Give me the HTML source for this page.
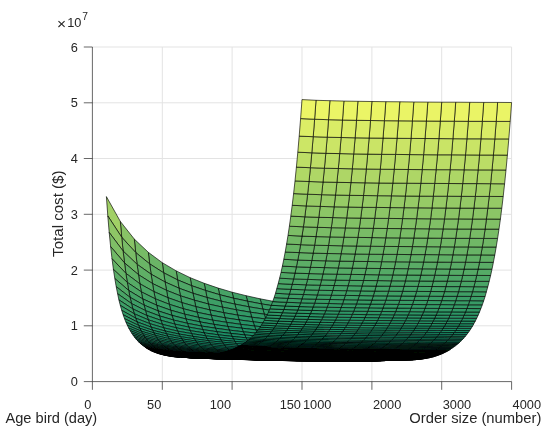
<!DOCTYPE html>
<html><head><meta charset="utf-8"><title>Total cost surface</title>
<style>html,body{margin:0;padding:0;background:#fff}svg{display:block}.b{stroke-width:.8}.c{stroke-width:1.1}.d{stroke-width:1.4}</style></head>
<body>
<svg width="550" height="435" viewBox="0 0 550 435">
<rect width="550" height="435" fill="#ffffff"/>
<g stroke="#e3e3e3" stroke-width="1" fill="none"><line x1="92.4" y1="325.8" x2="511.6" y2="325.8"/><line x1="92.4" y1="270.1" x2="511.6" y2="270.1"/><line x1="92.4" y1="214.3" x2="511.6" y2="214.3"/><line x1="92.4" y1="158.5" x2="511.6" y2="158.5"/><line x1="92.4" y1="102.8" x2="511.6" y2="102.8"/><line x1="92.4" y1="47" x2="511.6" y2="47"/><line x1="162.3" y1="47" x2="162.3" y2="381.6"/><line x1="232.1" y1="47" x2="232.1" y2="381.6"/><line x1="302" y1="47" x2="302" y2="381.6"/><line x1="371.9" y1="47" x2="371.9" y2="381.6"/><line x1="441.7" y1="47" x2="441.7" y2="381.6"/><line x1="511.6" y1="47" x2="511.6" y2="381.6"/></g>
<defs><filter id="soft" filterUnits="userSpaceOnUse" x="0" y="0" width="550" height="435"><feGaussianBlur stdDeviation="0.4"/></filter></defs>
<g stroke="#000" stroke-width="0.65" stroke-linejoin="round" filter="url(#soft)">
<polygon points="302,306.2 303.4,310.2 317.4,311.9 316,308.1" fill="#369a66"/>
<polygon points="303.4,310.2 304.8,314.6 318.8,316.1 317.4,311.9" fill="#329866"/>
<polygon points="304.8,314.6 306.2,319.1 320.2,320.4 318.8,316.1" fill="#2e9666"/>
<polygon points="306.2,319.1 307.6,323.3 321.6,324.5 320.2,320.4" fill="#299466"/>
<polygon points="307.6,323.3 309,327.3 323,328.4 321.6,324.5" fill="#259266"/>
<polygon points="309,327.3 310.4,331 324.4,331.9 323,328.4" fill="#219066"/>
<polygon points="310.4,331 311.8,334.3 325.8,335.2 324.4,331.9" fill="#1e8e66"/>
<polygon points="311.8,334.3 313.2,337.3 327.2,338.1 325.8,335.2" fill="#1a8c66"/>
<polygon points="313.2,337.3 314.6,340.1 328.5,340.8 327.2,338.1" fill="#178b66"/>
<polygon points="314.6,340.1 316,342.5 329.9,343.2 328.5,340.8" fill="#158a66"/>
<polygon points="288,304 289.4,308.3 303.4,310.2 302,306.2" fill="#389c66"/>
<polygon points="316,342.5 317.4,344.7 331.3,345.3 329.9,343.2" fill="#128866"/>
<polygon points="289.4,308.3 290.8,313 304.8,314.6 303.4,310.2" fill="#349a66"/>
<polygon points="317.4,344.7 318.8,346.7 332.7,347.2 331.3,345.3" fill="#108866"/>
<polygon points="290.8,313 292.2,317.6 306.2,319.1 304.8,314.6" fill="#2f9766"/>
<polygon points="318.8,346.7 320.2,348.4 334.1,349 332.7,347.2" fill="#0e8666"/>
<polygon points="292.2,317.6 293.6,322.1 307.6,323.3 306.2,319.1" fill="#2b9566"/>
<polygon points="320.2,348.4 321.6,350 335.5,350.5 334.1,349" fill="#0d8666"/>
<polygon points="293.6,322.1 295,326.2 309,327.3 307.6,323.3" fill="#269266"/>
<polygon points="321.6,350 323,351.4 336.9,351.9 335.5,350.5" fill="#0b8566"/>
<polygon points="295,326.2 296.4,329.9 310.4,331 309,327.3" fill="#229066"/>
<polygon class="b" points="323,351.4 324.4,352.7 338.3,353.2 336.9,351.9" fill="#0a8466"/>
<polygon points="296.4,329.9 297.8,333.4 311.8,334.3 310.4,331" fill="#1f8f66"/>
<polygon class="b" points="324.4,352.7 325.8,353.9 339.7,354.3 338.3,353.2" fill="#088466"/>
<polygon points="297.8,333.4 299.2,336.5 313.2,337.3 311.8,334.3" fill="#1b8d66"/>
<polygon class="b" points="325.8,353.9 327.2,354.9 341.1,355.3 339.7,354.3" fill="#078366"/>
<polygon points="299.2,336.5 300.6,339.3 314.6,340.1 313.2,337.3" fill="#188c66"/>
<polygon class="b" points="327.2,354.9 328.5,355.8 342.5,356.1 341.1,355.3" fill="#068266"/>
<polygon points="300.6,339.3 302,341.8 316,342.5 314.6,340.1" fill="#168a66"/>
<polygon class="c" points="328.5,355.8 329.9,356.6 343.9,356.9 342.5,356.1" fill="#068266"/>
<polygon points="274.1,301.5 275.5,306.2 289.4,308.3 288,304" fill="#3a9c66"/>
<polygon points="302,341.8 303.4,344 317.4,344.7 316,342.5" fill="#138966"/>
<polygon class="c" points="329.9,356.6 331.3,357.3 345.3,357.6 343.9,356.9" fill="#058266"/>
<polygon points="275.5,306.2 276.8,311.2 290.8,313 289.4,308.3" fill="#369a66"/>
<polygon points="303.4,344 304.8,346 318.8,346.7 317.4,344.7" fill="#118866"/>
<polygon class="c" points="331.3,357.3 332.7,357.9 346.7,358.3 345.3,357.6" fill="#048266"/>
<polygon points="276.8,311.2 278.2,316 292.2,317.6 290.8,313" fill="#319866"/>
<polygon points="304.8,346 306.2,347.8 320.2,348.4 318.8,346.7" fill="#0f8766"/>
<polygon class="d" points="332.7,357.9 334.1,358.5 348.1,358.8 346.7,358.3" fill="#038166"/>
<polygon points="278.2,316 279.6,320.6 293.6,322.1 292.2,317.6" fill="#2c9666"/>
<polygon points="306.2,347.8 307.6,349.5 321.6,350 320.2,348.4" fill="#0d8666"/>
<polygon class="d" points="334.1,358.5 335.5,359 349.5,359.3 348.1,358.8" fill="#038166"/>
<polygon points="279.6,320.6 281,324.9 295,326.2 293.6,322.1" fill="#289366"/>
<polygon points="307.6,349.5 309,350.9 323,351.4 321.6,350" fill="#0c8666"/>
<polygon class="d" points="335.5,359 336.9,359.4 350.9,359.7 349.5,359.3" fill="#028066"/>
<polygon points="281,324.9 282.4,328.8 296.4,329.9 295,326.2" fill="#249266"/>
<polygon class="b" points="309,350.9 310.4,352.2 324.4,352.7 323,351.4" fill="#0a8466"/>
<polygon class="d" points="336.9,359.4 338.3,359.8 352.3,360.1 350.9,359.7" fill="#028066"/>
<polygon points="282.4,328.8 283.8,332.3 297.8,333.4 296.4,329.9" fill="#209066"/>
<polygon class="b" points="310.4,352.2 311.8,353.4 325.8,353.9 324.4,352.7" fill="#098466"/>
<polygon class="d" points="338.3,359.8 339.7,360.1 353.7,360.4 352.3,360.1" fill="#028066"/>
<polygon points="283.8,332.3 285.2,335.5 299.2,336.5 297.8,333.4" fill="#1c8e66"/>
<polygon class="b" points="311.8,353.4 313.2,354.4 327.2,354.9 325.8,353.9" fill="#088466"/>
<polygon class="d" points="339.7,360.1 341.1,360.4 355.1,360.6 353.7,360.4" fill="#018066"/>
<polygon points="285.2,335.5 286.6,338.4 300.6,339.3 299.2,336.5" fill="#198c66"/>
<polygon class="b" points="313.2,354.4 314.6,355.4 328.5,355.8 327.2,354.9" fill="#078366"/>
<polygon class="d" points="341.1,360.4 342.5,360.6 356.5,360.9 355.1,360.6" fill="#018066"/>
<polygon points="286.6,338.4 288,340.9 302,341.8 300.6,339.3" fill="#168a66"/>
<polygon class="c" points="314.6,355.4 316,356.2 329.9,356.6 328.5,355.8" fill="#068266"/>
<polygon class="d" points="342.5,360.6 343.9,360.8 357.9,361 356.5,360.9" fill="#018066"/>
<polygon points="260.1,298.8 261.5,303.9 275.5,306.2 274.1,301.5" fill="#3d9e66"/>
<polygon points="288,340.9 289.4,343.3 303.4,344 302,341.8" fill="#148a66"/>
<polygon class="c" points="316,356.2 317.4,356.9 331.3,357.3 329.9,356.6" fill="#058266"/>
<polygon class="d" points="343.9,360.8 345.3,361 359.3,361.2 357.9,361" fill="#018066"/>
<polygon points="261.5,303.9 262.9,309.1 276.8,311.2 275.5,306.2" fill="#389c66"/>
<polygon points="289.4,343.3 290.8,345.3 304.8,346 303.4,344" fill="#128866"/>
<polygon class="c" points="317.4,356.9 318.8,357.6 332.7,357.9 331.3,357.3" fill="#048266"/>
<polygon class="d" points="345.3,361 346.7,361.1 360.7,361.3 359.3,361.2" fill="#008066"/>
<polygon points="262.9,309.1 264.3,314.2 278.2,316 276.8,311.2" fill="#339966"/>
<polygon points="290.8,345.3 292.2,347.2 306.2,347.8 304.8,346" fill="#108866"/>
<polygon class="d" points="318.8,357.6 320.2,358.2 334.1,358.5 332.7,357.9" fill="#048266"/>
<polygon class="d" points="346.7,361.1 348.1,361.2 362.1,361.4 360.7,361.3" fill="#008066"/>
<polygon points="264.3,314.2 265.7,319 279.6,320.6 278.2,316" fill="#2e9666"/>
<polygon points="292.2,347.2 293.6,348.9 307.6,349.5 306.2,347.8" fill="#0e8666"/>
<polygon class="d" points="320.2,358.2 321.6,358.7 335.5,359 334.1,358.5" fill="#038166"/>
<polygon class="d" points="348.1,361.2 349.5,361.2 363.5,361.4 362.1,361.4" fill="#008066"/>
<polygon points="265.7,319 267.1,323.4 281,324.9 279.6,320.6" fill="#299466"/>
<polygon points="293.6,348.9 295,350.3 309,350.9 307.6,349.5" fill="#0c8666"/>
<polygon class="d" points="321.6,358.7 323,359.1 336.9,359.4 335.5,359" fill="#038166"/>
<polygon class="d" points="349.5,361.2 350.9,361.3 364.9,361.4 363.5,361.4" fill="#008066"/>
<polygon points="267.1,323.4 268.5,327.5 282.4,328.8 281,324.9" fill="#259266"/>
<polygon points="295,350.3 296.4,351.7 310.4,352.2 309,350.9" fill="#0b8566"/>
<polygon class="d" points="323,359.1 324.4,359.5 338.3,359.8 336.9,359.4" fill="#028066"/>
<polygon class="d" points="350.9,361.3 352.3,361.3 366.3,361.4 364.9,361.4" fill="#008066"/>
<polygon points="268.5,327.5 269.9,331.1 283.8,332.3 282.4,328.8" fill="#219066"/>
<polygon class="b" points="296.4,351.7 297.8,352.9 311.8,353.4 310.4,352.2" fill="#098466"/>
<polygon class="d" points="324.4,359.5 325.8,359.9 339.7,360.1 338.3,359.8" fill="#028066"/>
<polygon class="d" points="352.3,361.3 353.7,361.3 367.7,361.4 366.3,361.4" fill="#008066"/>
<polygon points="269.9,331.1 271.3,334.4 285.2,335.5 283.8,332.3" fill="#1e8e66"/>
<polygon class="b" points="297.8,352.9 299.2,353.9 313.2,354.4 311.8,353.4" fill="#088466"/>
<polygon class="d" points="325.8,359.9 327.2,360.2 341.1,360.4 339.7,360.1" fill="#028066"/>
<polygon class="d" points="353.7,361.3 355.1,361.2 369.1,361.4 367.7,361.4" fill="#008066"/>
<polygon points="271.3,334.4 272.7,337.4 286.6,338.4 285.2,335.5" fill="#1a8c66"/>
<polygon class="b" points="299.2,353.9 300.6,354.9 314.6,355.4 313.2,354.4" fill="#078366"/>
<polygon class="d" points="327.2,360.2 328.5,360.4 342.5,360.6 341.1,360.4" fill="#018066"/>
<polygon class="d" points="355.1,361.2 356.5,361.2 370.5,361.3 369.1,361.4" fill="#008066"/>
<polygon points="272.7,337.4 274.1,340 288,340.9 286.6,338.4" fill="#178b66"/>
<polygon class="c" points="300.6,354.9 302,355.8 316,356.2 314.6,355.4" fill="#068266"/>
<polygon class="d" points="328.5,360.4 329.9,360.6 343.9,360.8 342.5,360.6" fill="#018066"/>
<polygon class="d" points="356.5,361.2 357.9,361.1 371.9,361.3 370.5,361.3" fill="#008066"/>
<polygon points="274.1,340 275.5,342.4 289.4,343.3 288,340.9" fill="#158a66"/>
<polygon class="c" points="302,355.8 303.4,356.5 317.4,356.9 316,356.2" fill="#068266"/>
<polygon class="d" points="329.9,360.6 331.3,360.8 345.3,361 343.9,360.8" fill="#018066"/>
<polygon class="d" points="357.9,361.1 359.3,361.1 373.3,361.2 371.9,361.3" fill="#008066"/>
<polygon points="246.1,295.7 247.5,301.2 261.5,303.9 260.1,298.8" fill="#40a066"/>
<polygon points="275.5,342.4 276.8,344.5 290.8,345.3 289.4,343.3" fill="#138966"/>
<polygon class="c" points="303.4,356.5 304.8,357.2 318.8,357.6 317.4,356.9" fill="#058266"/>
<polygon points="247.5,301.2 248.9,306.8 262.9,309.1 261.5,303.9" fill="#3b9d66"/>
<polygon class="d" points="331.3,360.8 332.7,360.9 346.7,361.1 345.3,361" fill="#018066"/>
<polygon class="d" points="359.3,361.1 360.7,361 374.7,361.1 373.3,361.2" fill="#008066"/>
<polygon points="276.8,344.5 278.2,346.4 292.2,347.2 290.8,345.3" fill="#108866"/>
<polygon class="d" points="304.8,357.2 306.2,357.8 320.2,358.2 318.8,357.6" fill="#048266"/>
<polygon class="d" points="332.7,360.9 334.1,361 348.1,361.2 346.7,361.1" fill="#018066"/>
<polygon class="d" points="360.7,361 362.1,360.9 376.1,361 374.7,361.1" fill="#008066"/>
<polygon points="248.9,306.8 250.3,312.2 264.3,314.2 262.9,309.1" fill="#359a66"/>
<polygon points="278.2,346.4 279.6,348.2 293.6,348.9 292.2,347.2" fill="#0f8766"/>
<polygon class="d" points="306.2,357.8 307.6,358.3 321.6,358.7 320.2,358.2" fill="#048266"/>
<polygon class="d" points="334.1,361 335.5,361 349.5,361.2 348.1,361.2" fill="#008066"/>
<polygon points="250.3,312.2 251.7,317.2 265.7,319 264.3,314.2" fill="#309866"/>
<polygon class="d" points="362.1,360.9 363.5,360.8 377.5,360.9 376.1,361" fill="#018066"/>
<polygon points="279.6,348.2 281,349.7 295,350.3 293.6,348.9" fill="#0d8666"/>
<polygon class="d" points="307.6,358.3 309,358.8 323,359.1 321.6,358.7" fill="#038166"/>
<polygon points="251.7,317.2 253.1,321.8 267.1,323.4 265.7,319" fill="#2b9566"/>
<polygon class="d" points="335.5,361 336.9,361.1 350.9,361.3 349.5,361.2" fill="#008066"/>
<polygon class="d" points="363.5,360.8 364.9,360.7 378.9,360.8 377.5,360.9" fill="#018066"/>
<polygon points="253.1,321.8 254.5,326 268.5,327.5 267.1,323.4" fill="#279366"/>
<polygon points="281,349.7 282.4,351.1 296.4,351.7 295,350.3" fill="#0b8566"/>
<polygon class="d" points="309,358.8 310.4,359.2 324.4,359.5 323,359.1" fill="#038166"/>
<polygon class="d" points="336.9,361.1 338.3,361.1 352.3,361.3 350.9,361.3" fill="#008066"/>
<polygon class="d" points="364.9,360.7 366.3,360.6 380.3,360.7 378.9,360.8" fill="#018066"/>
<polygon class="b" points="282.4,351.1 283.8,352.3 297.8,352.9 296.4,351.7" fill="#0a8466"/>
<polygon class="d" points="310.4,359.2 311.8,359.6 325.8,359.9 324.4,359.5" fill="#028066"/>
<polygon class="d" points="338.3,361.1 339.7,361.1 353.7,361.3 352.3,361.3" fill="#008066"/>
<polygon class="d" points="366.3,360.6 367.7,360.6 381.6,360.6 380.3,360.7" fill="#018066"/>
<polygon points="254.5,326 255.9,329.8 269.9,331.1 268.5,327.5" fill="#239166"/>
<polygon class="b" points="283.8,352.3 285.2,353.4 299.2,353.9 297.8,352.9" fill="#098466"/>
<polygon class="d" points="311.8,359.6 313.2,359.9 327.2,360.2 325.8,359.9" fill="#028066"/>
<polygon class="d" points="339.7,361.1 341.1,361.1 355.1,361.2 353.7,361.3" fill="#008066"/>
<polygon points="255.9,329.8 257.3,333.2 271.3,334.4 269.9,331.1" fill="#1f8f66"/>
<polygon class="d" points="367.7,360.6 369.1,360.5 383,360.5 381.6,360.6" fill="#018066"/>
<polygon points="257.3,333.2 258.7,336.2 272.7,337.4 271.3,334.4" fill="#1c8e66"/>
<polygon class="b" points="285.2,353.4 286.6,354.4 300.6,354.9 299.2,353.9" fill="#088466"/>
<polygon class="d" points="313.2,359.9 314.6,360.1 328.5,360.4 327.2,360.2" fill="#028066"/>
<polygon class="d" points="341.1,361.1 342.5,361 356.5,361.2 355.1,361.2" fill="#008066"/>
<polygon class="d" points="369.1,360.5 370.5,360.4 384.4,360.5 383,360.5" fill="#018066"/>
<polygon class="b" points="286.6,354.4 288,355.3 302,355.8 300.6,354.9" fill="#078366"/>
<polygon class="d" points="314.6,360.1 316,360.3 329.9,360.6 328.5,360.4" fill="#018066"/>
<polygon class="d" points="342.5,361 343.9,361 357.9,361.1 356.5,361.2" fill="#008066"/>
<polygon class="d" points="370.5,360.4 371.9,360.3 385.8,360.4 384.4,360.5" fill="#018066"/>
<polygon points="258.7,336.2 260.1,339 274.1,340 272.7,337.4" fill="#198c66"/>
<polygon class="c" points="288,355.3 289.4,356.1 303.4,356.5 302,355.8" fill="#068266"/>
<polygon class="d" points="316,360.3 317.4,360.5 331.3,360.8 329.9,360.6" fill="#018066"/>
<polygon class="d" points="343.9,361 345.3,360.9 359.3,361.1 357.9,361.1" fill="#008066"/>
<polygon class="d" points="371.9,360.3 373.3,360.2 387.2,360.3 385.8,360.4" fill="#018066"/>
<polygon points="232.1,292.2 233.5,298.2 247.5,301.2 246.1,295.7" fill="#43a166"/>
<polygon points="260.1,339 261.5,341.4 275.5,342.4 274.1,340" fill="#168a66"/>
<polygon class="c" points="289.4,356.1 290.8,356.8 304.8,357.2 303.4,356.5" fill="#058266"/>
<polygon points="233.5,298.2 234.9,304.1 248.9,306.8 247.5,301.2" fill="#3e9e66"/>
<polygon points="261.5,341.4 262.9,343.6 276.8,344.5 275.5,342.4" fill="#138966"/>
<polygon class="d" points="317.4,360.5 318.8,360.7 332.7,360.9 331.3,360.8" fill="#018066"/>
<polygon class="d" points="345.3,360.9 346.7,360.9 360.7,361 359.3,361.1" fill="#008066"/>
<polygon class="d" points="373.3,360.2 374.7,360.2 388.6,360.2 387.2,360.3" fill="#018066"/>
<polygon class="d" points="290.8,356.8 292.2,357.4 306.2,357.8 304.8,357.2" fill="#058266"/>
<polygon class="d" points="318.8,360.7 320.2,360.8 334.1,361 332.7,360.9" fill="#018066"/>
<polygon class="d" points="346.7,360.9 348.1,360.8 362.1,360.9 360.7,361" fill="#018066"/>
<polygon class="d" points="374.7,360.2 376.1,360.1 390,360.2 388.6,360.2" fill="#018066"/>
<polygon points="234.9,304.1 236.3,309.8 250.3,312.2 248.9,306.8" fill="#389c66"/>
<polygon points="262.9,343.6 264.3,345.6 278.2,346.4 276.8,344.5" fill="#118866"/>
<polygon class="d" points="292.2,357.4 293.6,357.9 307.6,358.3 306.2,357.8" fill="#048266"/>
<polygon class="d" points="320.2,360.8 321.6,360.8 335.5,361 334.1,361" fill="#018066"/>
<polygon points="236.3,309.8 237.7,315.1 251.7,317.2 250.3,312.2" fill="#329866"/>
<polygon class="d" points="348.1,360.8 349.5,360.7 363.5,360.8 362.1,360.9" fill="#018066"/>
<polygon class="d" points="376.1,360.1 377.5,360.1 391.4,360.1 390,360.2" fill="#018066"/>
<polygon points="264.3,345.6 265.7,347.4 279.6,348.2 278.2,346.4" fill="#0f8766"/>
<polygon class="d" points="293.6,357.9 295,358.4 309,358.8 307.6,358.3" fill="#038166"/>
<polygon points="237.7,315.1 239.1,319.9 253.1,321.8 251.7,317.2" fill="#2d9666"/>
<polygon points="265.7,347.4 267.1,348.9 281,349.7 279.6,348.2" fill="#0e8666"/>
<polygon class="d" points="321.6,360.8 323,360.9 336.9,361.1 335.5,361" fill="#018066"/>
<polygon class="d" points="349.5,360.7 350.9,360.6 364.9,360.7 363.5,360.8" fill="#018066"/>
<polygon class="d" points="377.5,360.1 378.9,360 392.8,360.1 391.4,360.1" fill="#018066"/>
<polygon points="239.1,319.9 240.5,324.3 254.5,326 253.1,321.8" fill="#289366"/>
<polygon class="d" points="295,358.4 296.4,358.8 310.4,359.2 309,358.8" fill="#038166"/>
<polygon class="d" points="323,360.9 324.4,360.9 338.3,361.1 336.9,361.1" fill="#018066"/>
<polygon class="d" points="350.9,360.6 352.3,360.5 366.3,360.6 364.9,360.7" fill="#018066"/>
<polygon class="d" points="378.9,360 380.3,360 394.2,360 392.8,360.1" fill="#018066"/>
<polygon points="267.1,348.9 268.5,350.4 282.4,351.1 281,349.7" fill="#0c8666"/>
<polygon class="d" points="296.4,358.8 297.8,359.2 311.8,359.6 310.4,359.2" fill="#038166"/>
<polygon class="d" points="324.4,360.9 325.8,360.9 339.7,361.1 338.3,361.1" fill="#008066"/>
<polygon class="d" points="352.3,360.5 353.7,360.5 367.7,360.6 366.3,360.6" fill="#018066"/>
<polygon points="240.5,324.3 241.9,328.2 255.9,329.8 254.5,326" fill="#249266"/>
<polygon class="b" points="268.5,350.4 269.9,351.6 283.8,352.3 282.4,351.1" fill="#0b8566"/>
<polygon class="d" points="380.3,360 381.6,360 395.6,360 394.2,360" fill="#018066"/>
<polygon class="d" points="297.8,359.2 299.2,359.5 313.2,359.9 311.8,359.6" fill="#028066"/>
<polygon class="d" points="325.8,360.9 327.2,360.9 341.1,361.1 339.7,361.1" fill="#008066"/>
<polygon points="241.9,328.2 243.3,331.8 257.3,333.2 255.9,329.8" fill="#209066"/>
<polygon class="b" points="269.9,351.6 271.3,352.8 285.2,353.4 283.8,352.3" fill="#0a8466"/>
<polygon class="d" points="353.7,360.5 355.1,360.4 369.1,360.5 367.7,360.6" fill="#018066"/>
<polygon class="d" points="381.6,360 383,359.9 397,360 395.6,360" fill="#018066"/>
<polygon points="243.3,331.8 244.7,334.9 258.7,336.2 257.3,333.2" fill="#1d8e66"/>
<polygon class="b" points="271.3,352.8 272.7,353.8 286.6,354.4 285.2,353.4" fill="#088466"/>
<polygon class="d" points="299.2,359.5 300.6,359.8 314.6,360.1 313.2,359.9" fill="#028066"/>
<polygon class="d" points="327.2,360.9 328.5,360.9 342.5,361 341.1,361.1" fill="#018066"/>
<polygon class="d" points="355.1,360.4 356.5,360.3 370.5,360.4 369.1,360.5" fill="#018066"/>
<polygon class="d" points="383,359.9 384.4,359.9 398.4,360 397,360" fill="#018066"/>
<polygon class="d" points="300.6,359.8 302,360 316,360.3 314.6,360.1" fill="#028066"/>
<polygon class="d" points="328.5,360.9 329.9,360.8 343.9,361 342.5,361" fill="#018066"/>
<polygon class="d" points="356.5,360.3 357.9,360.2 371.9,360.3 370.5,360.4" fill="#018066"/>
<polygon class="d" points="384.4,359.9 385.8,359.9 399.8,359.9 398.4,360" fill="#018066"/>
<polygon points="244.7,334.9 246.1,337.8 260.1,339 258.7,336.2" fill="#1a8c66"/>
<polygon class="b" points="272.7,353.8 274.1,354.7 288,355.3 286.6,354.4" fill="#078366"/>
<polygon class="d" points="302,360 303.4,360.2 317.4,360.5 316,360.3" fill="#018066"/>
<polygon class="d" points="329.9,360.8 331.3,360.8 345.3,360.9 343.9,361" fill="#018066"/>
<polygon class="d" points="357.9,360.2 359.3,360.2 373.3,360.2 371.9,360.3" fill="#018066"/>
<polygon class="d" points="385.8,359.9 387.2,359.9 401.2,359.9 399.8,359.9" fill="#018066"/>
<polygon points="218.2,288.1 219.6,294.7 233.5,298.2 232.1,292.2" fill="#47a366"/>
<polygon points="246.1,337.8 247.5,340.3 261.5,341.4 260.1,339" fill="#178b66"/>
<polygon class="c" points="274.1,354.7 275.5,355.5 289.4,356.1 288,355.3" fill="#078366"/>
<polygon class="d" points="303.4,360.2 304.8,360.4 318.8,360.7 317.4,360.5" fill="#018066"/>
<polygon class="d" points="331.3,360.8 332.7,360.7 346.7,360.9 345.3,360.9" fill="#018066"/>
<polygon class="d" points="359.3,360.2 360.7,360.1 374.7,360.2 373.3,360.2" fill="#018066"/>
<polygon points="219.6,294.7 221,301.1 234.9,304.1 233.5,298.2" fill="#41a066"/>
<polygon points="247.5,340.3 248.9,342.6 262.9,343.6 261.5,341.4" fill="#158a66"/>
<polygon class="c" points="275.5,355.5 276.8,356.3 290.8,356.8 289.4,356.1" fill="#068266"/>
<polygon class="d" points="387.2,359.9 388.6,359.9 402.6,359.9 401.2,359.9" fill="#028066"/>
<polygon class="d" points="304.8,360.4 306.2,360.5 320.2,360.8 318.8,360.7" fill="#018066"/>
<polygon class="d" points="332.7,360.7 334.1,360.7 348.1,360.8 346.7,360.9" fill="#018066"/>
<polygon points="221,301.1 222.4,307.1 236.3,309.8 234.9,304.1" fill="#3b9d66"/>
<polygon class="d" points="360.7,360.1 362.1,360.1 376.1,360.1 374.7,360.2" fill="#018066"/>
<polygon class="d" points="388.6,359.9 390,359.8 404,359.9 402.6,359.9" fill="#028066"/>
<polygon points="248.9,342.6 250.3,344.6 264.3,345.6 262.9,343.6" fill="#128866"/>
<polygon class="c" points="276.8,356.3 278.2,356.9 292.2,357.4 290.8,356.8" fill="#058266"/>
<polygon class="d" points="306.2,360.5 307.6,360.6 321.6,360.8 320.2,360.8" fill="#018066"/>
<polygon points="222.4,307.1 223.7,312.7 237.7,315.1 236.3,309.8" fill="#359a66"/>
<polygon class="d" points="334.1,360.7 335.5,360.6 349.5,360.7 348.1,360.8" fill="#018066"/>
<polygon class="d" points="362.1,360.1 363.5,360 377.5,360.1 376.1,360.1" fill="#018066"/>
<polygon class="d" points="390,359.8 391.4,359.8 405.4,359.9 404,359.9" fill="#028066"/>
<polygon points="250.3,344.6 251.7,346.5 265.7,347.4 264.3,345.6" fill="#108866"/>
<polygon class="d" points="278.2,356.9 279.6,357.5 293.6,357.9 292.2,357.4" fill="#048266"/>
<polygon class="d" points="307.6,360.6 309,360.7 323,360.9 321.6,360.8" fill="#018066"/>
<polygon class="d" points="335.5,360.6 336.9,360.5 350.9,360.6 349.5,360.7" fill="#018066"/>
<polygon class="d" points="363.5,360 364.9,360 378.9,360 377.5,360.1" fill="#018066"/>
<polygon class="d" points="391.4,359.8 392.8,359.8 406.8,359.8 405.4,359.9" fill="#028066"/>
<polygon points="223.7,312.7 225.1,317.8 239.1,319.9 237.7,315.1" fill="#2f9766"/>
<polygon points="251.7,346.5 253.1,348.1 267.1,348.9 265.7,347.4" fill="#0f8766"/>
<polygon class="d" points="279.6,357.5 281,358 295,358.4 293.6,357.9" fill="#048266"/>
<polygon class="d" points="309,360.7 310.4,360.7 324.4,360.9 323,360.9" fill="#018066"/>
<polygon class="d" points="336.9,360.5 338.3,360.4 352.3,360.5 350.9,360.6" fill="#018066"/>
<polygon class="d" points="364.9,360 366.3,359.9 380.3,360 378.9,360" fill="#018066"/>
<polygon class="d" points="392.8,359.8 394.2,359.8 408.2,359.8 406.8,359.8" fill="#028066"/>
<polygon points="225.1,317.8 226.5,322.3 240.5,324.3 239.1,319.9" fill="#2b9566"/>
<polygon points="253.1,348.1 254.5,349.6 268.5,350.4 267.1,348.9" fill="#0d8666"/>
<polygon class="d" points="281,358 282.4,358.4 296.4,358.8 295,358.4" fill="#038166"/>
<polygon class="d" points="310.4,360.7 311.8,360.7 325.8,360.9 324.4,360.9" fill="#018066"/>
<polygon class="d" points="338.3,360.4 339.7,360.4 353.7,360.5 352.3,360.5" fill="#018066"/>
<polygon points="226.5,322.3 227.9,326.5 241.9,328.2 240.5,324.3" fill="#269266"/>
<polygon class="b" points="254.5,349.6 255.9,350.9 269.9,351.6 268.5,350.4" fill="#0c8666"/>
<polygon class="d" points="366.3,359.9 367.7,359.9 381.6,360 380.3,360" fill="#018066"/>
<polygon class="d" points="394.2,359.8 395.6,359.7 409.6,359.8 408.2,359.8" fill="#028066"/>
<polygon class="d" points="282.4,358.4 283.8,358.8 297.8,359.2 296.4,358.8" fill="#038166"/>
<polygon class="d" points="311.8,360.7 313.2,360.7 327.2,360.9 325.8,360.9" fill="#018066"/>
<polygon class="d" points="339.7,360.4 341.1,360.3 355.1,360.4 353.7,360.5" fill="#018066"/>
<polygon class="d" points="367.7,359.9 369.1,359.9 383,359.9 381.6,360" fill="#018066"/>
<polygon points="227.9,326.5 229.3,330.1 243.3,331.8 241.9,328.2" fill="#229066"/>
<polygon class="b" points="255.9,350.9 257.3,352.1 271.3,352.8 269.9,351.6" fill="#0a8466"/>
<polygon class="d" points="283.8,358.8 285.2,359.2 299.2,359.5 297.8,359.2" fill="#038166"/>
<polygon class="d" points="395.6,359.7 397,359.7 411,359.7 409.6,359.8" fill="#028066"/>
<polygon class="d" points="313.2,360.7 314.6,360.7 328.5,360.9 327.2,360.9" fill="#018066"/>
<polygon class="d" points="341.1,360.3 342.5,360.2 356.5,360.3 355.1,360.4" fill="#018066"/>
<polygon class="d" points="369.1,359.9 370.5,359.9 384.4,359.9 383,359.9" fill="#028066"/>
<polygon class="d" points="397,359.7 398.4,359.6 412.4,359.7 411,359.7" fill="#028066"/>
<polygon points="229.3,330.1 230.7,333.4 244.7,334.9 243.3,331.8" fill="#1e8e66"/>
<polygon class="b" points="257.3,352.1 258.7,353.1 272.7,353.8 271.3,352.8" fill="#098466"/>
<polygon class="d" points="285.2,359.2 286.6,359.5 300.6,359.8 299.2,359.5" fill="#028066"/>
<polygon class="d" points="314.6,360.7 316,360.7 329.9,360.8 328.5,360.9" fill="#018066"/>
<polygon class="d" points="342.5,360.2 343.9,360.2 357.9,360.2 356.5,360.3" fill="#018066"/>
<polygon class="d" points="370.5,359.9 371.9,359.8 385.8,359.9 384.4,359.9" fill="#028066"/>
<polygon points="230.7,333.4 232.1,336.4 246.1,337.8 244.7,334.9" fill="#1b8d66"/>
<polygon class="b" points="258.7,353.1 260.1,354.1 274.1,354.7 272.7,353.8" fill="#088466"/>
<polygon class="d" points="286.6,359.5 288,359.7 302,360 300.6,359.8" fill="#028066"/>
<polygon class="d" points="398.4,359.6 399.8,359.5 413.8,359.6 412.4,359.7" fill="#028066"/>
<polygon class="d" points="316,360.7 317.4,360.6 331.3,360.8 329.9,360.8" fill="#018066"/>
<polygon class="d" points="343.9,360.2 345.3,360.1 359.3,360.2 357.9,360.2" fill="#018066"/>
<polygon class="d" points="371.9,359.8 373.3,359.8 387.2,359.9 385.8,359.9" fill="#028066"/>
<polygon class="d" points="399.8,359.5 401.2,359.4 415.2,359.5 413.8,359.6" fill="#028066"/>
<polygon points="204.2,283.3 205.6,290.5 219.6,294.7 218.2,288.1" fill="#4ca666"/>
<polygon points="232.1,336.4 233.5,339 247.5,340.3 246.1,337.8" fill="#188c66"/>
<polygon class="c" points="260.1,354.1 261.5,354.9 275.5,355.5 274.1,354.7" fill="#078366"/>
<polygon class="d" points="288,359.7 289.4,359.9 303.4,360.2 302,360" fill="#028066"/>
<polygon class="d" points="317.4,360.6 318.8,360.6 332.7,360.7 331.3,360.8" fill="#018066"/>
<polygon class="d" points="345.3,360.1 346.7,360 360.7,360.1 359.3,360.2" fill="#018066"/>
<polygon points="205.6,290.5 207,297.5 221,301.1 219.6,294.7" fill="#45a266"/>
<polygon points="233.5,339 234.9,341.4 248.9,342.6 247.5,340.3" fill="#168a66"/>
<polygon class="c" points="261.5,354.9 262.9,355.7 276.8,356.3 275.5,355.5" fill="#068266"/>
<polygon class="d" points="373.3,359.8 374.7,359.8 388.6,359.9 387.2,359.9" fill="#028066"/>
<polygon class="d" points="401.2,359.4 402.6,359.3 416.6,359.4 415.2,359.5" fill="#028066"/>
<polygon class="d" points="289.4,359.9 290.8,360.1 304.8,360.4 303.4,360.2" fill="#018066"/>
<polygon class="d" points="318.8,360.6 320.2,360.5 334.1,360.7 332.7,360.7" fill="#018066"/>
<polygon points="207,297.5 208.4,304 222.4,307.1 221,301.1" fill="#3e9e66"/>
<polygon class="d" points="346.7,360 348.1,360 362.1,360.1 360.7,360.1" fill="#018066"/>
<polygon class="d" points="374.7,359.8 376.1,359.8 390,359.8 388.6,359.9" fill="#028066"/>
<polygon points="234.9,341.4 236.3,343.5 250.3,344.6 248.9,342.6" fill="#148a66"/>
<polygon class="c" points="262.9,355.7 264.3,356.4 278.2,356.9 276.8,356.3" fill="#068266"/>
<polygon class="d" points="290.8,360.1 292.2,360.2 306.2,360.5 304.8,360.4" fill="#018066"/>
<polygon class="d" points="402.6,359.3 404,359.2 418,359.3 416.6,359.4" fill="#028066"/>
<polygon points="208.4,304 209.8,309.9 223.7,312.7 222.4,307.1" fill="#389c66"/>
<polygon class="d" points="320.2,360.5 321.6,360.5 335.5,360.6 334.1,360.7" fill="#018066"/>
<polygon class="d" points="348.1,360 349.5,359.9 363.5,360 362.1,360.1" fill="#018066"/>
<polygon class="d" points="376.1,359.8 377.5,359.8 391.4,359.8 390,359.8" fill="#028066"/>
<polygon class="d" points="404,359.2 405.4,359.1 419.4,359.1 418,359.3" fill="#028066"/>
<polygon points="236.3,343.5 237.7,345.4 251.7,346.5 250.3,344.6" fill="#118866"/>
<polygon class="d" points="264.3,356.4 265.7,357 279.6,357.5 278.2,356.9" fill="#058266"/>
<polygon class="d" points="292.2,360.2 293.6,360.3 307.6,360.6 306.2,360.5" fill="#018066"/>
<polygon class="d" points="321.6,360.5 323,360.4 336.9,360.5 335.5,360.6" fill="#018066"/>
<polygon class="d" points="349.5,359.9 350.9,359.9 364.9,360 363.5,360" fill="#018066"/>
<polygon class="d" points="377.5,359.8 378.9,359.7 392.8,359.8 391.4,359.8" fill="#028066"/>
<polygon points="209.8,309.9 211.2,315.2 225.1,317.8 223.7,312.7" fill="#329866"/>
<polygon points="237.7,345.4 239.1,347.1 253.1,348.1 251.7,346.5" fill="#108866"/>
<polygon class="d" points="265.7,357 267.1,357.5 281,358 279.6,357.5" fill="#048266"/>
<polygon class="d" points="405.4,359.1 406.8,358.9 420.8,359 419.4,359.1" fill="#028066"/>
<polygon class="d" points="293.6,360.3 295,360.4 309,360.7 307.6,360.6" fill="#018066"/>
<polygon class="d" points="323,360.4 324.4,360.3 338.3,360.4 336.9,360.5" fill="#018066"/>
<polygon class="d" points="350.9,359.9 352.3,359.9 366.3,359.9 364.9,360" fill="#018066"/>
<polygon class="d" points="378.9,359.7 380.3,359.7 394.2,359.8 392.8,359.8" fill="#028066"/>
<polygon class="d" points="406.8,358.9 408.2,358.7 422.2,358.8 420.8,359" fill="#028066"/>
<polygon points="211.2,315.2 212.6,320.1 226.5,322.3 225.1,317.8" fill="#2d9666"/>
<polygon points="239.1,347.1 240.5,348.6 254.5,349.6 253.1,348.1" fill="#0e8666"/>
<polygon class="d" points="267.1,357.5 268.5,358 282.4,358.4 281,358" fill="#048266"/>
<polygon class="d" points="295,360.4 296.4,360.5 310.4,360.7 309,360.7" fill="#018066"/>
<polygon class="d" points="324.4,360.3 325.8,360.3 339.7,360.4 338.3,360.4" fill="#018066"/>
<polygon points="212.6,320.1 214,324.4 227.9,326.5 226.5,322.3" fill="#289366"/>
<polygon points="240.5,348.6 241.9,350 255.9,350.9 254.5,349.6" fill="#0c8666"/>
<polygon class="d" points="352.3,359.9 353.7,359.8 367.7,359.9 366.3,359.9" fill="#028066"/>
<polygon class="d" points="380.3,359.7 381.6,359.6 395.6,359.7 394.2,359.8" fill="#028066"/>
<polygon class="d" points="408.2,358.7 409.6,358.5 423.6,358.6 422.2,358.8" fill="#038166"/>
<polygon class="d" points="268.5,358 269.9,358.4 283.8,358.8 282.4,358.4" fill="#038166"/>
<polygon class="d" points="296.4,360.5 297.8,360.5 311.8,360.7 310.4,360.7" fill="#018066"/>
<polygon class="d" points="325.8,360.3 327.2,360.2 341.1,360.3 339.7,360.4" fill="#018066"/>
<polygon class="d" points="353.7,359.8 355.1,359.8 369.1,359.9 367.7,359.9" fill="#028066"/>
<polygon points="214,324.4 215.4,328.2 229.3,330.1 227.9,326.5" fill="#249266"/>
<polygon class="b" points="241.9,350 243.3,351.3 257.3,352.1 255.9,350.9" fill="#0b8566"/>
<polygon class="d" points="269.9,358.4 271.3,358.7 285.2,359.2 283.8,358.8" fill="#038166"/>
<polygon class="d" points="297.8,360.5 299.2,360.5 313.2,360.7 311.8,360.7" fill="#018066"/>
<polygon class="d" points="381.6,359.6 383,359.6 397,359.7 395.6,359.7" fill="#028066"/>
<polygon class="d" points="409.6,358.5 411,358.3 425,358.4 423.6,358.6" fill="#038166"/>
<polygon class="d" points="327.2,360.2 328.5,360.1 342.5,360.2 341.1,360.3" fill="#018066"/>
<polygon class="d" points="355.1,359.8 356.5,359.8 370.5,359.9 369.1,359.9" fill="#028066"/>
<polygon class="d" points="383,359.6 384.4,359.5 398.4,359.6 397,359.7" fill="#028066"/>
<polygon class="d" points="411,358.3 412.4,358 426.4,358.1 425,358.4" fill="#038166"/>
<polygon points="215.4,328.2 216.8,331.7 230.7,333.4 229.3,330.1" fill="#209066"/>
<polygon class="b" points="243.3,351.3 244.7,352.4 258.7,353.1 257.3,352.1" fill="#0a8466"/>
<polygon class="d" points="271.3,358.7 272.7,359.1 286.6,359.5 285.2,359.2" fill="#038166"/>
<polygon class="d" points="299.2,360.5 300.6,360.5 314.6,360.7 313.2,360.7" fill="#018066"/>
<polygon class="d" points="328.5,360.1 329.9,360.1 343.9,360.2 342.5,360.2" fill="#018066"/>
<polygon class="d" points="356.5,359.8 357.9,359.8 371.9,359.8 370.5,359.9" fill="#028066"/>
<polygon points="216.8,331.7 218.2,334.8 232.1,336.4 230.7,333.4" fill="#1d8e66"/>
<polygon class="b" points="244.7,352.4 246.1,353.3 260.1,354.1 258.7,353.1" fill="#098466"/>
<polygon class="d" points="272.7,359.1 274.1,359.3 288,359.7 286.6,359.5" fill="#028066"/>
<polygon class="d" points="384.4,359.5 385.8,359.5 399.8,359.5 398.4,359.6" fill="#028066"/>
<polygon class="d" points="412.4,358 413.8,357.8 427.8,357.8 426.4,358.1" fill="#038166"/>
<polygon class="d" points="300.6,360.5 302,360.5 316,360.7 314.6,360.7" fill="#018066"/>
<polygon class="d" points="329.9,360.1 331.3,360 345.3,360.1 343.9,360.2" fill="#018066"/>
<polygon class="d" points="357.9,359.8 359.3,359.8 373.3,359.8 371.9,359.8" fill="#028066"/>
<polygon class="d" points="385.8,359.5 387.2,359.4 401.2,359.4 399.8,359.5" fill="#028066"/>
<polygon points="190.2,277.7 191.6,285.7 205.6,290.5 204.2,283.3" fill="#52a866"/>
<polygon points="218.2,334.8 219.6,337.5 233.5,339 232.1,336.4" fill="#1a8c66"/>
<polygon class="b" points="246.1,353.3 247.5,354.2 261.5,354.9 260.1,354.1" fill="#088466"/>
<polygon class="d" points="274.1,359.3 275.5,359.6 289.4,359.9 288,359.7" fill="#028066"/>
<polygon class="d" points="302,360.5 303.4,360.5 317.4,360.6 316,360.7" fill="#018066"/>
<polygon class="d" points="413.8,357.8 415.2,357.5 429.2,357.6 427.8,357.8" fill="#048266"/>
<polygon class="d" points="331.3,360 332.7,360 346.7,360 345.3,360.1" fill="#018066"/>
<polygon points="191.6,285.7 193,293.3 207,297.5 205.6,290.5" fill="#4aa466"/>
<polygon points="219.6,337.5 221,340 234.9,341.4 233.5,339" fill="#178b66"/>
<polygon class="c" points="247.5,354.2 248.9,355 262.9,355.7 261.5,354.9" fill="#078366"/>
<polygon class="d" points="359.3,359.8 360.7,359.7 374.7,359.8 373.3,359.8" fill="#028066"/>
<polygon class="d" points="387.2,359.4 388.6,359.3 402.6,359.3 401.2,359.4" fill="#028066"/>
<polygon class="d" points="415.2,357.5 416.6,357.2 430.6,357.2 429.2,357.6" fill="#048266"/>
<polygon class="d" points="275.5,359.6 276.8,359.7 290.8,360.1 289.4,359.9" fill="#028066"/>
<polygon class="d" points="303.4,360.5 304.8,360.4 318.8,360.6 317.4,360.6" fill="#018066"/>
<polygon points="193,293.3 194.4,300.2 208.4,304 207,297.5" fill="#42a066"/>
<polygon class="d" points="332.7,360 334.1,359.9 348.1,360 346.7,360" fill="#018066"/>
<polygon class="d" points="360.7,359.7 362.1,359.7 376.1,359.8 374.7,359.8" fill="#028066"/>
<polygon points="221,340 222.4,342.2 236.3,343.5 234.9,341.4" fill="#158a66"/>
<polygon class="c" points="248.9,355 250.3,355.7 264.3,356.4 262.9,355.7" fill="#068266"/>
<polygon class="d" points="276.8,359.7 278.2,359.9 292.2,360.2 290.8,360.1" fill="#028066"/>
<polygon class="d" points="304.8,360.4 306.2,360.4 320.2,360.5 318.8,360.6" fill="#018066"/>
<polygon class="d" points="388.6,359.3 390,359.1 404,359.2 402.6,359.3" fill="#028066"/>
<polygon class="d" points="416.6,357.2 418,356.8 432,356.9 430.6,357.2" fill="#048266"/>
<polygon points="194.4,300.2 195.8,306.6 209.8,309.9 208.4,304" fill="#3c9e66"/>
<polygon class="d" points="334.1,359.9 335.5,359.9 349.5,359.9 348.1,360" fill="#018066"/>
<polygon class="d" points="362.1,359.7 363.5,359.7 377.5,359.8 376.1,359.8" fill="#028066"/>
<polygon class="d" points="390,359.1 391.4,359 405.4,359.1 404,359.2" fill="#028066"/>
<polygon class="d" points="418,356.8 419.4,356.4 433.3,356.5 432,356.9" fill="#048266"/>
<polygon points="222.4,342.2 223.7,344.2 237.7,345.4 236.3,343.5" fill="#138966"/>
<polygon class="d" points="250.3,355.7 251.7,356.4 265.7,357 264.3,356.4" fill="#068266"/>
<polygon class="d" points="278.2,359.9 279.6,360 293.6,360.3 292.2,360.2" fill="#018066"/>
<polygon class="d" points="306.2,360.4 307.6,360.3 321.6,360.5 320.2,360.5" fill="#018066"/>
<polygon class="d" points="335.5,359.9 336.9,359.8 350.9,359.9 349.5,359.9" fill="#028066"/>
<polygon class="d" points="363.5,359.7 364.9,359.7 378.9,359.7 377.5,359.8" fill="#028066"/>
<polygon points="195.8,306.6 197.2,312.3 211.2,315.2 209.8,309.9" fill="#359a66"/>
<polygon points="223.7,344.2 225.1,346 239.1,347.1 237.7,345.4" fill="#118866"/>
<polygon class="d" points="251.7,356.4 253.1,356.9 267.1,357.5 265.7,357" fill="#058266"/>
<polygon class="d" points="391.4,359 392.8,358.8 406.8,358.9 405.4,359.1" fill="#028066"/>
<polygon class="d" points="419.4,356.4 420.8,356 434.7,356.1 433.3,356.5" fill="#058266"/>
<polygon class="d" points="279.6,360 281,360.1 295,360.4 293.6,360.3" fill="#018066"/>
<polygon class="d" points="307.6,360.3 309,360.3 323,360.4 321.6,360.5" fill="#018066"/>
<polygon class="d" points="336.9,359.8 338.3,359.8 352.3,359.9 350.9,359.9" fill="#028066"/>
<polygon class="d" points="364.9,359.7 366.3,359.6 380.3,359.7 378.9,359.7" fill="#028066"/>
<polygon class="d" points="392.8,358.8 394.2,358.6 408.2,358.7 406.8,358.9" fill="#038166"/>
<polygon points="197.2,312.3 198.6,317.4 212.6,320.1 211.2,315.2" fill="#309866"/>
<polygon points="225.1,346 226.5,347.6 240.5,348.6 239.1,347.1" fill="#0f8766"/>
<polygon class="d" points="253.1,356.9 254.5,357.4 268.5,358 267.1,357.5" fill="#048266"/>
<polygon class="d" points="281,360.1 282.4,360.2 296.4,360.5 295,360.4" fill="#018066"/>
<polygon class="d" points="309,360.3 310.4,360.2 324.4,360.3 323,360.4" fill="#018066"/>
<polygon class="d" points="420.8,356 422.2,355.6 436.1,355.7 434.7,356.1" fill="#058266"/>
<polygon points="198.6,317.4 200,321.9 214,324.4 212.6,320.1" fill="#2b9566"/>
<polygon points="226.5,347.6 227.9,349 241.9,350 240.5,348.6" fill="#0d8666"/>
<polygon class="d" points="338.3,359.8 339.7,359.8 353.7,359.8 352.3,359.9" fill="#028066"/>
<polygon class="d" points="366.3,359.6 367.7,359.6 381.6,359.6 380.3,359.7" fill="#028066"/>
<polygon class="d" points="394.2,358.6 395.6,358.4 409.6,358.5 408.2,358.7" fill="#038166"/>
<polygon class="d" points="422.2,355.6 423.6,355.1 437.5,355.2 436.1,355.7" fill="#068266"/>
<polygon class="d" points="254.5,357.4 255.9,357.9 269.9,358.4 268.5,358" fill="#048266"/>
<polygon class="d" points="282.4,360.2 283.8,360.2 297.8,360.5 296.4,360.5" fill="#018066"/>
<polygon class="d" points="310.4,360.2 311.8,360.1 325.8,360.3 324.4,360.3" fill="#018066"/>
<polygon class="d" points="339.7,359.8 341.1,359.8 355.1,359.8 353.7,359.8" fill="#028066"/>
<polygon points="200,321.9 201.4,326 215.4,328.2 214,324.4" fill="#269266"/>
<polygon class="b" points="227.9,349 229.3,350.3 243.3,351.3 241.9,350" fill="#0c8666"/>
<polygon class="d" points="255.9,357.9 257.3,358.3 271.3,358.7 269.9,358.4" fill="#038166"/>
<polygon class="d" points="283.8,360.2 285.2,360.3 299.2,360.5 297.8,360.5" fill="#018066"/>
<polygon class="d" points="367.7,359.6 369.1,359.5 383,359.6 381.6,359.6" fill="#028066"/>
<polygon class="d" points="395.6,358.4 397,358.2 411,358.3 409.6,358.5" fill="#038166"/>
<polygon class="d" points="423.6,355.1 425,354.6 438.9,354.7 437.5,355.2" fill="#068266"/>
<polygon class="d" points="311.8,360.1 313.2,360.1 327.2,360.2 325.8,360.3" fill="#018066"/>
<polygon class="d" points="341.1,359.8 342.5,359.7 356.5,359.8 355.1,359.8" fill="#028066"/>
<polygon class="d" points="369.1,359.5 370.5,359.5 384.4,359.5 383,359.6" fill="#028066"/>
<polygon class="d" points="397,358.2 398.4,358 412.4,358 411,358.3" fill="#038166"/>
<polygon class="d" points="425,354.6 426.4,354.1 440.3,354.2 438.9,354.7" fill="#078366"/>
<polygon points="201.4,326 202.8,329.6 216.8,331.7 215.4,328.2" fill="#239166"/>
<polygon class="b" points="229.3,350.3 230.7,351.5 244.7,352.4 243.3,351.3" fill="#0b8566"/>
<polygon class="d" points="257.3,358.3 258.7,358.6 272.7,359.1 271.3,358.7" fill="#038166"/>
<polygon class="d" points="285.2,360.3 286.6,360.3 300.6,360.5 299.2,360.5" fill="#018066"/>
<polygon class="d" points="313.2,360.1 314.6,360 328.5,360.1 327.2,360.2" fill="#018066"/>
<polygon class="d" points="342.5,359.7 343.9,359.7 357.9,359.8 356.5,359.8" fill="#028066"/>
<polygon points="202.8,329.6 204.2,332.9 218.2,334.8 216.8,331.7" fill="#1f8f66"/>
<polygon class="b" points="230.7,351.5 232.1,352.5 246.1,353.3 244.7,352.4" fill="#0a8466"/>
<polygon class="d" points="258.7,358.6 260.1,358.9 274.1,359.3 272.7,359.1" fill="#038166"/>
<polygon class="d" points="370.5,359.5 371.9,359.4 385.8,359.5 384.4,359.5" fill="#028066"/>
<polygon class="d" points="398.4,358 399.8,357.7 413.8,357.8 412.4,358" fill="#038166"/>
<polygon class="d" points="426.4,354.1 427.8,353.5 441.7,353.6 440.3,354.2" fill="#078366"/>
<polygon class="d" points="286.6,360.3 288,360.3 302,360.5 300.6,360.5" fill="#018066"/>
<polygon class="d" points="314.6,360 316,360 329.9,360.1 328.5,360.1" fill="#018066"/>
<polygon class="d" points="343.9,359.7 345.3,359.7 359.3,359.8 357.9,359.8" fill="#028066"/>
<polygon class="d" points="371.9,359.4 373.3,359.3 387.2,359.4 385.8,359.5" fill="#028066"/>
<polygon points="204.2,332.9 205.6,335.8 219.6,337.5 218.2,334.8" fill="#1c8e66"/>
<polygon points="176.2,270.9 177.6,279.9 191.6,285.7 190.2,277.7" fill="#58ac66"/>
<polygon class="b" points="232.1,352.5 233.5,353.4 247.5,354.2 246.1,353.3" fill="#098466"/>
<polygon class="d" points="260.1,358.9 261.5,359.1 275.5,359.6 274.1,359.3" fill="#028066"/>
<polygon class="d" points="288,360.3 289.4,360.3 303.4,360.5 302,360.5" fill="#018066"/>
<polygon class="d" points="316,360 317.4,359.9 331.3,360 329.9,360.1" fill="#018066"/>
<polygon class="d" points="399.8,357.7 401.2,357.4 415.2,357.5 413.8,357.8" fill="#048266"/>
<polygon class="d" points="427.8,353.5 429.2,352.9 443.1,353 441.7,353.6" fill="#088466"/>
<polygon points="205.6,335.8 207,338.4 221,340 219.6,337.5" fill="#198c66"/>
<polygon class="c" points="233.5,353.4 234.9,354.3 248.9,355 247.5,354.2" fill="#088466"/>
<polygon class="d" points="345.3,359.7 346.7,359.7 360.7,359.7 359.3,359.8" fill="#028066"/>
<polygon class="d" points="373.3,359.3 374.7,359.2 388.6,359.3 387.2,359.4" fill="#028066"/>
<polygon class="d" points="401.2,357.4 402.6,357.1 416.6,357.2 415.2,357.5" fill="#048266"/>
<polygon class="c" points="429.2,352.9 430.6,352.3 444.5,352.4 443.1,353" fill="#088466"/>
<polygon points="177.6,279.9 179,288.2 193,293.3 191.6,285.7" fill="#4fa766"/>
<polygon class="d" points="261.5,359.1 262.9,359.3 276.8,359.7 275.5,359.6" fill="#028066"/>
<polygon class="d" points="289.4,360.3 290.8,360.2 304.8,360.4 303.4,360.5" fill="#018066"/>
<polygon class="d" points="317.4,359.9 318.8,359.9 332.7,360 331.3,360" fill="#018066"/>
<polygon class="d" points="346.7,359.7 348.1,359.6 362.1,359.7 360.7,359.7" fill="#028066"/>
<polygon points="179,288.2 180.4,295.8 194.4,300.2 193,293.3" fill="#47a366"/>
<polygon points="207,338.4 208.4,340.7 222.4,342.2 221,340" fill="#168a66"/>
<polygon class="c" points="234.9,354.3 236.3,355 250.3,355.7 248.9,355" fill="#078366"/>
<polygon class="d" points="262.9,359.3 264.3,359.5 278.2,359.9 276.8,359.7" fill="#028066"/>
<polygon class="d" points="290.8,360.2 292.2,360.2 306.2,360.4 304.8,360.4" fill="#018066"/>
<polygon class="d" points="374.7,359.2 376.1,359.1 390,359.1 388.6,359.3" fill="#028066"/>
<polygon class="d" points="402.6,357.1 404,356.7 418,356.8 416.6,357.2" fill="#048266"/>
<polygon class="c" points="430.6,352.3 432,351.6 445.9,351.7 444.5,352.4" fill="#098466"/>
<polygon class="d" points="318.8,359.9 320.2,359.8 334.1,359.9 332.7,360" fill="#028066"/>
<polygon class="d" points="348.1,359.6 349.5,359.6 363.5,359.7 362.1,359.7" fill="#028066"/>
<polygon class="d" points="376.1,359.1 377.5,358.9 391.4,359 390,359.1" fill="#028066"/>
<polygon class="d" points="404,356.7 405.4,356.4 419.4,356.4 418,356.8" fill="#058266"/>
<polygon class="c" points="432,351.6 433.3,350.9 447.3,351 445.9,351.7" fill="#0a8466"/>
<polygon points="208.4,340.7 209.8,342.8 223.7,344.2 222.4,342.2" fill="#148a66"/>
<polygon class="c" points="236.3,355 237.7,355.7 251.7,356.4 250.3,355.7" fill="#068266"/>
<polygon class="d" points="264.3,359.5 265.7,359.7 279.6,360 278.2,359.9" fill="#028066"/>
<polygon points="180.4,295.8 181.8,302.6 195.8,306.6 194.4,300.2" fill="#40a066"/>
<polygon class="d" points="292.2,360.2 293.6,360.1 307.6,360.3 306.2,360.4" fill="#018066"/>
<polygon class="d" points="320.2,359.8 321.6,359.8 335.5,359.9 334.1,359.9" fill="#028066"/>
<polygon class="d" points="349.5,359.6 350.9,359.6 364.9,359.7 363.5,359.7" fill="#028066"/>
<polygon points="209.8,342.8 211.2,344.6 225.1,346 223.7,344.2" fill="#128866"/>
<polygon class="d" points="237.7,355.7 239.1,356.3 253.1,356.9 251.7,356.4" fill="#068266"/>
<polygon class="d" points="377.5,358.9 378.9,358.7 392.8,358.8 391.4,359" fill="#028066"/>
<polygon class="d" points="405.4,356.4 406.8,356 420.8,356 419.4,356.4" fill="#058266"/>
<polygon class="c" points="433.3,350.9 434.7,350.1 448.7,350.2 447.3,351" fill="#0a8466"/>
<polygon points="181.8,302.6 183.2,308.7 197.2,312.3 195.8,306.6" fill="#399c66"/>
<polygon class="d" points="265.7,359.7 267.1,359.8 281,360.1 279.6,360" fill="#028066"/>
<polygon class="d" points="293.6,360.1 295,360.1 309,360.3 307.6,360.3" fill="#018066"/>
<polygon class="d" points="321.6,359.8 323,359.8 336.9,359.8 335.5,359.9" fill="#028066"/>
<polygon class="d" points="350.9,359.6 352.3,359.6 366.3,359.6 364.9,359.7" fill="#028066"/>
<polygon class="d" points="378.9,358.7 380.3,358.6 394.2,358.6 392.8,358.8" fill="#038166"/>
<polygon points="183.2,308.7 184.6,314.1 198.6,317.4 197.2,312.3" fill="#339966"/>
<polygon points="211.2,344.6 212.6,346.3 226.5,347.6 225.1,346" fill="#108866"/>
<polygon class="d" points="239.1,356.3 240.5,356.8 254.5,357.4 253.1,356.9" fill="#058266"/>
<polygon class="d" points="267.1,359.8 268.5,359.9 282.4,360.2 281,360.1" fill="#028066"/>
<polygon class="d" points="295,360.1 296.4,360 310.4,360.2 309,360.3" fill="#018066"/>
<polygon class="d" points="323,359.8 324.4,359.7 338.3,359.8 336.9,359.8" fill="#028066"/>
<polygon class="d" points="406.8,356 408.2,355.5 422.2,355.6 420.8,356" fill="#058266"/>
<polygon class="c" points="434.7,350.1 436.1,349.3 450.1,349.4 448.7,350.2" fill="#0b8566"/>
<polygon points="212.6,346.3 214,347.8 227.9,349 226.5,347.6" fill="#0f8766"/>
<polygon class="d" points="352.3,359.6 353.7,359.5 367.7,359.6 366.3,359.6" fill="#028066"/>
<polygon class="d" points="380.3,358.6 381.6,358.4 395.6,358.4 394.2,358.6" fill="#038166"/>
<polygon class="d" points="408.2,355.5 409.6,355.1 423.6,355.1 422.2,355.6" fill="#068266"/>
<polygon class="b" points="436.1,349.3 437.5,348.5 451.5,348.5 450.1,349.4" fill="#0c8666"/>
<polygon points="184.6,314.1 186,319 200,321.9 198.6,317.4" fill="#2e9666"/>
<polygon class="d" points="240.5,356.8 241.9,357.3 255.9,357.9 254.5,357.4" fill="#058266"/>
<polygon class="d" points="268.5,359.9 269.9,359.9 283.8,360.2 282.4,360.2" fill="#028066"/>
<polygon class="d" points="296.4,360 297.8,360 311.8,360.1 310.4,360.2" fill="#018066"/>
<polygon class="d" points="324.4,359.7 325.8,359.7 339.7,359.8 338.3,359.8" fill="#028066"/>
<polygon points="214,347.8 215.4,349.2 229.3,350.3 227.9,349" fill="#0d8666"/>
<polygon class="d" points="241.9,357.3 243.3,357.7 257.3,358.3 255.9,357.9" fill="#048266"/>
<polygon class="d" points="269.9,359.9 271.3,360 285.2,360.3 283.8,360.2" fill="#018066"/>
<polygon class="d" points="353.7,359.5 355.1,359.4 369.1,359.5 367.7,359.6" fill="#028066"/>
<polygon class="d" points="381.6,358.4 383,358.1 397,358.2 395.6,358.4" fill="#038166"/>
<polygon class="d" points="409.6,355.1 411,354.6 425,354.6 423.6,355.1" fill="#068266"/>
<polygon class="b" points="437.5,348.5 438.9,347.5 452.9,347.6 451.5,348.5" fill="#0d8666"/>
<polygon points="186,319 187.4,323.3 201.4,326 200,321.9" fill="#299466"/>
<polygon class="d" points="297.8,360 299.2,359.9 313.2,360.1 311.8,360.1" fill="#018066"/>
<polygon class="d" points="325.8,359.7 327.2,359.7 341.1,359.8 339.7,359.8" fill="#028066"/>
<polygon class="d" points="355.1,359.4 356.5,359.4 370.5,359.5 369.1,359.5" fill="#028066"/>
<polygon class="d" points="383,358.1 384.4,357.9 398.4,358 397,358.2" fill="#038166"/>
<polygon class="d" points="411,354.6 412.4,354 426.4,354.1 425,354.6" fill="#078366"/>
<polygon class="b" points="215.4,349.2 216.8,350.4 230.7,351.5 229.3,350.3" fill="#0c8666"/>
<polygon class="d" points="243.3,357.7 244.7,358.1 258.7,358.6 257.3,358.3" fill="#048266"/>
<polygon class="d" points="271.3,360 272.7,360 286.6,360.3 285.2,360.3" fill="#018066"/>
<polygon points="187.4,323.3 188.8,327.1 202.8,329.6 201.4,326" fill="#259266"/>
<polygon class="d" points="299.2,359.9 300.6,359.9 314.6,360 313.2,360.1" fill="#018066"/>
<polygon class="d" points="327.2,359.7 328.5,359.7 342.5,359.7 341.1,359.8" fill="#028066"/>
<polygon class="b" points="438.9,347.5 440.3,346.6 454.3,346.6 452.9,347.6" fill="#0e8666"/>
<polygon class="b" points="216.8,350.4 218.2,351.5 232.1,352.5 230.7,351.5" fill="#0b8566"/>
<polygon class="d" points="244.7,358.1 246.1,358.4 260.1,358.9 258.7,358.6" fill="#038166"/>
<polygon class="d" points="356.5,359.4 357.9,359.3 371.9,359.4 370.5,359.5" fill="#028066"/>
<polygon class="d" points="384.4,357.9 385.8,357.6 399.8,357.7 398.4,358" fill="#038166"/>
<polygon class="d" points="412.4,354 413.8,353.5 427.8,353.5 426.4,354.1" fill="#078366"/>
<polygon class="b" points="440.3,346.6 441.7,345.5 455.7,345.6 454.3,346.6" fill="#0e8666"/>
<polygon points="188.8,327.1 190.2,330.6 204.2,332.9 202.8,329.6" fill="#219066"/>
<polygon class="d" points="272.7,360 274.1,360 288,360.3 286.6,360.3" fill="#018066"/>
<polygon class="d" points="300.6,359.9 302,359.8 316,360 314.6,360" fill="#018066"/>
<polygon class="d" points="328.5,359.7 329.9,359.6 343.9,359.7 342.5,359.7" fill="#028066"/>
<polygon class="d" points="357.9,359.3 359.3,359.2 373.3,359.3 371.9,359.4" fill="#028066"/>
<polygon class="b" points="218.2,351.5 219.6,352.5 233.5,353.4 232.1,352.5" fill="#0a8466"/>
<polygon points="162.3,262.7 163.7,272.8 177.6,279.9 176.2,270.9" fill="#60b066"/>
<polygon points="190.2,330.6 191.6,333.6 205.6,335.8 204.2,332.9" fill="#1e8e66"/>
<polygon class="d" points="246.1,358.4 247.5,358.7 261.5,359.1 260.1,358.9" fill="#038166"/>
<polygon class="d" points="274.1,360 275.5,360 289.4,360.3 288,360.3" fill="#018066"/>
<polygon class="d" points="302,359.8 303.4,359.8 317.4,359.9 316,360" fill="#028066"/>
<polygon class="d" points="329.9,359.6 331.3,359.6 345.3,359.7 343.9,359.7" fill="#028066"/>
<polygon class="d" points="385.8,357.6 387.2,357.3 401.2,357.4 399.8,357.7" fill="#048266"/>
<polygon class="d" points="413.8,353.5 415.2,352.9 429.2,352.9 427.8,353.5" fill="#088466"/>
<polygon class="b" points="441.7,345.5 443.1,344.4 457.1,344.5 455.7,345.6" fill="#108866"/>
<polygon class="d" points="359.3,359.2 360.7,359.1 374.7,359.2 373.3,359.3" fill="#028066"/>
<polygon class="d" points="387.2,357.3 388.6,357 402.6,357.1 401.2,357.4" fill="#048266"/>
<polygon class="c" points="415.2,352.9 416.6,352.2 430.6,352.3 429.2,352.9" fill="#088466"/>
<polygon class="b" points="443.1,344.4 444.5,343.2 458.5,343.3 457.1,344.5" fill="#118866"/>
<polygon class="b" points="219.6,352.5 221,353.4 234.9,354.3 233.5,353.4" fill="#098466"/>
<polygon points="163.7,272.8 165.1,282 179,288.2 177.6,279.9" fill="#56ab66"/>
<polygon class="d" points="247.5,358.7 248.9,358.9 262.9,359.3 261.5,359.1" fill="#038166"/>
<polygon class="d" points="275.5,360 276.8,360 290.8,360.2 289.4,360.3" fill="#018066"/>
<polygon class="d" points="303.4,359.8 304.8,359.8 318.8,359.9 317.4,359.9" fill="#028066"/>
<polygon points="191.6,333.6 193,336.4 207,338.4 205.6,335.8" fill="#1b8d66"/>
<polygon class="d" points="331.3,359.6 332.7,359.6 346.7,359.7 345.3,359.7" fill="#028066"/>
<polygon points="165.1,282 166.5,290.3 180.4,295.8 179,288.2" fill="#4da666"/>
<polygon class="c" points="221,353.4 222.4,354.1 236.3,355 234.9,354.3" fill="#088466"/>
<polygon class="d" points="248.9,358.9 250.3,359.1 264.3,359.5 262.9,359.3" fill="#028066"/>
<polygon class="d" points="276.8,360 278.2,360 292.2,360.2 290.8,360.2" fill="#018066"/>
<polygon class="d" points="360.7,359.1 362.1,359 376.1,359.1 374.7,359.2" fill="#028066"/>
<polygon class="d" points="388.6,357 390,356.6 404,356.7 402.6,357.1" fill="#048266"/>
<polygon class="c" points="416.6,352.2 418,351.5 432,351.6 430.6,352.3" fill="#098466"/>
<polygon class="b" points="444.5,343.2 445.9,342 459.9,342 458.5,343.3" fill="#128866"/>
<polygon points="193,336.4 194.4,338.8 208.4,340.7 207,338.4" fill="#188c66"/>
<polygon class="d" points="304.8,359.8 306.2,359.7 320.2,359.8 318.8,359.9" fill="#028066"/>
<polygon class="d" points="332.7,359.6 334.1,359.6 348.1,359.6 346.7,359.7" fill="#028066"/>
<polygon class="d" points="362.1,359 363.5,358.8 377.5,358.9 376.1,359.1" fill="#028066"/>
<polygon class="d" points="390,356.6 391.4,356.3 405.4,356.4 404,356.7" fill="#058266"/>
<polygon class="c" points="418,351.5 419.4,350.8 433.3,350.9 432,351.6" fill="#0a8466"/>
<polygon class="c" points="222.4,354.1 223.7,354.9 237.7,355.7 236.3,355" fill="#078366"/>
<polygon class="d" points="250.3,359.1 251.7,359.3 265.7,359.7 264.3,359.5" fill="#028066"/>
<polygon points="166.5,290.3 167.9,297.7 181.8,302.6 180.4,295.8" fill="#45a266"/>
<polygon points="194.4,338.8 195.8,341 209.8,342.8 208.4,340.7" fill="#168a66"/>
<polygon class="d" points="278.2,360 279.6,359.9 293.6,360.1 292.2,360.2" fill="#018066"/>
<polygon class="d" points="306.2,359.7 307.6,359.7 321.6,359.8 320.2,359.8" fill="#028066"/>
<polygon class="d" points="334.1,359.6 335.5,359.5 349.5,359.6 348.1,359.6" fill="#028066"/>
<polygon points="445.9,342 447.3,340.6 461.3,340.7 459.9,342" fill="#138966"/>
<polygon class="d" points="363.5,358.8 364.9,358.7 378.9,358.7 377.5,358.9" fill="#038166"/>
<polygon class="d" points="391.4,356.3 392.8,355.9 406.8,356 405.4,356.4" fill="#058266"/>
<polygon class="c" points="419.4,350.8 420.8,350.1 434.7,350.1 433.3,350.9" fill="#0a8466"/>
<polygon points="447.3,340.6 448.7,339.2 462.7,339.3 461.3,340.7" fill="#148a66"/>
<polygon class="d" points="223.7,354.9 225.1,355.5 239.1,356.3 237.7,355.7" fill="#068266"/>
<polygon points="167.9,297.7 169.3,304.3 183.2,308.7 181.8,302.6" fill="#3e9e66"/>
<polygon points="195.8,341 197.2,343 211.2,344.6 209.8,342.8" fill="#148a66"/>
<polygon class="d" points="251.7,359.3 253.1,359.4 267.1,359.8 265.7,359.7" fill="#028066"/>
<polygon class="d" points="279.6,359.9 281,359.9 295,360.1 293.6,360.1" fill="#018066"/>
<polygon class="d" points="307.6,359.7 309,359.7 323,359.8 321.6,359.8" fill="#028066"/>
<polygon class="d" points="335.5,359.5 336.9,359.5 350.9,359.6 349.5,359.6" fill="#028066"/>
<polygon class="d" points="364.9,358.7 366.3,358.5 380.3,358.6 378.9,358.7" fill="#038166"/>
<polygon class="d" points="225.1,355.5 226.5,356.1 240.5,356.8 239.1,356.3" fill="#068266"/>
<polygon points="169.3,304.3 170.7,310.2 184.6,314.1 183.2,308.7" fill="#389c66"/>
<polygon class="d" points="253.1,359.4 254.5,359.5 268.5,359.9 267.1,359.8" fill="#028066"/>
<polygon class="d" points="281,359.9 282.4,359.9 296.4,360 295,360.1" fill="#018066"/>
<polygon class="d" points="309,359.7 310.4,359.6 324.4,359.7 323,359.8" fill="#028066"/>
<polygon class="d" points="336.9,359.5 338.3,359.5 352.3,359.6 350.9,359.6" fill="#028066"/>
<polygon class="d" points="392.8,355.9 394.2,355.4 408.2,355.5 406.8,356" fill="#058266"/>
<polygon class="c" points="420.8,350.1 422.2,349.2 436.1,349.3 434.7,350.1" fill="#0b8566"/>
<polygon points="448.7,339.2 450.1,337.7 464.1,337.8 462.7,339.3" fill="#168a66"/>
<polygon points="197.2,343 198.6,344.8 212.6,346.3 211.2,344.6" fill="#128866"/>
<polygon class="d" points="366.3,358.5 367.7,358.3 381.6,358.4 380.3,358.6" fill="#038166"/>
<polygon class="d" points="394.2,355.4 395.6,355 409.6,355.1 408.2,355.5" fill="#068266"/>
<polygon class="b" points="422.2,349.2 423.6,348.4 437.5,348.5 436.1,349.3" fill="#0c8666"/>
<polygon points="450.1,337.7 451.5,336.1 465.5,336.1 464.1,337.8" fill="#178b66"/>
<polygon points="170.7,310.2 172,315.4 186,319 184.6,314.1" fill="#329866"/>
<polygon class="d" points="226.5,356.1 227.9,356.6 241.9,357.3 240.5,356.8" fill="#058266"/>
<polygon class="d" points="254.5,359.5 255.9,359.6 269.9,359.9 268.5,359.9" fill="#028066"/>
<polygon class="d" points="282.4,359.9 283.8,359.8 297.8,360 296.4,360" fill="#028066"/>
<polygon points="198.6,344.8 200,346.4 214,347.8 212.6,346.3" fill="#108866"/>
<polygon class="d" points="310.4,359.6 311.8,359.6 325.8,359.7 324.4,359.7" fill="#028066"/>
<polygon class="d" points="338.3,359.5 339.7,359.4 353.7,359.5 352.3,359.6" fill="#028066"/>
<polygon class="d" points="227.9,356.6 229.3,357 243.3,357.7 241.9,357.3" fill="#058266"/>
<polygon class="d" points="255.9,359.6 257.3,359.7 271.3,360 269.9,359.9" fill="#028066"/>
<polygon class="d" points="367.7,358.3 369.1,358 383,358.1 381.6,358.4" fill="#038166"/>
<polygon class="d" points="395.6,355 397,354.5 411,354.6 409.6,355.1" fill="#068266"/>
<polygon class="b" points="423.6,348.4 425,347.5 438.9,347.5 437.5,348.5" fill="#0d8666"/>
<polygon points="451.5,336.1 452.9,334.3 466.9,334.4 465.5,336.1" fill="#198c66"/>
<polygon points="172,315.4 173.4,320 187.4,323.3 186,319" fill="#2d9666"/>
<polygon points="200,346.4 201.4,347.8 215.4,349.2 214,347.8" fill="#0f8766"/>
<polygon class="d" points="283.8,359.8 285.2,359.8 299.2,359.9 297.8,360" fill="#028066"/>
<polygon class="d" points="311.8,359.6 313.2,359.6 327.2,359.7 325.8,359.7" fill="#028066"/>
<polygon class="d" points="339.7,359.4 341.1,359.4 355.1,359.4 353.7,359.5" fill="#028066"/>
<polygon class="d" points="369.1,358 370.5,357.8 384.4,357.9 383,358.1" fill="#038166"/>
<polygon class="d" points="397,354.5 398.4,353.9 412.4,354 411,354.6" fill="#078366"/>
<polygon class="d" points="229.3,357 230.7,357.4 244.7,358.1 243.3,357.7" fill="#048266"/>
<polygon class="d" points="257.3,359.7 258.7,359.7 272.7,360 271.3,360" fill="#028066"/>
<polygon points="173.4,320 174.8,324.1 188.8,327.1 187.4,323.3" fill="#289366"/>
<polygon class="b" points="201.4,347.8 202.8,349.1 216.8,350.4 215.4,349.2" fill="#0d8666"/>
<polygon class="d" points="285.2,359.8 286.6,359.7 300.6,359.9 299.2,359.9" fill="#028066"/>
<polygon class="d" points="313.2,359.6 314.6,359.6 328.5,359.7 327.2,359.7" fill="#028066"/>
<polygon class="d" points="341.1,359.4 342.5,359.3 356.5,359.4 355.1,359.4" fill="#028066"/>
<polygon class="b" points="425,347.5 426.4,346.5 440.3,346.6 438.9,347.5" fill="#0e8666"/>
<polygon points="452.9,334.3 454.3,332.5 468.3,332.5 466.9,334.4" fill="#1a8c66"/>
<polygon class="d" points="230.7,357.4 232.1,357.8 246.1,358.4 244.7,358.1" fill="#048266"/>
<polygon class="d" points="370.5,357.8 371.9,357.5 385.8,357.6 384.4,357.9" fill="#048266"/>
<polygon class="d" points="398.4,353.9 399.8,353.4 413.8,353.5 412.4,354" fill="#078366"/>
<polygon class="b" points="426.4,346.5 427.8,345.4 441.7,345.5 440.3,346.6" fill="#0f8766"/>
<polygon points="454.3,332.5 455.7,330.5 469.7,330.6 468.3,332.5" fill="#1c8e66"/>
<polygon points="174.8,324.1 176.2,327.8 190.2,330.6 188.8,327.1" fill="#249266"/>
<polygon class="b" points="202.8,349.1 204.2,350.3 218.2,351.5 216.8,350.4" fill="#0c8666"/>
<polygon class="d" points="258.7,359.7 260.1,359.7 274.1,360 272.7,360" fill="#028066"/>
<polygon class="d" points="286.6,359.7 288,359.7 302,359.8 300.6,359.9" fill="#028066"/>
<polygon class="d" points="314.6,359.6 316,359.5 329.9,359.6 328.5,359.7" fill="#028066"/>
<polygon class="d" points="342.5,359.3 343.9,359.2 357.9,359.3 356.5,359.4" fill="#028066"/>
<polygon points="148.3,252.3 149.7,263.9 163.7,272.8 162.3,262.7" fill="#6ab466"/>
<polygon points="176.2,327.8 177.6,331.1 191.6,333.6 190.2,330.6" fill="#219066"/>
<polygon class="d" points="232.1,357.8 233.5,358.1 247.5,358.7 246.1,358.4" fill="#048266"/>
<polygon class="d" points="260.1,359.7 261.5,359.7 275.5,360 274.1,360" fill="#028066"/>
<polygon class="d" points="288,359.7 289.4,359.7 303.4,359.8 302,359.8" fill="#028066"/>
<polygon class="d" points="316,359.5 317.4,359.5 331.3,359.6 329.9,359.6" fill="#028066"/>
<polygon class="d" points="343.9,359.2 345.3,359.1 359.3,359.2 357.9,359.3" fill="#028066"/>
<polygon class="d" points="371.9,357.5 373.3,357.2 387.2,357.3 385.8,357.6" fill="#048266"/>
<polygon class="d" points="399.8,353.4 401.2,352.8 415.2,352.9 413.8,353.5" fill="#088466"/>
<polygon class="b" points="427.8,345.4 429.2,344.3 443.1,344.4 441.7,345.5" fill="#108866"/>
<polygon points="455.7,330.5 457.1,328.4 471.1,328.4 469.7,330.6" fill="#1e8e66"/>
<polygon class="b" points="204.2,350.3 205.6,351.3 219.6,352.5 218.2,351.5" fill="#0b8566"/>
<polygon class="d" points="373.3,357.2 374.7,356.9 388.6,357 387.2,357.3" fill="#048266"/>
<polygon class="c" points="401.2,352.8 402.6,352.1 416.6,352.2 415.2,352.9" fill="#088466"/>
<polygon class="b" points="429.2,344.3 430.6,343.2 444.5,343.2 443.1,344.4" fill="#118866"/>
<polygon points="149.7,263.9 151.1,274.2 165.1,282 163.7,272.8" fill="#5faf66"/>
<polygon class="d" points="233.5,358.1 234.9,358.3 248.9,358.9 247.5,358.7" fill="#038166"/>
<polygon class="d" points="261.5,359.7 262.9,359.7 276.8,360 275.5,360" fill="#028066"/>
<polygon class="d" points="289.4,359.7 290.8,359.6 304.8,359.8 303.4,359.8" fill="#028066"/>
<polygon points="177.6,331.1 179,334 193,336.4 191.6,333.6" fill="#1e8e66"/>
<polygon class="b" points="205.6,351.3 207,352.3 221,353.4 219.6,352.5" fill="#0a8466"/>
<polygon class="d" points="317.4,359.5 318.8,359.5 332.7,359.6 331.3,359.6" fill="#028066"/>
<polygon class="d" points="345.3,359.1 346.7,359 360.7,359.1 359.3,359.2" fill="#028066"/>
<polygon points="457.1,328.4 458.5,326.1 472.5,326.2 471.1,328.4" fill="#209066"/>
<polygon points="151.1,274.2 152.5,283.5 166.5,290.3 165.1,282" fill="#55aa66"/>
<polygon class="d" points="234.9,358.3 236.3,358.6 250.3,359.1 248.9,358.9" fill="#038166"/>
<polygon class="d" points="262.9,359.7 264.3,359.7 278.2,360 276.8,360" fill="#028066"/>
<polygon class="d" points="374.7,356.9 376.1,356.6 390,356.6 388.6,357" fill="#048266"/>
<polygon class="c" points="402.6,352.1 404,351.5 418,351.5 416.6,352.2" fill="#098466"/>
<polygon class="b" points="430.6,343.2 432,341.9 445.9,342 444.5,343.2" fill="#128866"/>
<polygon points="458.5,326.1 459.9,323.7 473.9,323.7 472.5,326.2" fill="#229066"/>
<polygon points="179,334 180.4,336.6 194.4,338.8 193,336.4" fill="#1b8d66"/>
<polygon class="c" points="207,352.3 208.4,353.1 222.4,354.1 221,353.4" fill="#098466"/>
<polygon class="d" points="290.8,359.6 292.2,359.6 306.2,359.7 304.8,359.8" fill="#028066"/>
<polygon class="d" points="318.8,359.5 320.2,359.5 334.1,359.6 332.7,359.6" fill="#028066"/>
<polygon class="d" points="346.7,359 348.1,358.9 362.1,359 360.7,359.1" fill="#028066"/>
<polygon class="d" points="376.1,356.6 377.5,356.2 391.4,356.3 390,356.6" fill="#058266"/>
<polygon class="c" points="404,351.5 405.4,350.7 419.4,350.8 418,351.5" fill="#0a8466"/>
<polygon class="d" points="236.3,358.6 237.7,358.8 251.7,359.3 250.3,359.1" fill="#038166"/>
<polygon points="152.5,283.5 153.9,291.6 167.9,297.7 166.5,290.3" fill="#4ca666"/>
<polygon points="180.4,336.6 181.8,338.9 195.8,341 194.4,338.8" fill="#188c66"/>
<polygon class="c" points="208.4,353.1 209.8,353.9 223.7,354.9 222.4,354.1" fill="#088466"/>
<polygon class="d" points="264.3,359.7 265.7,359.7 279.6,359.9 278.2,360" fill="#028066"/>
<polygon class="d" points="292.2,359.6 293.6,359.6 307.6,359.7 306.2,359.7" fill="#028066"/>
<polygon class="d" points="320.2,359.5 321.6,359.4 335.5,359.5 334.1,359.6" fill="#028066"/>
<polygon class="d" points="348.1,358.9 349.5,358.7 363.5,358.8 362.1,359" fill="#028066"/>
<polygon points="432,341.9 433.3,340.6 447.3,340.6 445.9,342" fill="#138966"/>
<polygon points="459.9,323.7 461.3,321 475.3,321.1 473.9,323.7" fill="#259266"/>
<polygon class="d" points="377.5,356.2 378.9,355.8 392.8,355.9 391.4,356.3" fill="#058266"/>
<polygon class="c" points="405.4,350.7 406.8,350 420.8,350.1 419.4,350.8" fill="#0a8466"/>
<polygon points="433.3,340.6 434.7,339.1 448.7,339.2 447.3,340.6" fill="#148a66"/>
<polygon points="461.3,321 462.7,318.2 476.7,318.3 475.3,321.1" fill="#279366"/>
<polygon points="153.9,291.6 155.3,298.8 169.3,304.3 167.9,297.7" fill="#44a266"/>
<polygon points="181.8,338.9 183.2,341 197.2,343 195.8,341" fill="#168a66"/>
<polygon class="d" points="237.7,358.8 239.1,358.9 253.1,359.4 251.7,359.3" fill="#038166"/>
<polygon class="d" points="265.7,359.7 267.1,359.7 281,359.9 279.6,359.9" fill="#028066"/>
<polygon class="d" points="293.6,359.6 295,359.5 309,359.7 307.6,359.7" fill="#028066"/>
<polygon class="d" points="321.6,359.4 323,359.4 336.9,359.5 335.5,359.5" fill="#028066"/>
<polygon class="c" points="209.8,353.9 211.2,354.6 225.1,355.5 223.7,354.9" fill="#078366"/>
<polygon class="d" points="349.5,358.7 350.9,358.6 364.9,358.7 363.5,358.8" fill="#038166"/>
<polygon points="155.3,298.8 156.7,305.2 170.7,310.2 169.3,304.3" fill="#3d9e66"/>
<polygon class="d" points="239.1,358.9 240.5,359.1 254.5,359.5 253.1,359.4" fill="#028066"/>
<polygon class="d" points="267.1,359.7 268.5,359.7 282.4,359.9 281,359.9" fill="#028066"/>
<polygon class="d" points="295,359.5 296.4,359.5 310.4,359.6 309,359.7" fill="#028066"/>
<polygon class="d" points="323,359.4 324.4,359.4 338.3,359.5 336.9,359.5" fill="#028066"/>
<polygon class="d" points="350.9,358.6 352.3,358.4 366.3,358.5 364.9,358.7" fill="#038166"/>
<polygon class="d" points="378.9,355.8 380.3,355.3 394.2,355.4 392.8,355.9" fill="#068266"/>
<polygon class="c" points="406.8,350 408.2,349.2 422.2,349.2 420.8,350.1" fill="#0b8566"/>
<polygon points="434.7,339.1 436.1,337.6 450.1,337.7 448.7,339.2" fill="#168a66"/>
<polygon points="462.7,318.2 464.1,315.2 478.1,315.3 476.7,318.3" fill="#2a9466"/>
<polygon points="183.2,341 184.6,342.9 198.6,344.8 197.2,343" fill="#148a66"/>
<polygon class="d" points="211.2,354.6 212.6,355.2 226.5,356.1 225.1,355.5" fill="#078366"/>
<polygon class="d" points="380.3,355.3 381.6,354.9 395.6,355 394.2,355.4" fill="#068266"/>
<polygon class="b" points="408.2,349.2 409.6,348.3 423.6,348.4 422.2,349.2" fill="#0c8666"/>
<polygon points="436.1,337.6 437.5,336 451.5,336.1 450.1,337.7" fill="#178b66"/>
<polygon class="d" points="240.5,359.1 241.9,359.2 255.9,359.6 254.5,359.5" fill="#028066"/>
<polygon class="d" points="268.5,359.7 269.9,359.6 283.8,359.8 282.4,359.9" fill="#028066"/>
<polygon points="156.7,305.2 158.1,310.9 172,315.4 170.7,310.2" fill="#379b66"/>
<polygon points="184.6,342.9 186,344.6 200,346.4 198.6,344.8" fill="#128866"/>
<polygon class="d" points="212.6,355.2 214,355.7 227.9,356.6 226.5,356.1" fill="#068266"/>
<polygon class="d" points="296.4,359.5 297.8,359.5 311.8,359.6 310.4,359.6" fill="#028066"/>
<polygon class="d" points="324.4,359.4 325.8,359.3 339.7,359.4 338.3,359.5" fill="#028066"/>
<polygon class="d" points="352.3,358.4 353.7,358.2 367.7,358.3 366.3,358.5" fill="#038166"/>
<polygon points="464.1,315.2 465.5,312 479.5,312 478.1,315.3" fill="#2d9666"/>
<polygon class="d" points="241.9,359.2 243.3,359.3 257.3,359.7 255.9,359.6" fill="#028066"/>
<polygon class="d" points="381.6,354.9 383,354.4 397,354.5 395.6,355" fill="#068266"/>
<polygon class="b" points="409.6,348.3 411,347.4 425,347.5 423.6,348.4" fill="#0d8666"/>
<polygon points="437.5,336 438.9,334.3 452.9,334.3 451.5,336.1" fill="#198c66"/>
<polygon points="465.5,312 466.9,308.5 480.9,308.6 479.5,312" fill="#309866"/>
<polygon points="158.1,310.9 159.5,315.9 173.4,320 172,315.4" fill="#319866"/>
<polygon points="186,344.6 187.4,346.2 201.4,347.8 200,346.4" fill="#108866"/>
<polygon class="d" points="214,355.7 215.4,356.2 229.3,357 227.9,356.6" fill="#068266"/>
<polygon class="d" points="269.9,359.6 271.3,359.6 285.2,359.8 283.8,359.8" fill="#028066"/>
<polygon class="d" points="297.8,359.5 299.2,359.5 313.2,359.6 311.8,359.6" fill="#028066"/>
<polygon class="d" points="325.8,359.3 327.2,359.3 341.1,359.4 339.7,359.4" fill="#028066"/>
<polygon class="d" points="353.7,358.2 355.1,357.9 369.1,358 367.7,358.3" fill="#038166"/>
<polygon class="d" points="383,354.4 384.4,353.8 398.4,353.9 397,354.5" fill="#078366"/>
<polygon class="d" points="243.3,359.3 244.7,359.3 258.7,359.7 257.3,359.7" fill="#028066"/>
<polygon points="159.5,315.9 160.9,320.3 174.8,324.1 173.4,320" fill="#2c9666"/>
<polygon points="187.4,346.2 188.8,347.5 202.8,349.1 201.4,347.8" fill="#0f8766"/>
<polygon class="d" points="215.4,356.2 216.8,356.7 230.7,357.4 229.3,357" fill="#058266"/>
<polygon class="d" points="271.3,359.6 272.7,359.6 286.6,359.7 285.2,359.8" fill="#028066"/>
<polygon class="d" points="299.2,359.5 300.6,359.5 314.6,359.6 313.2,359.6" fill="#028066"/>
<polygon class="d" points="327.2,359.3 328.5,359.2 342.5,359.3 341.1,359.4" fill="#028066"/>
<polygon class="d" points="355.1,357.9 356.5,357.7 370.5,357.8 369.1,358" fill="#038166"/>
<polygon class="b" points="411,347.4 412.4,346.4 426.4,346.5 425,347.5" fill="#0e8666"/>
<polygon points="438.9,334.3 440.3,332.4 454.3,332.5 452.9,334.3" fill="#1a8c66"/>
<polygon points="466.9,308.5 468.3,304.8 482.3,304.8 480.9,308.6" fill="#349a66"/>
<polygon class="d" points="384.4,353.8 385.8,353.3 399.8,353.4 398.4,353.9" fill="#078366"/>
<polygon class="b" points="412.4,346.4 413.8,345.4 427.8,345.4 426.4,346.5" fill="#0f8766"/>
<polygon points="440.3,332.4 441.7,330.4 455.7,330.5 454.3,332.5" fill="#1c8e66"/>
<polygon points="468.3,304.8 469.7,300.7 483.7,300.8 482.3,304.8" fill="#379b66"/>
<polygon points="160.9,320.3 162.3,324.3 176.2,327.8 174.8,324.1" fill="#289366"/>
<polygon class="b" points="188.8,347.5 190.2,348.8 204.2,350.3 202.8,349.1" fill="#0e8666"/>
<polygon class="d" points="216.8,356.7 218.2,357 232.1,357.8 230.7,357.4" fill="#058266"/>
<polygon class="d" points="244.7,359.3 246.1,359.4 260.1,359.7 258.7,359.7" fill="#028066"/>
<polygon class="d" points="272.7,359.6 274.1,359.5 288,359.7 286.6,359.7" fill="#028066"/>
<polygon class="d" points="300.6,359.5 302,359.4 316,359.5 314.6,359.6" fill="#028066"/>
<polygon class="d" points="328.5,359.2 329.9,359.1 343.9,359.2 342.5,359.3" fill="#028066"/>
<polygon class="d" points="356.5,357.7 357.9,357.4 371.9,357.5 370.5,357.8" fill="#048266"/>
<polygon points="162.3,324.3 163.7,327.8 177.6,331.1 176.2,327.8" fill="#249266"/>
<polygon class="d" points="246.1,359.4 247.5,359.4 261.5,359.7 260.1,359.7" fill="#028066"/>
<polygon class="d" points="274.1,359.5 275.5,359.5 289.4,359.7 288,359.7" fill="#028066"/>
<polygon class="d" points="302,359.4 303.4,359.4 317.4,359.5 316,359.5" fill="#028066"/>
<polygon class="d" points="329.9,359.1 331.3,359 345.3,359.1 343.9,359.2" fill="#028066"/>
<polygon class="d" points="385.8,353.3 387.2,352.7 401.2,352.8 399.8,353.4" fill="#088466"/>
<polygon class="b" points="413.8,345.4 415.2,344.3 429.2,344.3 427.8,345.4" fill="#108866"/>
<polygon points="441.7,330.4 443.1,328.3 457.1,328.4 455.7,330.5" fill="#1e8e66"/>
<polygon points="469.7,300.7 471.1,296.4 485.1,296.5 483.7,300.8" fill="#3b9d66"/>
<polygon points="134.3,239.1 135.7,252.5 149.7,263.9 148.3,252.3" fill="#77bb66"/>
<polygon class="b" points="190.2,348.8 191.6,349.9 205.6,351.3 204.2,350.3" fill="#0c8666"/>
<polygon class="d" points="218.2,357 219.6,357.4 233.5,358.1 232.1,357.8" fill="#048266"/>
<polygon class="d" points="357.9,357.4 359.3,357.1 373.3,357.2 371.9,357.5" fill="#048266"/>
<polygon class="c" points="387.2,352.7 388.6,352 402.6,352.1 401.2,352.8" fill="#098466"/>
<polygon class="b" points="415.2,344.3 416.6,343.1 430.6,343.2 429.2,344.3" fill="#118866"/>
<polygon class="d" points="247.5,359.4 248.9,359.4 262.9,359.7 261.5,359.7" fill="#028066"/>
<polygon class="d" points="275.5,359.5 276.8,359.5 290.8,359.6 289.4,359.7" fill="#028066"/>
<polygon points="135.7,252.5 137.1,264.3 151.1,274.2 149.7,263.9" fill="#6ab466"/>
<polygon points="163.7,327.8 165.1,331 179,334 177.6,331.1" fill="#219066"/>
<polygon class="b" points="191.6,349.9 193,350.9 207,352.3 205.6,351.3" fill="#0b8566"/>
<polygon class="d" points="219.6,357.4 221,357.7 234.9,358.3 233.5,358.1" fill="#048266"/>
<polygon class="d" points="303.4,359.4 304.8,359.4 318.8,359.5 317.4,359.5" fill="#028066"/>
<polygon class="d" points="331.3,359 332.7,358.9 346.7,359 345.3,359.1" fill="#028066"/>
<polygon class="d" points="359.3,357.1 360.7,356.8 374.7,356.9 373.3,357.2" fill="#048266"/>
<polygon points="443.1,328.3 444.5,326 458.5,326.1 457.1,328.4" fill="#209066"/>
<polygon points="471.1,296.4 472.5,291.7 486.4,291.8 485.1,296.5" fill="#3f9f66"/>
<polygon class="d" points="248.9,359.4 250.3,359.4 264.3,359.7 262.9,359.7" fill="#028066"/>
<polygon class="c" points="388.6,352 390,351.4 404,351.5 402.6,352.1" fill="#098466"/>
<polygon class="b" points="416.6,343.1 418,341.8 432,341.9 430.6,343.2" fill="#128866"/>
<polygon points="444.5,326 445.9,323.6 459.9,323.7 458.5,326.1" fill="#229066"/>
<polygon points="472.5,291.7 473.9,286.7 487.8,286.8 486.4,291.8" fill="#44a266"/>
<polygon points="165.1,331 166.5,333.8 180.4,336.6 179,334" fill="#1e8e66"/>
<polygon points="137.1,264.3 138.5,274.7 152.5,283.5 151.1,274.2" fill="#5faf66"/>
<polygon class="b" points="193,350.9 194.4,351.8 208.4,353.1 207,352.3" fill="#0a8466"/>
<polygon class="d" points="221,357.7 222.4,357.9 236.3,358.6 234.9,358.3" fill="#048266"/>
<polygon class="d" points="276.8,359.5 278.2,359.5 292.2,359.6 290.8,359.6" fill="#028066"/>
<polygon class="d" points="304.8,359.4 306.2,359.4 320.2,359.5 318.8,359.5" fill="#028066"/>
<polygon class="d" points="332.7,358.9 334.1,358.8 348.1,358.9 346.7,359" fill="#028066"/>
<polygon class="d" points="360.7,356.8 362.1,356.4 376.1,356.6 374.7,356.9" fill="#058266"/>
<polygon class="c" points="390,351.4 391.4,350.6 405.4,350.7 404,351.5" fill="#0a8466"/>
<polygon points="138.5,274.7 139.9,283.8 153.9,291.6 152.5,283.5" fill="#55aa66"/>
<polygon points="166.5,333.8 167.9,336.3 181.8,338.9 180.4,336.6" fill="#1b8d66"/>
<polygon class="c" points="194.4,351.8 195.8,352.7 209.8,353.9 208.4,353.1" fill="#098466"/>
<polygon class="d" points="222.4,357.9 223.7,358.2 237.7,358.8 236.3,358.6" fill="#038166"/>
<polygon class="d" points="250.3,359.4 251.7,359.4 265.7,359.7 264.3,359.7" fill="#028066"/>
<polygon class="d" points="278.2,359.5 279.6,359.4 293.6,359.6 292.2,359.6" fill="#028066"/>
<polygon class="d" points="306.2,359.4 307.6,359.3 321.6,359.4 320.2,359.5" fill="#028066"/>
<polygon class="d" points="334.1,358.8 335.5,358.6 349.5,358.7 348.1,358.9" fill="#038166"/>
<polygon class="d" points="362.1,356.4 363.5,356.1 377.5,356.2 376.1,356.6" fill="#058266"/>
<polygon points="418,341.8 419.4,340.5 433.3,340.6 432,341.9" fill="#138966"/>
<polygon points="445.9,323.6 447.3,321 461.3,321 459.9,323.7" fill="#259266"/>
<polygon points="473.9,286.7 475.3,281.3 489.2,281.3 487.8,286.8" fill="#49a466"/>
<polygon class="c" points="391.4,350.6 392.8,349.9 406.8,350 405.4,350.7" fill="#0b8566"/>
<polygon points="419.4,340.5 420.8,339.1 434.7,339.1 433.3,340.6" fill="#148a66"/>
<polygon points="447.3,321 448.7,318.2 462.7,318.2 461.3,321" fill="#279366"/>
<polygon points="475.3,281.3 476.7,275.4 490.6,275.5 489.2,281.3" fill="#4ea666"/>
<polygon points="167.9,336.3 169.3,338.6 183.2,341 181.8,338.9" fill="#188c66"/>
<polygon class="d" points="251.7,359.4 253.1,359.4 267.1,359.7 265.7,359.7" fill="#028066"/>
<polygon class="d" points="279.6,359.4 281,359.4 295,359.5 293.6,359.6" fill="#028066"/>
<polygon class="d" points="307.6,359.3 309,359.3 323,359.4 321.6,359.4" fill="#028066"/>
<polygon points="139.9,283.8 141.3,291.8 155.3,298.8 153.9,291.6" fill="#4ca666"/>
<polygon class="c" points="195.8,352.7 197.2,353.4 211.2,354.6 209.8,353.9" fill="#098466"/>
<polygon class="d" points="223.7,358.2 225.1,358.4 239.1,358.9 237.7,358.8" fill="#038166"/>
<polygon class="d" points="335.5,358.6 336.9,358.4 350.9,358.6 349.5,358.7" fill="#038166"/>
<polygon class="d" points="363.5,356.1 364.9,355.7 378.9,355.8 377.5,356.2" fill="#058266"/>
<polygon class="d" points="253.1,359.4 254.5,359.4 268.5,359.7 267.1,359.7" fill="#028066"/>
<polygon class="d" points="281,359.4 282.4,359.4 296.4,359.5 295,359.5" fill="#028066"/>
<polygon class="d" points="309,359.3 310.4,359.3 324.4,359.4 323,359.4" fill="#028066"/>
<polygon class="d" points="336.9,358.4 338.3,358.3 352.3,358.4 350.9,358.6" fill="#038166"/>
<polygon class="c" points="392.8,349.9 394.2,349.1 408.2,349.2 406.8,350" fill="#0b8566"/>
<polygon points="420.8,339.1 422.2,337.5 436.1,337.6 434.7,339.1" fill="#168a66"/>
<polygon points="448.7,318.2 450.1,315.2 464.1,315.2 462.7,318.2" fill="#2a9466"/>
<polygon points="476.7,275.4 478.1,269.1 492,269.2 490.6,275.5" fill="#54aa66"/>
<polygon points="141.3,291.8 142.7,298.9 156.7,305.2 155.3,298.8" fill="#44a266"/>
<polygon points="169.3,338.6 170.7,340.6 184.6,342.9 183.2,341" fill="#168a66"/>
<polygon class="c" points="197.2,353.4 198.6,354.1 212.6,355.2 211.2,354.6" fill="#088466"/>
<polygon class="d" points="225.1,358.4 226.5,358.5 240.5,359.1 239.1,358.9" fill="#038166"/>
<polygon class="d" points="364.9,355.7 366.3,355.2 380.3,355.3 378.9,355.8" fill="#068266"/>
<polygon class="b" points="394.2,349.1 395.6,348.2 409.6,348.3 408.2,349.2" fill="#0c8666"/>
<polygon points="422.2,337.5 423.6,335.9 437.5,336 436.1,337.6" fill="#178b66"/>
<polygon class="d" points="254.5,359.4 255.9,359.4 269.9,359.6 268.5,359.7" fill="#028066"/>
<polygon points="170.7,340.6 172,342.4 186,344.6 184.6,342.9" fill="#148a66"/>
<polygon points="142.7,298.9 144.1,305.1 158.1,310.9 156.7,305.2" fill="#3d9e66"/>
<polygon class="d" points="198.6,354.1 200,354.7 214,355.7 212.6,355.2" fill="#078366"/>
<polygon class="d" points="226.5,358.5 227.9,358.7 241.9,359.2 240.5,359.1" fill="#038166"/>
<polygon class="d" points="282.4,359.4 283.8,359.4 297.8,359.5 296.4,359.5" fill="#028066"/>
<polygon class="d" points="310.4,359.3 311.8,359.2 325.8,359.3 324.4,359.4" fill="#028066"/>
<polygon class="d" points="338.3,358.3 339.7,358 353.7,358.2 352.3,358.4" fill="#038166"/>
<polygon class="d" points="366.3,355.2 367.7,354.8 381.6,354.9 380.3,355.3" fill="#068266"/>
<polygon points="450.1,315.2 451.5,311.9 465.5,312 464.1,315.2" fill="#2d9666"/>
<polygon points="478.1,269.1 479.5,262.3 493.4,262.3 492,269.2" fill="#5aac66"/>
<polygon class="b" points="395.6,348.2 397,347.3 411,347.4 409.6,348.3" fill="#0d8666"/>
<polygon points="423.6,335.9 425,334.2 438.9,334.3 437.5,336" fill="#198c66"/>
<polygon points="451.5,311.9 452.9,308.4 466.9,308.5 465.5,312" fill="#309866"/>
<polygon points="479.5,262.3 480.9,254.9 494.8,255 493.4,262.3" fill="#61b066"/>
<polygon points="172,342.4 173.4,344.1 187.4,346.2 186,344.6" fill="#138966"/>
<polygon points="144.1,305.1 145.5,310.6 159.5,315.9 158.1,310.9" fill="#379b66"/>
<polygon class="d" points="200,354.7 201.4,355.2 215.4,356.2 214,355.7" fill="#078366"/>
<polygon class="d" points="227.9,358.7 229.3,358.8 243.3,359.3 241.9,359.2" fill="#038166"/>
<polygon class="d" points="255.9,359.4 257.3,359.4 271.3,359.6 269.9,359.6" fill="#028066"/>
<polygon class="d" points="283.8,359.4 285.2,359.4 299.2,359.5 297.8,359.5" fill="#028066"/>
<polygon class="d" points="311.8,359.2 313.2,359.1 327.2,359.3 325.8,359.3" fill="#028066"/>
<polygon class="d" points="339.7,358 341.1,357.8 355.1,357.9 353.7,358.2" fill="#038166"/>
<polygon class="d" points="367.7,354.8 369.1,354.3 383,354.4 381.6,354.9" fill="#068266"/>
<polygon points="173.4,344.1 174.8,345.6 188.8,347.5 187.4,346.2" fill="#118866"/>
<polygon class="d" points="201.4,355.2 202.8,355.7 216.8,356.7 215.4,356.2" fill="#068266"/>
<polygon class="d" points="229.3,358.8 230.7,358.9 244.7,359.3 243.3,359.3" fill="#038166"/>
<polygon class="d" points="257.3,359.4 258.7,359.4 272.7,359.6 271.3,359.6" fill="#028066"/>
<polygon class="d" points="285.2,359.4 286.6,359.3 300.6,359.5 299.2,359.5" fill="#028066"/>
<polygon class="d" points="313.2,359.1 314.6,359.1 328.5,359.2 327.2,359.3" fill="#028066"/>
<polygon class="d" points="341.1,357.8 342.5,357.6 356.5,357.7 355.1,357.9" fill="#048266"/>
<polygon class="d" points="369.1,354.3 370.5,353.7 384.4,353.8 383,354.4" fill="#078366"/>
<polygon class="b" points="397,347.3 398.4,346.3 412.4,346.4 411,347.4" fill="#0e8666"/>
<polygon points="425,334.2 426.4,332.3 440.3,332.4 438.9,334.3" fill="#1b8d66"/>
<polygon points="452.9,308.4 454.3,304.7 468.3,304.8 466.9,308.5" fill="#349a66"/>
<polygon points="480.9,254.9 482.3,247 496.2,247 494.8,255" fill="#68b366"/>
<polygon points="145.5,310.6 146.9,315.5 160.9,320.3 159.5,315.9" fill="#329866"/>
<polygon class="b" points="398.4,346.3 399.8,345.3 413.8,345.4 412.4,346.4" fill="#0f8766"/>
<polygon points="426.4,332.3 427.8,330.3 441.7,330.4 440.3,332.4" fill="#1c8e66"/>
<polygon points="454.3,304.7 455.7,300.7 469.7,300.7 468.3,304.8" fill="#379b66"/>
<polygon class="b" points="174.8,345.6 176.2,346.9 190.2,348.8 188.8,347.5" fill="#0f8766"/>
<polygon class="d" points="202.8,355.7 204.2,356.2 218.2,357 216.8,356.7" fill="#068266"/>
<polygon class="d" points="258.7,359.4 260.1,359.4 274.1,359.5 272.7,359.6" fill="#028066"/>
<polygon class="d" points="286.6,359.3 288,359.3 302,359.4 300.6,359.5" fill="#028066"/>
<polygon points="146.9,315.5 148.3,319.8 162.3,324.3 160.9,320.3" fill="#2d9666"/>
<polygon class="d" points="230.7,358.9 232.1,359 246.1,359.4 244.7,359.3" fill="#028066"/>
<polygon class="d" points="314.6,359.1 316,359 329.9,359.1 328.5,359.2" fill="#028066"/>
<polygon class="d" points="342.5,357.6 343.9,357.3 357.9,357.4 356.5,357.7" fill="#048266"/>
<polygon class="d" points="370.5,353.7 371.9,353.2 385.8,353.3 384.4,353.8" fill="#078366"/>
<polygon points="482.3,247 483.7,238.4 497.6,238.4 496.2,247" fill="#6fb766"/>
<polygon class="d" points="260.1,359.4 261.5,359.3 275.5,359.5 274.1,359.5" fill="#028066"/>
<polygon class="d" points="288,359.3 289.4,359.3 303.4,359.4 302,359.4" fill="#028066"/>
<polygon class="d" points="316,359 317.4,358.9 331.3,359 329.9,359.1" fill="#028066"/>
<polygon class="b" points="399.8,345.3 401.2,344.2 415.2,344.3 413.8,345.4" fill="#108866"/>
<polygon points="427.8,330.3 429.2,328.2 443.1,328.3 441.7,330.4" fill="#1e8e66"/>
<polygon points="455.7,300.7 457.1,296.3 471.1,296.4 469.7,300.7" fill="#3b9d66"/>
<polygon points="483.7,238.4 485.1,229.1 499,229.1 497.6,238.4" fill="#78bc66"/>
<polygon points="120.3,221.4 121.7,237.2 135.7,252.5 134.3,239.1" fill="#88c366"/>
<polygon points="148.3,319.8 149.7,323.6 163.7,327.8 162.3,324.3" fill="#299466"/>
<polygon class="b" points="176.2,346.9 177.6,348.2 191.6,349.9 190.2,348.8" fill="#0e8666"/>
<polygon class="d" points="204.2,356.2 205.6,356.5 219.6,357.4 218.2,357" fill="#058266"/>
<polygon class="d" points="232.1,359 233.5,359 247.5,359.4 246.1,359.4" fill="#028066"/>
<polygon class="d" points="343.9,357.3 345.3,357 359.3,357.1 357.9,357.4" fill="#048266"/>
<polygon class="d" points="371.9,353.2 373.3,352.6 387.2,352.7 385.8,353.3" fill="#088466"/>
<polygon class="b" points="401.2,344.2 402.6,343 416.6,343.1 415.2,344.3" fill="#118866"/>
<polygon class="d" points="261.5,359.3 262.9,359.3 276.8,359.5 275.5,359.5" fill="#028066"/>
<polygon points="121.7,237.2 123.1,251 137.1,264.3 135.7,252.5" fill="#79bc66"/>
<polygon class="b" points="177.6,348.2 179,349.3 193,350.9 191.6,349.9" fill="#0d8666"/>
<polygon points="149.7,323.6 151.1,327.1 165.1,331 163.7,327.8" fill="#259266"/>
<polygon class="d" points="205.6,356.5 207,356.9 221,357.7 219.6,357.4" fill="#058266"/>
<polygon class="d" points="233.5,359 234.9,359.1 248.9,359.4 247.5,359.4" fill="#028066"/>
<polygon class="d" points="289.4,359.3 290.8,359.3 304.8,359.4 303.4,359.4" fill="#028066"/>
<polygon class="d" points="317.4,358.9 318.8,358.8 332.7,358.9 331.3,359" fill="#028066"/>
<polygon class="d" points="345.3,357 346.7,356.7 360.7,356.8 359.3,357.1" fill="#048266"/>
<polygon class="c" points="373.3,352.6 374.7,351.9 388.6,352 387.2,352.7" fill="#098466"/>
<polygon points="429.2,328.2 430.6,326 444.5,326 443.1,328.3" fill="#209066"/>
<polygon points="457.1,296.3 458.5,291.7 472.5,291.7 471.1,296.4" fill="#3f9f66"/>
<polygon points="485.1,229.1 486.4,219 500.4,219.1 499,229.1" fill="#81c066"/>
<polygon class="b" points="402.6,343 404,341.7 418,341.8 416.6,343.1" fill="#128866"/>
<polygon points="430.6,326 432,323.5 445.9,323.6 444.5,326" fill="#239166"/>
<polygon points="458.5,291.7 459.9,286.6 473.9,286.7 472.5,291.7" fill="#44a266"/>
<polygon points="486.4,219 487.8,208.2 501.8,208.2 500.4,219.1" fill="#8bc566"/>
<polygon points="123.1,251 124.5,262.9 138.5,274.7 137.1,264.3" fill="#6cb666"/>
<polygon points="151.1,327.1 152.5,330.2 166.5,333.8 165.1,331" fill="#219066"/>
<polygon class="b" points="179,349.3 180.4,350.3 194.4,351.8 193,350.9" fill="#0c8666"/>
<polygon class="d" points="207,356.9 208.4,357.2 222.4,357.9 221,357.7" fill="#048266"/>
<polygon class="d" points="234.9,359.1 236.3,359.1 250.3,359.4 248.9,359.4" fill="#028066"/>
<polygon class="d" points="262.9,359.3 264.3,359.3 278.2,359.5 276.8,359.5" fill="#028066"/>
<polygon class="d" points="290.8,359.3 292.2,359.2 306.2,359.4 304.8,359.4" fill="#028066"/>
<polygon class="d" points="318.8,358.8 320.2,358.6 334.1,358.8 332.7,358.9" fill="#038166"/>
<polygon class="d" points="346.7,356.7 348.1,356.3 362.1,356.4 360.7,356.8" fill="#058266"/>
<polygon class="c" points="374.7,351.9 376.1,351.3 390,351.4 388.6,352" fill="#098466"/>
<polygon points="124.5,262.9 125.9,273.3 139.9,283.8 138.5,274.7" fill="#60b066"/>
<polygon class="b" points="180.4,350.3 181.8,351.2 195.8,352.7 194.4,351.8" fill="#0b8566"/>
<polygon class="d" points="208.4,357.2 209.8,357.5 223.7,358.2 222.4,357.9" fill="#048266"/>
<polygon class="d" points="264.3,359.3 265.7,359.3 279.6,359.4 278.2,359.5" fill="#028066"/>
<polygon class="d" points="292.2,359.2 293.6,359.2 307.6,359.3 306.2,359.4" fill="#028066"/>
<polygon class="d" points="320.2,358.6 321.6,358.5 335.5,358.6 334.1,358.8" fill="#038166"/>
<polygon class="d" points="348.1,356.3 349.5,355.9 363.5,356.1 362.1,356.4" fill="#058266"/>
<polygon class="c" points="376.1,351.3 377.5,350.5 391.4,350.6 390,351.4" fill="#0a8466"/>
<polygon points="404,341.7 405.4,340.4 419.4,340.5 418,341.8" fill="#138966"/>
<polygon points="432,323.5 433.3,320.9 447.3,321 445.9,323.6" fill="#259266"/>
<polygon points="459.9,286.6 461.3,281.2 475.3,281.3 473.9,286.7" fill="#49a466"/>
<polygon points="487.8,208.2 489.2,196.4 503.2,196.5 501.8,208.2" fill="#95ca66"/>
<polygon points="152.5,330.2 153.9,332.9 167.9,336.3 166.5,333.8" fill="#1e8e66"/>
<polygon class="d" points="236.3,359.1 237.7,359.1 251.7,359.4 250.3,359.4" fill="#028066"/>
<polygon points="405.4,340.4 406.8,339 420.8,339.1 419.4,340.5" fill="#148a66"/>
<polygon points="433.3,320.9 434.7,318.1 448.7,318.2 447.3,321" fill="#279366"/>
<polygon points="461.3,281.2 462.7,275.4 476.7,275.4 475.3,281.3" fill="#4ea666"/>
<polygon class="d" points="265.7,359.3 267.1,359.3 281,359.4 279.6,359.4" fill="#028066"/>
<polygon class="d" points="293.6,359.2 295,359.2 309,359.3 307.6,359.3" fill="#028066"/>
<polygon points="125.9,273.3 127.3,282.4 141.3,291.8 139.9,283.8" fill="#56ab66"/>
<polygon points="153.9,332.9 155.3,335.4 169.3,338.6 167.9,336.3" fill="#1c8e66"/>
<polygon class="c" points="181.8,351.2 183.2,352 197.2,353.4 195.8,352.7" fill="#0a8466"/>
<polygon class="d" points="209.8,357.5 211.2,357.7 225.1,358.4 223.7,358.2" fill="#048266"/>
<polygon class="d" points="237.7,359.1 239.1,359.1 253.1,359.4 251.7,359.4" fill="#028066"/>
<polygon class="d" points="321.6,358.5 323,358.3 336.9,358.4 335.5,358.6" fill="#038166"/>
<polygon class="d" points="349.5,355.9 350.9,355.5 364.9,355.7 363.5,356.1" fill="#058266"/>
<polygon class="c" points="377.5,350.5 378.9,349.8 392.8,349.9 391.4,350.6" fill="#0b8566"/>
<polygon points="489.2,196.4 490.6,183.7 504.6,183.8 503.2,196.5" fill="#a1d066"/>
<polygon class="d" points="267.1,359.3 268.5,359.2 282.4,359.4 281,359.4" fill="#028066"/>
<polygon class="d" points="295,359.2 296.4,359.1 310.4,359.3 309,359.3" fill="#028066"/>
<polygon class="d" points="323,358.3 324.4,358.1 338.3,358.3 336.9,358.4" fill="#038166"/>
<polygon points="406.8,339 408.2,337.5 422.2,337.5 420.8,339.1" fill="#168a66"/>
<polygon points="434.7,318.1 436.1,315.1 450.1,315.2 448.7,318.2" fill="#2a9466"/>
<polygon points="462.7,275.4 464.1,269.1 478.1,269.1 476.7,275.4" fill="#54aa66"/>
<polygon points="490.6,183.7 492,169.9 506,170 504.6,183.8" fill="#add666"/>
<polygon points="127.3,282.4 128.7,290.4 142.7,298.9 141.3,291.8" fill="#4da666"/>
<polygon class="c" points="183.2,352 184.6,352.7 198.6,354.1 197.2,353.4" fill="#098466"/>
<polygon points="155.3,335.4 156.7,337.6 170.7,340.6 169.3,338.6" fill="#198c66"/>
<polygon class="d" points="211.2,357.7 212.6,357.9 226.5,358.5 225.1,358.4" fill="#048266"/>
<polygon class="d" points="239.1,359.1 240.5,359.1 254.5,359.4 253.1,359.4" fill="#028066"/>
<polygon class="d" points="350.9,355.5 352.3,355.1 366.3,355.2 364.9,355.7" fill="#068266"/>
<polygon class="c" points="378.9,349.8 380.3,349 394.2,349.1 392.8,349.9" fill="#0b8566"/>
<polygon points="408.2,337.5 409.6,335.8 423.6,335.9 422.2,337.5" fill="#178b66"/>
<polygon points="128.7,290.4 130.1,297.4 144.1,305.1 142.7,298.9" fill="#45a266"/>
<polygon points="156.7,337.6 158.1,339.6 172,342.4 170.7,340.6" fill="#178b66"/>
<polygon class="c" points="184.6,352.7 186,353.4 200,354.7 198.6,354.1" fill="#088466"/>
<polygon class="d" points="212.6,357.9 214,358.1 227.9,358.7 226.5,358.5" fill="#038166"/>
<polygon class="d" points="240.5,359.1 241.9,359.1 255.9,359.4 254.5,359.4" fill="#028066"/>
<polygon class="d" points="268.5,359.2 269.9,359.2 283.8,359.4 282.4,359.4" fill="#028066"/>
<polygon class="d" points="296.4,359.1 297.8,359.1 311.8,359.2 310.4,359.3" fill="#028066"/>
<polygon class="d" points="324.4,358.1 325.8,357.9 339.7,358 338.3,358.3" fill="#038166"/>
<polygon class="d" points="352.3,355.1 353.7,354.6 367.7,354.8 366.3,355.2" fill="#068266"/>
<polygon class="b" points="380.3,349 381.6,348.1 395.6,348.2 394.2,349.1" fill="#0c8666"/>
<polygon points="436.1,315.1 437.5,311.9 451.5,311.9 450.1,315.2" fill="#2d9666"/>
<polygon points="464.1,269.1 465.5,262.2 479.5,262.3 478.1,269.1" fill="#5aac66"/>
<polygon points="492,169.9 493.4,155 507.4,155.1 506,170" fill="#bbdd66"/>
<polygon points="409.6,335.8 411,334.1 425,334.2 423.6,335.9" fill="#198c66"/>
<polygon points="437.5,311.9 438.9,308.4 452.9,308.4 451.5,311.9" fill="#309866"/>
<polygon points="465.5,262.2 466.9,254.9 480.9,254.9 479.5,262.3" fill="#61b066"/>
<polygon points="493.4,155 494.8,138.9 508.8,138.9 507.4,155.1" fill="#c9e466"/>
<polygon points="130.1,297.4 131.5,303.5 145.5,310.6 144.1,305.1" fill="#3e9e66"/>
<polygon points="158.1,339.6 159.5,341.4 173.4,344.1 172,342.4" fill="#158a66"/>
<polygon class="d" points="186,353.4 187.4,354 201.4,355.2 200,354.7" fill="#088466"/>
<polygon class="d" points="214,358.1 215.4,358.2 229.3,358.8 227.9,358.7" fill="#038166"/>
<polygon class="d" points="269.9,359.2 271.3,359.2 285.2,359.4 283.8,359.4" fill="#028066"/>
<polygon class="d" points="241.9,359.1 243.3,359.1 257.3,359.4 255.9,359.4" fill="#028066"/>
<polygon class="d" points="297.8,359.1 299.2,359 313.2,359.1 311.8,359.2" fill="#028066"/>
<polygon class="d" points="325.8,357.9 327.2,357.7 341.1,357.8 339.7,358" fill="#038166"/>
<polygon class="d" points="353.7,354.6 355.1,354.1 369.1,354.3 367.7,354.8" fill="#078366"/>
<polygon class="b" points="381.6,348.1 383,347.2 397,347.3 395.6,348.2" fill="#0d8666"/>
<polygon class="d" points="187.4,354 188.8,354.6 202.8,355.7 201.4,355.2" fill="#078366"/>
<polygon class="d" points="215.4,358.2 216.8,358.3 230.7,358.9 229.3,358.8" fill="#038166"/>
<polygon class="d" points="271.3,359.2 272.7,359.2 286.6,359.3 285.2,359.4" fill="#028066"/>
<polygon class="d" points="299.2,359 300.6,358.9 314.6,359.1 313.2,359.1" fill="#028066"/>
<polygon class="d" points="327.2,357.7 328.5,357.4 342.5,357.6 341.1,357.8" fill="#048266"/>
<polygon class="d" points="355.1,354.1 356.5,353.6 370.5,353.7 369.1,354.3" fill="#078366"/>
<polygon points="411,334.1 412.4,332.2 426.4,332.3 425,334.2" fill="#1b8d66"/>
<polygon points="438.9,308.4 440.3,304.6 454.3,304.7 452.9,308.4" fill="#349a66"/>
<polygon points="466.9,254.9 468.3,246.9 482.3,247 480.9,254.9" fill="#68b366"/>
<polygon points="494.8,138.9 496.2,121.4 510.2,121.4 508.8,138.9" fill="#d9ec66"/>
<polygon points="131.5,303.5 132.9,309 146.9,315.5 145.5,310.6" fill="#389c66"/>
<polygon points="159.5,341.4 160.9,343.1 174.8,345.6 173.4,344.1" fill="#138966"/>
<polygon class="d" points="243.3,359.1 244.7,359.1 258.7,359.4 257.3,359.4" fill="#028066"/>
<polygon class="b" points="383,347.2 384.4,346.2 398.4,346.3 397,347.3" fill="#0e8666"/>
<polygon points="412.4,332.2 413.8,330.3 427.8,330.3 426.4,332.3" fill="#1c8e66"/>
<polygon points="440.3,304.6 441.7,300.6 455.7,300.7 454.3,304.7" fill="#379b66"/>
<polygon class="d" points="188.8,354.6 190.2,355 204.2,356.2 202.8,355.7" fill="#078366"/>
<polygon class="d" points="272.7,359.2 274.1,359.2 288,359.3 286.6,359.3" fill="#028066"/>
<polygon points="132.9,309 134.3,313.8 148.3,319.8 146.9,315.5" fill="#339966"/>
<polygon points="160.9,343.1 162.3,344.6 176.2,346.9 174.8,345.6" fill="#128866"/>
<polygon class="d" points="216.8,358.3 218.2,358.5 232.1,359 230.7,358.9" fill="#038166"/>
<polygon class="d" points="244.7,359.1 246.1,359.1 260.1,359.4 258.7,359.4" fill="#028066"/>
<polygon class="d" points="300.6,358.9 302,358.8 316,359 314.6,359.1" fill="#028066"/>
<polygon class="d" points="328.5,357.4 329.9,357.1 343.9,357.3 342.5,357.6" fill="#048266"/>
<polygon class="d" points="356.5,353.6 357.9,353 371.9,353.2 370.5,353.7" fill="#088466"/>
<polygon class="b" points="384.4,346.2 385.8,345.2 399.8,345.3 398.4,346.3" fill="#0f8766"/>
<polygon points="468.3,246.9 469.7,238.3 483.7,238.4 482.3,247" fill="#70b866"/>
<polygon points="496.2,121.4 497.6,102.4 511.6,102.5 510.2,121.4" fill="#eaf466"/>
<polygon class="d" points="274.1,359.2 275.5,359.2 289.4,359.3 288,359.3" fill="#028066"/>
<polygon class="d" points="302,358.8 303.4,358.7 317.4,358.9 316,359" fill="#038166"/>
<polygon points="413.8,330.3 415.2,328.1 429.2,328.2 427.8,330.3" fill="#1e8e66"/>
<polygon points="441.7,300.6 443.1,296.3 457.1,296.3 455.7,300.7" fill="#3b9d66"/>
<polygon points="469.7,238.3 471.1,229 485.1,229.1 483.7,238.4" fill="#78bc66"/>
<polygon points="134.3,313.8 135.7,318.1 149.7,323.6 148.3,319.8" fill="#2e9666"/>
<polygon points="106.4,196.6 107.8,215.9 121.7,237.2 120.3,221.4" fill="#a1d066"/>
<polygon class="b" points="162.3,344.6 163.7,345.9 177.6,348.2 176.2,346.9" fill="#108866"/>
<polygon class="d" points="190.2,355 191.6,355.5 205.6,356.5 204.2,356.2" fill="#068266"/>
<polygon class="d" points="218.2,358.5 219.6,358.5 233.5,359 232.1,359" fill="#038166"/>
<polygon class="d" points="246.1,359.1 247.5,359.1 261.5,359.3 260.1,359.4" fill="#028066"/>
<polygon class="d" points="329.9,357.1 331.3,356.8 345.3,357 343.9,357.3" fill="#048266"/>
<polygon class="d" points="357.9,353 359.3,352.4 373.3,352.6 371.9,353.2" fill="#088466"/>
<polygon class="b" points="385.8,345.2 387.2,344.1 401.2,344.2 399.8,345.3" fill="#108866"/>
<polygon points="107.8,215.9 109.2,232.4 123.1,251 121.7,237.2" fill="#8ec666"/>
<polygon points="135.7,318.1 137.1,321.9 151.1,327.1 149.7,323.6" fill="#2a9466"/>
<polygon class="b" points="163.7,345.9 165.1,347.1 179,349.3 177.6,348.2" fill="#0f8766"/>
<polygon class="d" points="191.6,355.5 193,355.9 207,356.9 205.6,356.5" fill="#068266"/>
<polygon class="d" points="219.6,358.5 221,358.6 234.9,359.1 233.5,359" fill="#038166"/>
<polygon class="d" points="247.5,359.1 248.9,359.1 262.9,359.3 261.5,359.3" fill="#028066"/>
<polygon class="d" points="275.5,359.2 276.8,359.1 290.8,359.3 289.4,359.3" fill="#028066"/>
<polygon class="d" points="303.4,358.7 304.8,358.6 318.8,358.8 317.4,358.9" fill="#038166"/>
<polygon class="d" points="331.3,356.8 332.7,356.5 346.7,356.7 345.3,357" fill="#048266"/>
<polygon class="c" points="359.3,352.4 360.7,351.8 374.7,351.9 373.3,352.6" fill="#098466"/>
<polygon class="b" points="387.2,344.1 388.6,342.9 402.6,343 401.2,344.2" fill="#118866"/>
<polygon points="415.2,328.1 416.6,325.9 430.6,326 429.2,328.2" fill="#209066"/>
<polygon points="443.1,296.3 444.5,291.6 458.5,291.7 457.1,296.3" fill="#3f9f66"/>
<polygon points="471.1,229 472.5,219 486.4,219 485.1,229.1" fill="#81c066"/>
<polygon points="416.6,325.9 418,323.4 432,323.5 430.6,326" fill="#239166"/>
<polygon points="444.5,291.6 445.9,286.6 459.9,286.6 458.5,291.7" fill="#44a266"/>
<polygon points="472.5,219 473.9,208.1 487.8,208.2 486.4,219" fill="#8bc566"/>
<polygon points="137.1,321.9 138.5,325.3 152.5,330.2 151.1,327.1" fill="#269266"/>
<polygon class="d" points="193,355.9 194.4,356.2 208.4,357.2 207,356.9" fill="#058266"/>
<polygon class="d" points="221,358.6 222.4,358.7 236.3,359.1 234.9,359.1" fill="#038166"/>
<polygon class="d" points="276.8,359.1 278.2,359.1 292.2,359.2 290.8,359.3" fill="#028066"/>
<polygon points="109.2,232.4 110.6,246.5 124.5,262.9 123.1,251" fill="#7ebe66"/>
<polygon class="b" points="165.1,347.1 166.5,348.2 180.4,350.3 179,349.3" fill="#0e8666"/>
<polygon class="d" points="248.9,359.1 250.3,359.1 264.3,359.3 262.9,359.3" fill="#028066"/>
<polygon class="d" points="304.8,358.6 306.2,358.5 320.2,358.6 318.8,358.8" fill="#038166"/>
<polygon class="d" points="332.7,356.5 334.1,356.2 348.1,356.3 346.7,356.7" fill="#058266"/>
<polygon class="c" points="360.7,351.8 362.1,351.1 376.1,351.3 374.7,351.9" fill="#098466"/>
<polygon class="b" points="388.6,342.9 390,341.6 404,341.7 402.6,343" fill="#128866"/>
<polygon class="d" points="194.4,356.2 195.8,356.6 209.8,357.5 208.4,357.2" fill="#058266"/>
<polygon class="d" points="278.2,359.1 279.6,359.1 293.6,359.2 292.2,359.2" fill="#028066"/>
<polygon class="d" points="306.2,358.5 307.6,358.3 321.6,358.5 320.2,358.6" fill="#038166"/>
<polygon class="d" points="334.1,356.2 335.5,355.8 349.5,355.9 348.1,356.3" fill="#058266"/>
<polygon class="c" points="362.1,351.1 363.5,350.4 377.5,350.5 376.1,351.3" fill="#0a8466"/>
<polygon points="418,323.4 419.4,320.8 433.3,320.9 432,323.5" fill="#259266"/>
<polygon points="445.9,286.6 447.3,281.1 461.3,281.2 459.9,286.6" fill="#49a466"/>
<polygon points="473.9,208.1 475.3,196.4 489.2,196.4 487.8,208.2" fill="#95ca66"/>
<polygon points="110.6,246.5 112,258.7 125.9,273.3 124.5,262.9" fill="#70b866"/>
<polygon points="138.5,325.3 139.9,328.4 153.9,332.9 152.5,330.2" fill="#239166"/>
<polygon class="b" points="166.5,348.2 167.9,349.2 181.8,351.2 180.4,350.3" fill="#0d8666"/>
<polygon class="d" points="222.4,358.7 223.7,358.7 237.7,359.1 236.3,359.1" fill="#038166"/>
<polygon class="d" points="250.3,359.1 251.7,359.1 265.7,359.3 264.3,359.3" fill="#028066"/>
<polygon points="390,341.6 391.4,340.3 405.4,340.4 404,341.7" fill="#138966"/>
<polygon points="419.4,320.8 420.8,318 434.7,318.1 433.3,320.9" fill="#289366"/>
<polygon points="447.3,281.1 448.7,275.3 462.7,275.4 461.3,281.2" fill="#4ea666"/>
<polygon class="d" points="279.6,359.1 281,359 295,359.2 293.6,359.2" fill="#028066"/>
<polygon points="112,258.7 113.4,269.3 127.3,282.4 125.9,273.3" fill="#64b266"/>
<polygon points="139.9,328.4 141.3,331.2 155.3,335.4 153.9,332.9" fill="#209066"/>
<polygon class="b" points="167.9,349.2 169.3,350.2 183.2,352 181.8,351.2" fill="#0c8666"/>
<polygon class="d" points="195.8,356.6 197.2,356.8 211.2,357.7 209.8,357.5" fill="#058266"/>
<polygon class="d" points="223.7,358.7 225.1,358.8 239.1,359.1 237.7,359.1" fill="#038166"/>
<polygon class="d" points="251.7,359.1 253.1,359.1 267.1,359.3 265.7,359.3" fill="#028066"/>
<polygon class="d" points="307.6,358.3 309,358.2 323,358.3 321.6,358.5" fill="#038166"/>
<polygon class="d" points="335.5,355.8 336.9,355.4 350.9,355.5 349.5,355.9" fill="#058266"/>
<polygon class="c" points="363.5,350.4 364.9,349.7 378.9,349.8 377.5,350.5" fill="#0b8566"/>
<polygon points="391.4,340.3 392.8,338.9 406.8,339 405.4,340.4" fill="#158a66"/>
<polygon points="475.3,196.4 476.7,183.6 490.6,183.7 489.2,196.4" fill="#a1d066"/>
<polygon class="d" points="281,359 282.4,359 296.4,359.1 295,359.2" fill="#028066"/>
<polygon class="d" points="309,358.2 310.4,358 324.4,358.1 323,358.3" fill="#038166"/>
<polygon points="420.8,318 422.2,315 436.1,315.1 434.7,318.1" fill="#2a9466"/>
<polygon points="448.7,275.3 450.1,269 464.1,269.1 462.7,275.4" fill="#54aa66"/>
<polygon points="476.7,183.6 478.1,169.9 492,169.9 490.6,183.7" fill="#add666"/>
<polygon points="113.4,269.3 114.8,278.5 128.7,290.4 127.3,282.4" fill="#5aac66"/>
<polygon points="141.3,331.2 142.7,333.6 156.7,337.6 155.3,335.4" fill="#1d8e66"/>
<polygon class="c" points="169.3,350.2 170.7,351 184.6,352.7 183.2,352" fill="#0b8566"/>
<polygon class="d" points="197.2,356.8 198.6,357.1 212.6,357.9 211.2,357.7" fill="#048266"/>
<polygon class="d" points="225.1,358.8 226.5,358.8 240.5,359.1 239.1,359.1" fill="#038166"/>
<polygon class="d" points="253.1,359.1 254.5,359.1 268.5,359.2 267.1,359.3" fill="#028066"/>
<polygon class="d" points="336.9,355.4 338.3,355 352.3,355.1 350.9,355.5" fill="#068266"/>
<polygon class="c" points="364.9,349.7 366.3,348.8 380.3,349 378.9,349.8" fill="#0b8566"/>
<polygon points="392.8,338.9 394.2,337.4 408.2,337.5 406.8,339" fill="#168a66"/>
<polygon points="114.8,278.5 116.2,286.6 130.1,297.4 128.7,290.4" fill="#51a866"/>
<polygon points="142.7,333.6 144.1,335.9 158.1,339.6 156.7,337.6" fill="#1b8d66"/>
<polygon class="d" points="198.6,357.1 200,357.3 214,358.1 212.6,357.9" fill="#048266"/>
<polygon class="d" points="226.5,358.8 227.9,358.8 241.9,359.1 240.5,359.1" fill="#038166"/>
<polygon class="d" points="282.4,359 283.8,358.9 297.8,359.1 296.4,359.1" fill="#028066"/>
<polygon class="d" points="310.4,358 311.8,357.7 325.8,357.9 324.4,358.1" fill="#038166"/>
<polygon class="d" points="338.3,355 339.7,354.5 353.7,354.6 352.3,355.1" fill="#068266"/>
<polygon class="b" points="366.3,348.8 367.7,348 381.6,348.1 380.3,349" fill="#0c8666"/>
<polygon points="394.2,337.4 395.6,335.7 409.6,335.8 408.2,337.5" fill="#178b66"/>
<polygon points="422.2,315 423.6,311.8 437.5,311.9 436.1,315.1" fill="#2d9666"/>
<polygon points="450.1,269 451.5,262.2 465.5,262.2 464.1,269.1" fill="#5aac66"/>
<polygon points="478.1,169.9 479.5,155 493.4,155 492,169.9" fill="#bbdd66"/>
<polygon class="c" points="170.7,351 172,351.7 186,353.4 184.6,352.7" fill="#0a8466"/>
<polygon class="d" points="254.5,359.1 255.9,359.1 269.9,359.2 268.5,359.2" fill="#028066"/>
<polygon points="423.6,311.8 425,308.3 438.9,308.4 437.5,311.9" fill="#309866"/>
<polygon points="451.5,262.2 452.9,254.8 466.9,254.9 465.5,262.2" fill="#61b066"/>
<polygon points="479.5,155 480.9,138.8 494.8,138.9 493.4,155" fill="#c9e466"/>
<polygon points="144.1,335.9 145.5,337.9 159.5,341.4 158.1,339.6" fill="#198c66"/>
<polygon class="d" points="200,357.3 201.4,357.5 215.4,358.2 214,358.1" fill="#048266"/>
<polygon points="116.2,286.6 117.6,293.7 131.5,303.5 130.1,297.4" fill="#49a466"/>
<polygon class="c" points="172,351.7 173.4,352.4 187.4,354 186,353.4" fill="#098466"/>
<polygon class="d" points="227.9,358.8 229.3,358.8 243.3,359.1 241.9,359.1" fill="#038166"/>
<polygon class="d" points="255.9,359.1 257.3,359 271.3,359.2 269.9,359.2" fill="#028066"/>
<polygon class="d" points="283.8,358.9 285.2,358.8 299.2,359 297.8,359.1" fill="#028066"/>
<polygon class="d" points="311.8,357.7 313.2,357.5 327.2,357.7 325.8,357.9" fill="#048266"/>
<polygon class="d" points="339.7,354.5 341.1,354 355.1,354.1 353.7,354.6" fill="#078366"/>
<polygon class="b" points="367.7,348 369.1,347.1 383,347.2 381.6,348.1" fill="#0d8666"/>
<polygon points="395.6,335.7 397,334 411,334.1 409.6,335.8" fill="#198c66"/>
<polygon class="d" points="201.4,357.5 202.8,357.7 216.8,358.3 215.4,358.2" fill="#048266"/>
<polygon class="d" points="285.2,358.8 286.6,358.8 300.6,358.9 299.2,359" fill="#038166"/>
<polygon class="d" points="313.2,357.5 314.6,357.3 328.5,357.4 327.2,357.7" fill="#048266"/>
<polygon class="d" points="341.1,354 342.5,353.5 356.5,353.6 355.1,354.1" fill="#078366"/>
<polygon points="425,308.3 426.4,304.6 440.3,304.6 438.9,308.4" fill="#349a66"/>
<polygon points="452.9,254.8 454.3,246.9 468.3,246.9 466.9,254.9" fill="#68b366"/>
<polygon points="480.9,138.8 482.3,121.3 496.2,121.4 494.8,138.9" fill="#d9ec66"/>
<polygon points="117.6,293.7 118.9,299.9 132.9,309 131.5,303.5" fill="#42a066"/>
<polygon points="145.5,337.9 146.9,339.7 160.9,343.1 159.5,341.4" fill="#178b66"/>
<polygon class="d" points="173.4,352.4 174.8,353.1 188.8,354.6 187.4,354" fill="#098466"/>
<polygon class="d" points="229.3,358.8 230.7,358.8 244.7,359.1 243.3,359.1" fill="#038166"/>
<polygon class="d" points="257.3,359 258.7,359 272.7,359.2 271.3,359.2" fill="#028066"/>
<polygon class="b" points="369.1,347.1 370.5,346.1 384.4,346.2 383,347.2" fill="#0e8666"/>
<polygon points="397,334 398.4,332.2 412.4,332.2 411,334.1" fill="#1b8d66"/>
<polygon points="426.4,304.6 427.8,300.5 441.7,300.6 440.3,304.6" fill="#379b66"/>
<polygon points="146.9,339.7 148.3,341.4 162.3,344.6 160.9,343.1" fill="#158a66"/>
<polygon class="d" points="174.8,353.1 176.2,353.6 190.2,355 188.8,354.6" fill="#088466"/>
<polygon points="118.9,299.9 120.3,305.4 134.3,313.8 132.9,309" fill="#3c9e66"/>
<polygon class="d" points="202.8,357.7 204.2,357.8 218.2,358.5 216.8,358.3" fill="#048266"/>
<polygon class="d" points="230.7,358.8 232.1,358.9 246.1,359.1 244.7,359.1" fill="#038166"/>
<polygon class="d" points="258.7,359 260.1,359 274.1,359.2 272.7,359.2" fill="#028066"/>
<polygon class="d" points="286.6,358.8 288,358.7 302,358.8 300.6,358.9" fill="#038166"/>
<polygon class="d" points="314.6,357.3 316,357 329.9,357.1 328.5,357.4" fill="#048266"/>
<polygon class="d" points="342.5,353.5 343.9,352.9 357.9,353 356.5,353.6" fill="#088466"/>
<polygon class="b" points="370.5,346.1 371.9,345 385.8,345.2 384.4,346.2" fill="#0f8766"/>
<polygon points="398.4,332.2 399.8,330.2 413.8,330.3 412.4,332.2" fill="#1d8e66"/>
<polygon points="454.3,246.9 455.7,238.3 469.7,238.3 468.3,246.9" fill="#70b866"/>
<polygon points="482.3,121.3 483.7,102.4 497.6,102.4 496.2,121.4" fill="#eaf466"/>
<polygon class="d" points="288,358.7 289.4,358.6 303.4,358.7 302,358.8" fill="#038166"/>
<polygon points="427.8,300.5 429.2,296.2 443.1,296.3 441.7,300.6" fill="#3b9d66"/>
<polygon points="455.7,238.3 457.1,229 471.1,229 469.7,238.3" fill="#78bc66"/>
<polygon points="120.3,305.4 121.7,310.3 135.7,318.1 134.3,313.8" fill="#379b66"/>
<polygon points="148.3,341.4 149.7,342.9 163.7,345.9 162.3,344.6" fill="#148a66"/>
<polygon class="d" points="204.2,357.8 205.6,357.9 219.6,358.5 218.2,358.5" fill="#048266"/>
<polygon class="d" points="232.1,358.9 233.5,358.9 247.5,359.1 246.1,359.1" fill="#038166"/>
<polygon class="d" points="260.1,359 261.5,359 275.5,359.2 274.1,359.2" fill="#028066"/>
<polygon class="d" points="176.2,353.6 177.6,354.1 191.6,355.5 190.2,355" fill="#088466"/>
<polygon class="d" points="316,357 317.4,356.7 331.3,356.8 329.9,357.1" fill="#048266"/>
<polygon class="d" points="343.9,352.9 345.3,352.3 359.3,352.4 357.9,353" fill="#088466"/>
<polygon class="b" points="371.9,345 373.3,343.9 387.2,344.1 385.8,345.2" fill="#108866"/>
<polygon points="399.8,330.2 401.2,328 415.2,328.1 413.8,330.3" fill="#1e8e66"/>
<polygon class="b" points="149.7,342.9 151.1,344.3 165.1,347.1 163.7,345.9" fill="#128866"/>
<polygon class="d" points="205.6,357.9 207,358.1 221,358.6 219.6,358.5" fill="#038166"/>
<polygon class="d" points="233.5,358.9 234.9,358.9 248.9,359.1 247.5,359.1" fill="#038166"/>
<polygon class="d" points="289.4,358.6 290.8,358.4 304.8,358.6 303.4,358.7" fill="#038166"/>
<polygon class="d" points="317.4,356.7 318.8,356.4 332.7,356.5 331.3,356.8" fill="#058266"/>
<polygon class="c" points="345.3,352.3 346.7,351.7 360.7,351.8 359.3,352.4" fill="#098466"/>
<polygon class="b" points="373.3,343.9 374.7,342.8 388.6,342.9 387.2,344.1" fill="#118866"/>
<polygon points="429.2,296.2 430.6,291.5 444.5,291.6 443.1,296.3" fill="#40a066"/>
<polygon points="457.1,229 458.5,218.9 472.5,219 471.1,229" fill="#81c066"/>
<polygon points="121.7,310.3 123.1,314.7 137.1,321.9 135.7,318.1" fill="#329866"/>
<polygon class="d" points="177.6,354.1 179,354.6 193,355.9 191.6,355.5" fill="#078366"/>
<polygon class="d" points="261.5,359 262.9,359 276.8,359.1 275.5,359.2" fill="#028066"/>
<polygon points="401.2,328 402.6,325.8 416.6,325.9 415.2,328.1" fill="#219066"/>
<polygon points="430.6,291.5 432,286.5 445.9,286.6 444.5,291.6" fill="#44a266"/>
<polygon points="458.5,218.9 459.9,208.1 473.9,208.1 472.5,219" fill="#8bc566"/>
<polygon class="d" points="207,358.1 208.4,358.2 222.4,358.7 221,358.6" fill="#038166"/>
<polygon points="123.1,314.7 124.5,318.6 138.5,325.3 137.1,321.9" fill="#2e9666"/>
<polygon class="b" points="151.1,344.3 152.5,345.5 166.5,348.2 165.1,347.1" fill="#118866"/>
<polygon class="d" points="179,354.6 180.4,355 194.4,356.2 193,355.9" fill="#078366"/>
<polygon class="d" points="234.9,358.9 236.3,358.9 250.3,359.1 248.9,359.1" fill="#038166"/>
<polygon class="d" points="262.9,359 264.3,358.9 278.2,359.1 276.8,359.1" fill="#028066"/>
<polygon class="d" points="290.8,358.4 292.2,358.3 306.2,358.5 304.8,358.6" fill="#038166"/>
<polygon class="d" points="318.8,356.4 320.2,356 334.1,356.2 332.7,356.5" fill="#058266"/>
<polygon class="c" points="346.7,351.7 348.1,351 362.1,351.1 360.7,351.8" fill="#0a8466"/>
<polygon class="b" points="374.7,342.8 376.1,341.5 390,341.6 388.6,342.9" fill="#128866"/>
<polygon points="402.6,325.8 404,323.3 418,323.4 416.6,325.9" fill="#239166"/>
<polygon class="d" points="292.2,358.3 293.6,358.1 307.6,358.3 306.2,358.5" fill="#038166"/>
<polygon class="d" points="320.2,356 321.6,355.6 335.5,355.8 334.1,356.2" fill="#058266"/>
<polygon class="c" points="348.1,351 349.5,350.3 363.5,350.4 362.1,351.1" fill="#0a8466"/>
<polygon points="432,286.5 433.3,281.1 447.3,281.1 445.9,286.6" fill="#49a466"/>
<polygon points="459.9,208.1 461.3,196.3 475.3,196.4 473.9,208.1" fill="#95ca66"/>
<polygon class="b" points="152.5,345.5 153.9,346.7 167.9,349.2 166.5,348.2" fill="#0f8766"/>
<polygon class="d" points="180.4,355 181.8,355.4 195.8,356.6 194.4,356.2" fill="#068266"/>
<polygon points="124.5,318.6 125.9,322.1 139.9,328.4 138.5,325.3" fill="#2a9466"/>
<polygon class="d" points="208.4,358.2 209.8,358.2 223.7,358.7 222.4,358.7" fill="#038166"/>
<polygon class="d" points="236.3,358.9 237.7,358.9 251.7,359.1 250.3,359.1" fill="#038166"/>
<polygon class="d" points="264.3,358.9 265.7,358.9 279.6,359.1 278.2,359.1" fill="#028066"/>
<polygon points="376.1,341.5 377.5,340.2 391.4,340.3 390,341.6" fill="#138966"/>
<polygon points="404,323.3 405.4,320.7 419.4,320.8 418,323.4" fill="#259266"/>
<polygon points="433.3,281.1 434.7,275.2 448.7,275.3 447.3,281.1" fill="#4ea666"/>
<polygon points="125.9,322.1 127.3,325.2 141.3,331.2 139.9,328.4" fill="#269266"/>
<polygon class="b" points="153.9,346.7 155.3,347.7 169.3,350.2 167.9,349.2" fill="#0e8666"/>
<polygon class="d" points="209.8,358.2 211.2,358.3 225.1,358.8 223.7,358.7" fill="#038166"/>
<polygon class="d" points="237.7,358.9 239.1,358.9 253.1,359.1 251.7,359.1" fill="#038166"/>
<polygon class="d" points="265.7,358.9 267.1,358.8 281,359 279.6,359.1" fill="#028066"/>
<polygon class="d" points="293.6,358.1 295,358 309,358.2 307.6,358.3" fill="#038166"/>
<polygon class="d" points="321.6,355.6 323,355.2 336.9,355.4 335.5,355.8" fill="#068266"/>
<polygon class="c" points="349.5,350.3 350.9,349.5 364.9,349.7 363.5,350.4" fill="#0b8566"/>
<polygon points="377.5,340.2 378.9,338.8 392.8,338.9 391.4,340.3" fill="#158a66"/>
<polygon points="405.4,320.7 406.8,317.9 420.8,318 419.4,320.8" fill="#289366"/>
<polygon points="461.3,196.3 462.7,183.6 476.7,183.6 475.3,196.4" fill="#a1d066"/>
<polygon class="d" points="181.8,355.4 183.2,355.7 197.2,356.8 195.8,356.6" fill="#068266"/>
<polygon class="d" points="295,358 296.4,357.8 310.4,358 309,358.2" fill="#038166"/>
<polygon points="434.7,275.2 436.1,268.9 450.1,269 448.7,275.3" fill="#54aa66"/>
<polygon points="462.7,183.6 464.1,169.8 478.1,169.9 476.7,183.6" fill="#add666"/>
<polygon class="b" points="155.3,347.7 156.7,348.7 170.7,351 169.3,350.2" fill="#0d8666"/>
<polygon class="d" points="211.2,358.3 212.6,358.4 226.5,358.8 225.1,358.8" fill="#038166"/>
<polygon class="d" points="239.1,358.9 240.5,358.8 254.5,359.1 253.1,359.1" fill="#038166"/>
<polygon class="d" points="267.1,358.8 268.5,358.8 282.4,359 281,359" fill="#038166"/>
<polygon points="127.3,325.2 128.7,328.1 142.7,333.6 141.3,331.2" fill="#239166"/>
<polygon class="d" points="183.2,355.7 184.6,356.1 198.6,357.1 197.2,356.8" fill="#068266"/>
<polygon class="d" points="323,355.2 324.4,354.8 338.3,355 336.9,355.4" fill="#068266"/>
<polygon class="c" points="350.9,349.5 352.3,348.7 366.3,348.8 364.9,349.7" fill="#0c8666"/>
<polygon points="378.9,338.8 380.3,337.2 394.2,337.4 392.8,338.9" fill="#168a66"/>
<polygon points="406.8,317.9 408.2,314.9 422.2,315 420.8,318" fill="#2a9466"/>
<polygon class="d" points="212.6,358.4 214,358.4 227.9,358.8 226.5,358.8" fill="#038166"/>
<polygon class="d" points="296.4,357.8 297.8,357.6 311.8,357.7 310.4,358" fill="#048266"/>
<polygon class="d" points="324.4,354.8 325.8,354.3 339.7,354.5 338.3,355" fill="#068266"/>
<polygon class="b" points="352.3,348.7 353.7,347.8 367.7,348 366.3,348.8" fill="#0c8666"/>
<polygon points="380.3,337.2 381.6,335.6 395.6,335.7 394.2,337.4" fill="#188c66"/>
<polygon points="436.1,268.9 437.5,262.1 451.5,262.2 450.1,269" fill="#5aac66"/>
<polygon points="464.1,169.8 465.5,154.9 479.5,155 478.1,169.9" fill="#bbdd66"/>
<polygon points="128.7,328.1 130.1,330.6 144.1,335.9 142.7,333.6" fill="#219066"/>
<polygon class="c" points="156.7,348.7 158.1,349.5 172,351.7 170.7,351" fill="#0c8666"/>
<polygon class="d" points="184.6,356.1 186,356.3 200,357.3 198.6,357.1" fill="#058266"/>
<polygon class="d" points="240.5,358.8 241.9,358.8 255.9,359.1 254.5,359.1" fill="#038166"/>
<polygon class="d" points="268.5,358.8 269.9,358.7 283.8,358.9 282.4,359" fill="#038166"/>
<polygon points="408.2,314.9 409.6,311.7 423.6,311.8 422.2,315" fill="#2d9666"/>
<polygon points="437.5,262.1 438.9,254.7 452.9,254.8 451.5,262.2" fill="#61b066"/>
<polygon points="465.5,154.9 466.9,138.8 480.9,138.8 479.5,155" fill="#c9e466"/>
<polygon points="130.1,330.6 131.5,332.9 145.5,337.9 144.1,335.9" fill="#1e8e66"/>
<polygon class="c" points="158.1,349.5 159.5,350.3 173.4,352.4 172,351.7" fill="#0c8666"/>
<polygon class="d" points="186,356.3 187.4,356.6 201.4,357.5 200,357.3" fill="#058266"/>
<polygon class="d" points="214,358.4 215.4,358.4 229.3,358.8 227.9,358.8" fill="#038166"/>
<polygon class="d" points="241.9,358.8 243.3,358.8 257.3,359 255.9,359.1" fill="#038166"/>
<polygon class="d" points="297.8,357.6 299.2,357.3 313.2,357.5 311.8,357.7" fill="#048266"/>
<polygon class="d" points="325.8,354.3 327.2,353.8 341.1,354 339.7,354.5" fill="#078366"/>
<polygon class="b" points="353.7,347.8 355.1,346.9 369.1,347.1 367.7,348" fill="#0d8666"/>
<polygon points="381.6,335.6 383,333.9 397,334 395.6,335.7" fill="#198c66"/>
<polygon points="409.6,311.7 411,308.2 425,308.3 423.6,311.8" fill="#309866"/>
<polygon class="d" points="269.9,358.7 271.3,358.7 285.2,358.8 283.8,358.9" fill="#038166"/>
<polygon class="d" points="299.2,357.3 300.6,357.1 314.6,357.3 313.2,357.5" fill="#048266"/>
<polygon class="d" points="327.2,353.8 328.5,353.3 342.5,353.5 341.1,354" fill="#078366"/>
<polygon points="438.9,254.7 440.3,246.8 454.3,246.9 452.9,254.8" fill="#68b366"/>
<polygon points="466.9,138.8 468.3,121.3 482.3,121.3 480.9,138.8" fill="#d9ec66"/>
<polygon class="c" points="159.5,350.3 160.9,351.1 174.8,353.1 173.4,352.4" fill="#0b8566"/>
<polygon class="d" points="187.4,356.6 188.8,356.8 202.8,357.7 201.4,357.5" fill="#058266"/>
<polygon points="131.5,332.9 132.9,335 146.9,339.7 145.5,337.9" fill="#1c8e66"/>
<polygon class="d" points="215.4,358.4 216.8,358.5 230.7,358.8 229.3,358.8" fill="#038166"/>
<polygon class="d" points="243.3,358.8 244.7,358.8 258.7,359 257.3,359" fill="#038166"/>
<polygon class="d" points="271.3,358.7 272.7,358.6 286.6,358.8 285.2,358.8" fill="#038166"/>
<polygon class="b" points="355.1,346.9 356.5,345.9 370.5,346.1 369.1,347.1" fill="#0e8666"/>
<polygon points="383,333.9 384.4,332 398.4,332.2 397,334" fill="#1b8d66"/>
<polygon points="411,308.2 412.4,304.5 426.4,304.6 425,308.3" fill="#349a66"/>
<polygon class="d" points="160.9,351.1 162.3,351.7 176.2,353.6 174.8,353.1" fill="#0a8466"/>
<polygon points="132.9,335 134.3,336.9 148.3,341.4 146.9,339.7" fill="#1a8c66"/>
<polygon class="d" points="216.8,358.5 218.2,358.5 232.1,358.9 230.7,358.8" fill="#038166"/>
<polygon class="d" points="244.7,358.8 246.1,358.8 260.1,359 258.7,359" fill="#038166"/>
<polygon class="d" points="300.6,357.1 302,356.8 316,357 314.6,357.3" fill="#048266"/>
<polygon class="d" points="328.5,353.3 329.9,352.7 343.9,352.9 342.5,353.5" fill="#088466"/>
<polygon class="b" points="356.5,345.9 357.9,344.9 371.9,345 370.5,346.1" fill="#0f8766"/>
<polygon points="384.4,332 385.8,330.1 399.8,330.2 398.4,332.2" fill="#1d8e66"/>
<polygon points="412.4,304.5 413.8,300.4 427.8,300.5 426.4,304.6" fill="#379b66"/>
<polygon points="440.3,246.8 441.7,238.2 455.7,238.3 454.3,246.9" fill="#70b866"/>
<polygon points="468.3,121.3 469.7,102.3 483.7,102.4 482.3,121.3" fill="#eaf466"/>
<polygon class="d" points="188.8,356.8 190.2,357 204.2,357.8 202.8,357.7" fill="#058266"/>
<polygon class="d" points="272.7,358.6 274.1,358.5 288,358.7 286.6,358.8" fill="#038166"/>
<polygon points="441.7,238.2 443.1,228.9 457.1,229 455.7,238.3" fill="#78bc66"/>
<polygon class="d" points="218.2,358.5 219.6,358.5 233.5,358.9 232.1,358.9" fill="#038166"/>
<polygon class="d" points="246.1,358.8 247.5,358.8 261.5,359 260.1,359" fill="#038166"/>
<polygon class="d" points="274.1,358.5 275.5,358.4 289.4,358.6 288,358.7" fill="#038166"/>
<polygon points="134.3,336.9 135.7,338.7 149.7,342.9 148.3,341.4" fill="#188c66"/>
<polygon class="d" points="162.3,351.7 163.7,352.3 177.6,354.1 176.2,353.6" fill="#098466"/>
<polygon class="d" points="190.2,357 191.6,357.2 205.6,357.9 204.2,357.8" fill="#048266"/>
<polygon class="d" points="302,356.8 303.4,356.5 317.4,356.7 316,357" fill="#058266"/>
<polygon class="d" points="329.9,352.7 331.3,352.1 345.3,352.3 343.9,352.9" fill="#088466"/>
<polygon class="b" points="357.9,344.9 359.3,343.8 373.3,343.9 371.9,345" fill="#108866"/>
<polygon points="385.8,330.1 387.2,327.9 401.2,328 399.8,330.2" fill="#1f8f66"/>
<polygon points="413.8,300.4 415.2,296.1 429.2,296.2 427.8,300.5" fill="#3b9d66"/>
<polygon class="d" points="219.6,358.5 221,358.5 234.9,358.9 233.5,358.9" fill="#038166"/>
<polygon class="d" points="303.4,356.5 304.8,356.2 318.8,356.4 317.4,356.7" fill="#058266"/>
<polygon class="c" points="331.3,352.1 332.7,351.5 346.7,351.7 345.3,352.3" fill="#098466"/>
<polygon class="b" points="359.3,343.8 360.7,342.6 374.7,342.8 373.3,343.9" fill="#118866"/>
<polygon points="443.1,228.9 444.5,218.9 458.5,218.9 457.1,229" fill="#81c066"/>
<polygon points="135.7,338.7 137.1,340.3 151.1,344.3 149.7,342.9" fill="#168a66"/>
<polygon class="d" points="163.7,352.3 165.1,352.9 179,354.6 177.6,354.1" fill="#098466"/>
<polygon class="d" points="191.6,357.2 193,357.3 207,358.1 205.6,357.9" fill="#048266"/>
<polygon class="d" points="247.5,358.8 248.9,358.7 262.9,359 261.5,359" fill="#038166"/>
<polygon class="d" points="275.5,358.4 276.8,358.2 290.8,358.4 289.4,358.6" fill="#038166"/>
<polygon points="387.2,327.9 388.6,325.7 402.6,325.8 401.2,328" fill="#219066"/>
<polygon points="415.2,296.1 416.6,291.4 430.6,291.5 429.2,296.2" fill="#40a066"/>
<polygon points="444.5,218.9 445.9,208 459.9,208.1 458.5,218.9" fill="#8bc566"/>
<polygon class="d" points="165.1,352.9 166.5,353.4 180.4,355 179,354.6" fill="#088466"/>
<polygon class="d" points="193,357.3 194.4,357.5 208.4,358.2 207,358.1" fill="#048266"/>
<polygon points="137.1,340.3 138.5,341.7 152.5,345.5 151.1,344.3" fill="#158a66"/>
<polygon class="d" points="221,358.5 222.4,358.6 236.3,358.9 234.9,358.9" fill="#038166"/>
<polygon class="d" points="248.9,358.7 250.3,358.7 264.3,358.9 262.9,359" fill="#038166"/>
<polygon class="d" points="304.8,356.2 306.2,355.8 320.2,356 318.8,356.4" fill="#058266"/>
<polygon class="c" points="332.7,351.5 334.1,350.8 348.1,351 346.7,351.7" fill="#0a8466"/>
<polygon class="b" points="360.7,342.6 362.1,341.4 376.1,341.5 374.7,342.8" fill="#128866"/>
<polygon points="388.6,325.7 390,323.2 404,323.3 402.6,325.8" fill="#239166"/>
<polygon points="416.6,291.4 418,286.4 432,286.5 430.6,291.5" fill="#44a266"/>
<polygon class="d" points="276.8,358.2 278.2,358.1 292.2,358.3 290.8,358.4" fill="#038166"/>
<polygon class="d" points="306.2,355.8 307.6,355.4 321.6,355.6 320.2,356" fill="#058266"/>
<polygon class="c" points="334.1,350.8 335.5,350.1 349.5,350.3 348.1,351" fill="#0a8466"/>
<polygon points="445.9,208 447.3,196.2 461.3,196.3 459.9,208.1" fill="#95ca66"/>
<polygon class="d" points="166.5,353.4 167.9,353.9 181.8,355.4 180.4,355" fill="#088466"/>
<polygon class="b" points="138.5,341.7 139.9,343.1 153.9,346.7 152.5,345.5" fill="#138966"/>
<polygon class="d" points="222.4,358.6 223.7,358.6 237.7,358.9 236.3,358.9" fill="#038166"/>
<polygon class="d" points="250.3,358.7 251.7,358.7 265.7,358.9 264.3,358.9" fill="#038166"/>
<polygon class="d" points="278.2,358.1 279.6,357.9 293.6,358.1 292.2,358.3" fill="#038166"/>
<polygon class="d" points="194.4,357.5 195.8,357.6 209.8,358.2 208.4,358.2" fill="#048266"/>
<polygon points="362.1,341.4 363.5,340.1 377.5,340.2 376.1,341.5" fill="#148a66"/>
<polygon points="390,323.2 391.4,320.6 405.4,320.7 404,323.3" fill="#259266"/>
<polygon points="418,286.4 419.4,281 433.3,281.1 432,286.5" fill="#49a466"/>
<polygon class="d" points="223.7,358.6 225.1,358.6 239.1,358.9 237.7,358.9" fill="#038166"/>
<polygon class="d" points="251.7,358.7 253.1,358.6 267.1,358.8 265.7,358.9" fill="#038166"/>
<polygon class="d" points="307.6,355.4 309,355 323,355.2 321.6,355.6" fill="#068266"/>
<polygon class="c" points="335.5,350.1 336.9,349.3 350.9,349.5 349.5,350.3" fill="#0b8566"/>
<polygon points="363.5,340.1 364.9,338.6 378.9,338.8 377.5,340.2" fill="#158a66"/>
<polygon points="391.4,320.6 392.8,317.8 406.8,317.9 405.4,320.7" fill="#289366"/>
<polygon points="419.4,281 420.8,275.1 434.7,275.2 433.3,281.1" fill="#4ea666"/>
<polygon points="447.3,196.2 448.7,183.5 462.7,183.6 461.3,196.3" fill="#a1d066"/>
<polygon class="b" points="139.9,343.1 141.3,344.3 155.3,347.7 153.9,346.7" fill="#128866"/>
<polygon class="d" points="167.9,353.9 169.3,354.3 183.2,355.7 181.8,355.4" fill="#078366"/>
<polygon class="d" points="195.8,357.6 197.2,357.7 211.2,358.3 209.8,358.2" fill="#048266"/>
<polygon class="d" points="279.6,357.9 281,357.7 295,358 293.6,358.1" fill="#038166"/>
<polygon points="448.7,183.5 450.1,169.7 464.1,169.8 462.7,183.6" fill="#add666"/>
<polygon class="d" points="225.1,358.6 226.5,358.6 240.5,358.8 239.1,358.9" fill="#038166"/>
<polygon class="d" points="253.1,358.6 254.5,358.6 268.5,358.8 267.1,358.8" fill="#038166"/>
<polygon class="d" points="281,357.7 282.4,357.5 296.4,357.8 295,358" fill="#048266"/>
<polygon class="b" points="141.3,344.3 142.7,345.4 156.7,348.7 155.3,347.7" fill="#118866"/>
<polygon class="d" points="169.3,354.3 170.7,354.7 184.6,356.1 183.2,355.7" fill="#078366"/>
<polygon class="d" points="197.2,357.7 198.6,357.8 212.6,358.4 211.2,358.3" fill="#048266"/>
<polygon class="d" points="309,355 310.4,354.6 324.4,354.8 323,355.2" fill="#068266"/>
<polygon class="c" points="336.9,349.3 338.3,348.5 352.3,348.7 350.9,349.5" fill="#0c8666"/>
<polygon points="364.9,338.6 366.3,337.1 380.3,337.2 378.9,338.8" fill="#168a66"/>
<polygon points="392.8,317.8 394.2,314.8 408.2,314.9 406.8,317.9" fill="#2a9466"/>
<polygon points="420.8,275.1 422.2,268.8 436.1,268.9 434.7,275.2" fill="#54aa66"/>
<polygon class="d" points="310.4,354.6 311.8,354.1 325.8,354.3 324.4,354.8" fill="#078366"/>
<polygon class="b" points="338.3,348.5 339.7,347.7 353.7,347.8 352.3,348.7" fill="#0d8666"/>
<polygon points="366.3,337.1 367.7,335.5 381.6,335.6 380.3,337.2" fill="#188c66"/>
<polygon points="450.1,169.7 451.5,154.8 465.5,154.9 464.1,169.8" fill="#bbdd66"/>
<polygon class="d" points="170.7,354.7 172,355 186,356.3 184.6,356.1" fill="#078366"/>
<polygon class="d" points="198.6,357.8 200,357.9 214,358.4 212.6,358.4" fill="#048266"/>
<polygon class="b" points="142.7,345.4 144.1,346.4 158.1,349.5 156.7,348.7" fill="#108866"/>
<polygon class="d" points="226.5,358.6 227.9,358.6 241.9,358.8 240.5,358.8" fill="#038166"/>
<polygon class="d" points="254.5,358.6 255.9,358.5 269.9,358.7 268.5,358.8" fill="#038166"/>
<polygon class="d" points="282.4,357.5 283.8,357.3 297.8,357.6 296.4,357.8" fill="#048266"/>
<polygon points="394.2,314.8 395.6,311.6 409.6,311.7 408.2,314.9" fill="#2d9666"/>
<polygon points="422.2,268.8 423.6,262 437.5,262.1 436.1,268.9" fill="#5aac66"/>
<polygon points="451.5,154.8 452.9,138.7 466.9,138.8 465.5,154.9" fill="#c9e466"/>
<polygon class="d" points="172,355 173.4,355.4 187.4,356.6 186,356.3" fill="#068266"/>
<polygon class="b" points="144.1,346.4 145.5,347.4 159.5,350.3 158.1,349.5" fill="#0f8766"/>
<polygon class="d" points="227.9,358.6 229.3,358.6 243.3,358.8 241.9,358.8" fill="#038166"/>
<polygon class="d" points="311.8,354.1 313.2,353.6 327.2,353.8 325.8,354.3" fill="#078366"/>
<polygon class="b" points="339.7,347.7 341.1,346.8 355.1,346.9 353.7,347.8" fill="#0d8666"/>
<polygon points="367.7,335.5 369.1,333.8 383,333.9 381.6,335.6" fill="#198c66"/>
<polygon points="395.6,311.6 397,308.1 411,308.2 409.6,311.7" fill="#319866"/>
<polygon points="423.6,262 425,254.6 438.9,254.7 437.5,262.1" fill="#61b066"/>
<polygon class="d" points="200,357.9 201.4,357.9 215.4,358.4 214,358.4" fill="#038166"/>
<polygon class="d" points="255.9,358.5 257.3,358.4 271.3,358.7 269.9,358.7" fill="#038166"/>
<polygon class="d" points="283.8,357.3 285.2,357.1 299.2,357.3 297.8,357.6" fill="#048266"/>
<polygon class="d" points="313.2,353.6 314.6,353.1 328.5,353.3 327.2,353.8" fill="#088466"/>
<polygon points="452.9,138.7 454.3,121.2 468.3,121.3 466.9,138.8" fill="#d9ec66"/>
<polygon class="d" points="173.4,355.4 174.8,355.6 188.8,356.8 187.4,356.6" fill="#068266"/>
<polygon class="c" points="145.5,347.4 146.9,348.3 160.9,351.1 159.5,350.3" fill="#0e8666"/>
<polygon class="d" points="229.3,358.6 230.7,358.6 244.7,358.8 243.3,358.8" fill="#038166"/>
<polygon class="d" points="257.3,358.4 258.7,358.3 272.7,358.6 271.3,358.7" fill="#038166"/>
<polygon class="d" points="285.2,357.1 286.6,356.8 300.6,357.1 299.2,357.3" fill="#048266"/>
<polygon class="d" points="201.4,357.9 202.8,358 216.8,358.5 215.4,358.4" fill="#038166"/>
<polygon class="b" points="341.1,346.8 342.5,345.8 356.5,345.9 355.1,346.9" fill="#0e8666"/>
<polygon points="369.1,333.8 370.5,331.9 384.4,332 383,333.9" fill="#1b8d66"/>
<polygon points="397,308.1 398.4,304.4 412.4,304.5 411,308.2" fill="#349a66"/>
<polygon points="425,254.6 426.4,246.7 440.3,246.8 438.9,254.7" fill="#68b366"/>
<polygon class="c" points="146.9,348.3 148.3,349.1 162.3,351.7 160.9,351.1" fill="#0d8666"/>
<polygon class="d" points="230.7,358.6 232.1,358.5 246.1,358.8 244.7,358.8" fill="#038166"/>
<polygon class="d" points="314.6,353.1 316,352.5 329.9,352.7 328.5,353.3" fill="#088466"/>
<polygon class="b" points="342.5,345.8 343.9,344.8 357.9,344.9 356.5,345.9" fill="#0f8766"/>
<polygon points="370.5,331.9 371.9,329.9 385.8,330.1 384.4,332" fill="#1d8e66"/>
<polygon points="398.4,304.4 399.8,300.3 413.8,300.4 412.4,304.5" fill="#389c66"/>
<polygon points="454.3,121.2 455.7,102.2 469.7,102.3 468.3,121.3" fill="#eaf466"/>
<polygon class="d" points="174.8,355.6 176.2,355.9 190.2,357 188.8,356.8" fill="#068266"/>
<polygon class="d" points="202.8,358 204.2,358.1 218.2,358.5 216.8,358.5" fill="#038166"/>
<polygon class="d" points="258.7,358.3 260.1,358.2 274.1,358.5 272.7,358.6" fill="#038166"/>
<polygon class="d" points="286.6,356.8 288,356.6 302,356.8 300.6,357.1" fill="#048266"/>
<polygon points="426.4,246.7 427.8,238.1 441.7,238.2 440.3,246.8" fill="#70b866"/>
<polygon class="d" points="232.1,358.5 233.5,358.5 247.5,358.8 246.1,358.8" fill="#038166"/>
<polygon class="d" points="260.1,358.2 261.5,358.1 275.5,358.4 274.1,358.5" fill="#038166"/>
<polygon class="d" points="176.2,355.9 177.6,356.2 191.6,357.2 190.2,357" fill="#058266"/>
<polygon class="d" points="204.2,358.1 205.6,358.1 219.6,358.5 218.2,358.5" fill="#038166"/>
<polygon class="c" points="148.3,349.1 149.7,349.8 163.7,352.3 162.3,351.7" fill="#0c8666"/>
<polygon class="d" points="316,352.5 317.4,351.9 331.3,352.1 329.9,352.7" fill="#098466"/>
<polygon class="b" points="343.9,344.8 345.3,343.6 359.3,343.8 357.9,344.9" fill="#108866"/>
<polygon points="371.9,329.9 373.3,327.8 387.2,327.9 385.8,330.1" fill="#1f8f66"/>
<polygon points="399.8,300.3 401.2,296 415.2,296.1 413.8,300.4" fill="#3c9e66"/>
<polygon points="427.8,238.1 429.2,228.8 443.1,228.9 441.7,238.2" fill="#78bc66"/>
<polygon class="d" points="288,356.6 289.4,356.2 303.4,356.5 302,356.8" fill="#058266"/>
<polygon class="c" points="317.4,351.9 318.8,351.3 332.7,351.5 331.3,352.1" fill="#098466"/>
<polygon class="b" points="345.3,343.6 346.7,342.5 360.7,342.6 359.3,343.8" fill="#118866"/>
<polygon class="d" points="177.6,356.2 179,356.4 193,357.3 191.6,357.2" fill="#058266"/>
<polygon class="d" points="205.6,358.1 207,358.1 221,358.5 219.6,358.5" fill="#038166"/>
<polygon class="c" points="149.7,349.8 151.1,350.5 165.1,352.9 163.7,352.3" fill="#0b8566"/>
<polygon class="d" points="233.5,358.5 234.9,358.5 248.9,358.7 247.5,358.8" fill="#038166"/>
<polygon class="d" points="261.5,358.1 262.9,358 276.8,358.2 275.5,358.4" fill="#038166"/>
<polygon class="d" points="289.4,356.2 290.8,355.9 304.8,356.2 303.4,356.5" fill="#058266"/>
<polygon points="373.3,327.8 374.7,325.5 388.6,325.7 387.2,327.9" fill="#219066"/>
<polygon points="401.2,296 402.6,291.3 416.6,291.4 415.2,296.1" fill="#40a066"/>
<polygon points="429.2,228.8 430.6,218.8 444.5,218.9 443.1,228.9" fill="#81c066"/>
<polygon class="d" points="179,356.4 180.4,356.6 194.4,357.5 193,357.3" fill="#058266"/>
<polygon class="d" points="151.1,350.5 152.5,351.1 166.5,353.4 165.1,352.9" fill="#0b8566"/>
<polygon class="d" points="207,358.1 208.4,358.2 222.4,358.6 221,358.5" fill="#038166"/>
<polygon class="d" points="234.9,358.5 236.3,358.4 250.3,358.7 248.9,358.7" fill="#038166"/>
<polygon class="c" points="318.8,351.3 320.2,350.6 334.1,350.8 332.7,351.5" fill="#0a8466"/>
<polygon class="b" points="346.7,342.5 348.1,341.2 362.1,341.4 360.7,342.6" fill="#128866"/>
<polygon points="374.7,325.5 376.1,323.1 390,323.2 388.6,325.7" fill="#239166"/>
<polygon points="402.6,291.3 404,286.3 418,286.4 416.6,291.4" fill="#44a266"/>
<polygon points="430.6,218.8 432,207.9 445.9,208 444.5,218.9" fill="#8bc566"/>
<polygon class="d" points="262.9,358 264.3,357.8 278.2,358.1 276.8,358.2" fill="#038166"/>
<polygon class="d" points="290.8,355.9 292.2,355.6 306.2,355.8 304.8,356.2" fill="#058266"/>
<polygon class="c" points="320.2,350.6 321.6,349.9 335.5,350.1 334.1,350.8" fill="#0b8566"/>
<polygon class="d" points="152.5,351.1 153.9,351.7 167.9,353.9 166.5,353.4" fill="#0a8466"/>
<polygon class="d" points="236.3,358.4 237.7,358.4 251.7,358.7 250.3,358.7" fill="#038166"/>
<polygon class="d" points="264.3,357.8 265.7,357.7 279.6,357.9 278.2,358.1" fill="#048266"/>
<polygon class="d" points="292.2,355.6 293.6,355.2 307.6,355.4 306.2,355.8" fill="#068266"/>
<polygon class="d" points="180.4,356.6 181.8,356.7 195.8,357.6 194.4,357.5" fill="#058266"/>
<polygon class="d" points="208.4,358.2 209.8,358.2 223.7,358.6 222.4,358.6" fill="#038166"/>
<polygon points="348.1,341.2 349.5,339.9 363.5,340.1 362.1,341.4" fill="#148a66"/>
<polygon points="376.1,323.1 377.5,320.5 391.4,320.6 390,323.2" fill="#259266"/>
<polygon points="404,286.3 405.4,280.9 419.4,281 418,286.4" fill="#49a466"/>
<polygon points="432,207.9 433.3,196.2 447.3,196.2 445.9,208" fill="#96cb66"/>
<polygon class="d" points="181.8,356.7 183.2,356.9 197.2,357.7 195.8,357.6" fill="#058266"/>
<polygon class="d" points="209.8,358.2 211.2,358.2 225.1,358.6 223.7,358.6" fill="#038166"/>
<polygon class="d" points="237.7,358.4 239.1,358.3 253.1,358.6 251.7,358.7" fill="#038166"/>
<polygon class="c" points="321.6,349.9 323,349.1 336.9,349.3 335.5,350.1" fill="#0b8566"/>
<polygon points="349.5,339.9 350.9,338.5 364.9,338.6 363.5,340.1" fill="#158a66"/>
<polygon points="377.5,320.5 378.9,317.7 392.8,317.8 391.4,320.6" fill="#289366"/>
<polygon points="405.4,280.9 406.8,275 420.8,275.1 419.4,281" fill="#4ea666"/>
<polygon class="d" points="153.9,351.7 155.3,352.2 169.3,354.3 167.9,353.9" fill="#098466"/>
<polygon class="d" points="265.7,357.7 267.1,357.5 281,357.7 279.6,357.9" fill="#048266"/>
<polygon class="d" points="293.6,355.2 295,354.8 309,355 307.6,355.4" fill="#068266"/>
<polygon points="433.3,196.2 434.7,183.4 448.7,183.5 447.3,196.2" fill="#a1d066"/>
<polygon class="d" points="239.1,358.3 240.5,358.3 254.5,358.6 253.1,358.6" fill="#038166"/>
<polygon class="d" points="267.1,357.5 268.5,357.3 282.4,357.5 281,357.7" fill="#048266"/>
<polygon class="d" points="155.3,352.2 156.7,352.7 170.7,354.7 169.3,354.3" fill="#098466"/>
<polygon class="d" points="183.2,356.9 184.6,357 198.6,357.8 197.2,357.7" fill="#048266"/>
<polygon class="d" points="211.2,358.2 212.6,358.2 226.5,358.6 225.1,358.6" fill="#038166"/>
<polygon class="c" points="323,349.1 324.4,348.3 338.3,348.5 336.9,349.3" fill="#0c8666"/>
<polygon points="350.9,338.5 352.3,337 366.3,337.1 364.9,338.6" fill="#168a66"/>
<polygon points="378.9,317.7 380.3,314.7 394.2,314.8 392.8,317.8" fill="#2b9566"/>
<polygon points="406.8,275 408.2,268.7 422.2,268.8 420.8,275.1" fill="#54aa66"/>
<polygon points="434.7,183.4 436.1,169.7 450.1,169.7 448.7,183.5" fill="#add666"/>
<polygon class="d" points="295,354.8 296.4,354.3 310.4,354.6 309,355" fill="#068266"/>
<polygon class="d" points="184.6,357 186,357.2 200,357.9 198.6,357.8" fill="#048266"/>
<polygon class="b" points="324.4,348.3 325.8,347.5 339.7,347.7 338.3,348.5" fill="#0d8666"/>
<polygon points="352.3,337 353.7,335.3 367.7,335.5 366.3,337.1" fill="#188c66"/>
<polygon class="d" points="156.7,352.7 158.1,353.2 172,355 170.7,354.7" fill="#088466"/>
<polygon class="d" points="240.5,358.3 241.9,358.2 255.9,358.5 254.5,358.6" fill="#038166"/>
<polygon class="d" points="268.5,357.3 269.9,357.1 283.8,357.3 282.4,357.5" fill="#048266"/>
<polygon class="d" points="296.4,354.3 297.8,353.9 311.8,354.1 310.4,354.6" fill="#078366"/>
<polygon class="d" points="212.6,358.2 214,358.2 227.9,358.6 226.5,358.6" fill="#038166"/>
<polygon points="380.3,314.7 381.6,311.5 395.6,311.6 394.2,314.8" fill="#2e9666"/>
<polygon points="408.2,268.7 409.6,261.9 423.6,262 422.2,268.8" fill="#5aac66"/>
<polygon points="436.1,169.7 437.5,154.8 451.5,154.8 450.1,169.7" fill="#bbdd66"/>
<polygon class="d" points="158.1,353.2 159.5,353.6 173.4,355.4 172,355" fill="#088466"/>
<polygon class="d" points="186,357.2 187.4,357.3 201.4,357.9 200,357.9" fill="#048266"/>
<polygon class="d" points="214,358.2 215.4,358.2 229.3,358.6 227.9,358.6" fill="#038166"/>
<polygon class="b" points="325.8,347.5 327.2,346.6 341.1,346.8 339.7,347.7" fill="#0e8666"/>
<polygon points="353.7,335.3 355.1,333.6 369.1,333.8 367.7,335.5" fill="#198c66"/>
<polygon points="381.6,311.5 383,308 397,308.1 395.6,311.6" fill="#319866"/>
<polygon points="409.6,261.9 411,254.6 425,254.6 423.6,262" fill="#61b066"/>
<polygon points="437.5,154.8 438.9,138.6 452.9,138.7 451.5,154.8" fill="#c9e466"/>
<polygon class="d" points="241.9,358.2 243.3,358.1 257.3,358.4 255.9,358.5" fill="#038166"/>
<polygon class="d" points="269.9,357.1 271.3,356.8 285.2,357.1 283.8,357.3" fill="#048266"/>
<polygon class="d" points="297.8,353.9 299.2,353.4 313.2,353.6 311.8,354.1" fill="#078366"/>
<polygon class="d" points="159.5,353.6 160.9,354 174.8,355.6 173.4,355.4" fill="#088466"/>
<polygon class="d" points="243.3,358.1 244.7,358 258.7,358.3 257.3,358.4" fill="#038166"/>
<polygon class="d" points="271.3,356.8 272.7,356.5 286.6,356.8 285.2,357.1" fill="#058266"/>
<polygon class="d" points="299.2,353.4 300.6,352.9 314.6,353.1 313.2,353.6" fill="#088466"/>
<polygon class="d" points="187.4,357.3 188.8,357.4 202.8,358 201.4,357.9" fill="#048266"/>
<polygon class="d" points="215.4,358.2 216.8,358.2 230.7,358.6 229.3,358.6" fill="#038166"/>
<polygon class="b" points="327.2,346.6 328.5,345.6 342.5,345.8 341.1,346.8" fill="#0e8666"/>
<polygon points="355.1,333.6 356.5,331.8 370.5,331.9 369.1,333.8" fill="#1b8d66"/>
<polygon points="383,308 384.4,304.2 398.4,304.4 397,308.1" fill="#349a66"/>
<polygon points="411,254.6 412.4,246.6 426.4,246.7 425,254.6" fill="#68b366"/>
<polygon points="438.9,138.6 440.3,121.1 454.3,121.2 452.9,138.7" fill="#d9ec66"/>
<polygon class="d" points="188.8,357.4 190.2,357.5 204.2,358.1 202.8,358" fill="#048266"/>
<polygon class="d" points="216.8,358.2 218.2,358.2 232.1,358.5 230.7,358.6" fill="#038166"/>
<polygon class="b" points="328.5,345.6 329.9,344.6 343.9,344.8 342.5,345.8" fill="#0f8766"/>
<polygon points="356.5,331.8 357.9,329.8 371.9,329.9 370.5,331.9" fill="#1d8e66"/>
<polygon points="384.4,304.2 385.8,300.2 399.8,300.3 398.4,304.4" fill="#389c66"/>
<polygon class="d" points="160.9,354 162.3,354.4 176.2,355.9 174.8,355.6" fill="#078366"/>
<polygon class="d" points="244.7,358 246.1,357.9 260.1,358.2 258.7,358.3" fill="#038166"/>
<polygon class="d" points="272.7,356.5 274.1,356.3 288,356.6 286.6,356.8" fill="#058266"/>
<polygon class="d" points="300.6,352.9 302,352.3 316,352.5 314.6,353.1" fill="#088466"/>
<polygon points="412.4,246.6 413.8,238 427.8,238.1 426.4,246.7" fill="#70b866"/>
<polygon points="440.3,121.1 441.7,102.2 455.7,102.2 454.3,121.2" fill="#eaf466"/>
<polygon class="d" points="246.1,357.9 247.5,357.8 261.5,358.1 260.1,358.2" fill="#038166"/>
<polygon class="d" points="162.3,354.4 163.7,354.7 177.6,356.2 176.2,355.9" fill="#078366"/>
<polygon class="d" points="190.2,357.5 191.6,357.5 205.6,358.1 204.2,358.1" fill="#048266"/>
<polygon class="d" points="218.2,358.2 219.6,358.2 233.5,358.5 232.1,358.5" fill="#038166"/>
<polygon class="b" points="329.9,344.6 331.3,343.5 345.3,343.6 343.9,344.8" fill="#108866"/>
<polygon points="357.9,329.8 359.3,327.7 373.3,327.8 371.9,329.9" fill="#1f8f66"/>
<polygon points="385.8,300.2 387.2,295.9 401.2,296 399.8,300.3" fill="#3c9e66"/>
<polygon points="413.8,238 415.2,228.7 429.2,228.8 427.8,238.1" fill="#78bc66"/>
<polygon class="d" points="274.1,356.3 275.5,356 289.4,356.2 288,356.6" fill="#058266"/>
<polygon class="d" points="302,352.3 303.4,351.7 317.4,351.9 316,352.5" fill="#098466"/>
<polygon class="d" points="191.6,357.5 193,357.6 207,358.1 205.6,358.1" fill="#048266"/>
<polygon class="b" points="331.3,343.5 332.7,342.3 346.7,342.5 345.3,343.6" fill="#128866"/>
<polygon class="d" points="163.7,354.7 165.1,355 179,356.4 177.6,356.2" fill="#078366"/>
<polygon class="d" points="247.5,357.8 248.9,357.7 262.9,358 261.5,358.1" fill="#048266"/>
<polygon class="d" points="275.5,356 276.8,355.6 290.8,355.9 289.4,356.2" fill="#058266"/>
<polygon class="c" points="303.4,351.7 304.8,351.1 318.8,351.3 317.4,351.9" fill="#098466"/>
<polygon class="d" points="219.6,358.2 221,358.1 234.9,358.5 233.5,358.5" fill="#038166"/>
<polygon points="359.3,327.7 360.7,325.4 374.7,325.5 373.3,327.8" fill="#219066"/>
<polygon points="387.2,295.9 388.6,291.2 402.6,291.3 401.2,296" fill="#40a066"/>
<polygon points="415.2,228.7 416.6,218.7 430.6,218.8 429.2,228.8" fill="#81c066"/>
<polygon class="d" points="165.1,355 166.5,355.3 180.4,356.6 179,356.4" fill="#068266"/>
<polygon class="d" points="193,357.6 194.4,357.7 208.4,358.2 207,358.1" fill="#048266"/>
<polygon class="d" points="221,358.1 222.4,358.1 236.3,358.4 234.9,358.5" fill="#038166"/>
<polygon class="b" points="332.7,342.3 334.1,341 348.1,341.2 346.7,342.5" fill="#138966"/>
<polygon points="360.7,325.4 362.1,323 376.1,323.1 374.7,325.5" fill="#239166"/>
<polygon points="388.6,291.2 390,286.2 404,286.3 402.6,291.3" fill="#44a266"/>
<polygon points="416.6,218.7 418,207.8 432,207.9 430.6,218.8" fill="#8bc566"/>
<polygon class="d" points="248.9,357.7 250.3,357.5 264.3,357.8 262.9,358" fill="#048266"/>
<polygon class="d" points="276.8,355.6 278.2,355.3 292.2,355.6 290.8,355.9" fill="#068266"/>
<polygon class="c" points="304.8,351.1 306.2,350.4 320.2,350.6 318.8,351.3" fill="#0a8466"/>
<polygon class="d" points="250.3,357.5 251.7,357.3 265.7,357.7 264.3,357.8" fill="#048266"/>
<polygon class="d" points="278.2,355.3 279.6,354.9 293.6,355.2 292.2,355.6" fill="#068266"/>
<polygon class="c" points="306.2,350.4 307.6,349.7 321.6,349.9 320.2,350.6" fill="#0b8566"/>
<polygon class="d" points="166.5,355.3 167.9,355.6 181.8,356.7 180.4,356.6" fill="#068266"/>
<polygon class="d" points="194.4,357.7 195.8,357.7 209.8,358.2 208.4,358.2" fill="#048266"/>
<polygon class="d" points="222.4,358.1 223.7,358 237.7,358.4 236.3,358.4" fill="#038166"/>
<polygon points="334.1,341 335.5,339.7 349.5,339.9 348.1,341.2" fill="#148a66"/>
<polygon points="362.1,323 363.5,320.4 377.5,320.5 376.1,323.1" fill="#259266"/>
<polygon points="390,286.2 391.4,280.8 405.4,280.9 404,286.3" fill="#49a466"/>
<polygon points="418,207.8 419.4,196.1 433.3,196.2 432,207.9" fill="#96cb66"/>
<polygon class="d" points="195.8,357.7 197.2,357.7 211.2,358.2 209.8,358.2" fill="#048266"/>
<polygon class="d" points="223.7,358 225.1,358 239.1,358.3 237.7,358.4" fill="#038166"/>
<polygon points="335.5,339.7 336.9,338.3 350.9,338.5 349.5,339.9" fill="#158a66"/>
<polygon points="363.5,320.4 364.9,317.6 378.9,317.7 377.5,320.5" fill="#289366"/>
<polygon points="391.4,280.8 392.8,274.9 406.8,275 405.4,280.9" fill="#4fa766"/>
<polygon class="d" points="167.9,355.6 169.3,355.8 183.2,356.9 181.8,356.7" fill="#068266"/>
<polygon class="d" points="251.7,357.3 253.1,357.1 267.1,357.5 265.7,357.7" fill="#048266"/>
<polygon class="d" points="279.6,354.9 281,354.5 295,354.8 293.6,355.2" fill="#068266"/>
<polygon class="c" points="307.6,349.7 309,348.9 323,349.1 321.6,349.9" fill="#0b8566"/>
<polygon points="419.4,196.1 420.8,183.3 434.7,183.4 433.3,196.2" fill="#a1d066"/>
<polygon class="d" points="253.1,357.1 254.5,356.9 268.5,357.3 267.1,357.5" fill="#048266"/>
<polygon class="d" points="169.3,355.8 170.7,356 184.6,357 183.2,356.9" fill="#068266"/>
<polygon class="d" points="197.2,357.7 198.6,357.8 212.6,358.2 211.2,358.2" fill="#048266"/>
<polygon class="d" points="225.1,358 226.5,357.9 240.5,358.3 239.1,358.3" fill="#038166"/>
<polygon points="336.9,338.3 338.3,336.8 352.3,337 350.9,338.5" fill="#178b66"/>
<polygon points="364.9,317.6 366.3,314.6 380.3,314.7 378.9,317.7" fill="#2b9566"/>
<polygon points="392.8,274.9 394.2,268.6 408.2,268.7 406.8,275" fill="#54aa66"/>
<polygon points="420.8,183.3 422.2,169.6 436.1,169.7 434.7,183.4" fill="#add666"/>
<polygon class="d" points="281,354.5 282.4,354 296.4,354.3 295,354.8" fill="#078366"/>
<polygon class="c" points="309,348.9 310.4,348.1 324.4,348.3 323,349.1" fill="#0c8666"/>
<polygon points="338.3,336.8 339.7,335.2 353.7,335.3 352.3,337" fill="#188c66"/>
<polygon class="d" points="170.7,356 172,356.2 186,357.2 184.6,357" fill="#058266"/>
<polygon class="d" points="254.5,356.9 255.9,356.7 269.9,357.1 268.5,357.3" fill="#048266"/>
<polygon class="d" points="282.4,354 283.8,353.6 297.8,353.9 296.4,354.3" fill="#078366"/>
<polygon class="b" points="310.4,348.1 311.8,347.2 325.8,347.5 324.4,348.3" fill="#0d8666"/>
<polygon class="d" points="198.6,357.8 200,357.8 214,358.2 212.6,358.2" fill="#048266"/>
<polygon class="d" points="226.5,357.9 227.9,357.8 241.9,358.2 240.5,358.3" fill="#038166"/>
<polygon points="366.3,314.6 367.7,311.3 381.6,311.5 380.3,314.7" fill="#2e9666"/>
<polygon points="394.2,268.6 395.6,261.8 409.6,261.9 408.2,268.7" fill="#5aac66"/>
<polygon points="422.2,169.6 423.6,154.7 437.5,154.8 436.1,169.7" fill="#bbdd66"/>
<polygon class="d" points="200,357.8 201.4,357.8 215.4,358.2 214,358.2" fill="#048266"/>
<polygon points="339.7,335.2 341.1,333.4 355.1,333.6 353.7,335.3" fill="#1a8c66"/>
<polygon points="367.7,311.3 369.1,307.8 383,308 381.6,311.5" fill="#319866"/>
<polygon points="395.6,261.8 397,254.4 411,254.6 409.6,261.9" fill="#61b066"/>
<polygon points="423.6,154.7 425,138.5 438.9,138.6 437.5,154.8" fill="#c9e466"/>
<polygon class="d" points="172,356.2 173.4,356.4 187.4,357.3 186,357.2" fill="#058266"/>
<polygon class="d" points="255.9,356.7 257.3,356.5 271.3,356.8 269.9,357.1" fill="#058266"/>
<polygon class="d" points="283.8,353.6 285.2,353.1 299.2,353.4 297.8,353.9" fill="#088466"/>
<polygon class="b" points="311.8,347.2 313.2,346.3 327.2,346.6 325.8,347.5" fill="#0e8666"/>
<polygon class="d" points="227.9,357.8 229.3,357.7 243.3,358.1 241.9,358.2" fill="#038166"/>
<polygon class="d" points="257.3,356.5 258.7,356.2 272.7,356.5 271.3,356.8" fill="#058266"/>
<polygon class="d" points="285.2,353.1 286.6,352.6 300.6,352.9 299.2,353.4" fill="#088466"/>
<polygon class="d" points="173.4,356.4 174.8,356.5 188.8,357.4 187.4,357.3" fill="#058266"/>
<polygon class="d" points="201.4,357.8 202.8,357.8 216.8,358.2 215.4,358.2" fill="#048266"/>
<polygon class="d" points="229.3,357.7 230.7,357.6 244.7,358 243.3,358.1" fill="#048266"/>
<polygon points="341.1,333.4 342.5,331.6 356.5,331.8 355.1,333.6" fill="#1b8d66"/>
<polygon points="369.1,307.8 370.5,304.1 384.4,304.2 383,308" fill="#349a66"/>
<polygon points="397,254.4 398.4,246.5 412.4,246.6 411,254.6" fill="#68b366"/>
<polygon points="425,138.5 426.4,121 440.3,121.1 438.9,138.6" fill="#d9ec66"/>
<polygon class="b" points="313.2,346.3 314.6,345.4 328.5,345.6 327.2,346.6" fill="#0f8766"/>
<polygon class="d" points="202.8,357.8 204.2,357.8 218.2,358.2 216.8,358.2" fill="#048266"/>
<polygon points="342.5,331.6 343.9,329.6 357.9,329.8 356.5,331.8" fill="#1d8e66"/>
<polygon points="370.5,304.1 371.9,300.1 385.8,300.2 384.4,304.2" fill="#389c66"/>
<polygon class="d" points="174.8,356.5 176.2,356.6 190.2,357.5 188.8,357.4" fill="#058266"/>
<polygon class="d" points="258.7,356.2 260.1,355.9 274.1,356.3 272.7,356.5" fill="#058266"/>
<polygon class="d" points="286.6,352.6 288,352 302,352.3 300.6,352.9" fill="#098466"/>
<polygon class="b" points="314.6,345.4 316,344.3 329.9,344.6 328.5,345.6" fill="#108866"/>
<polygon class="d" points="230.7,357.6 232.1,357.5 246.1,357.9 244.7,358" fill="#048266"/>
<polygon points="398.4,246.5 399.8,237.9 413.8,238 412.4,246.6" fill="#70b866"/>
<polygon points="426.4,121 427.8,102.1 441.7,102.2 440.3,121.1" fill="#eaf466"/>
<polygon class="d" points="176.2,356.6 177.6,356.8 191.6,357.5 190.2,357.5" fill="#058266"/>
<polygon class="d" points="204.2,357.8 205.6,357.7 219.6,358.2 218.2,358.2" fill="#048266"/>
<polygon class="d" points="232.1,357.5 233.5,357.4 247.5,357.8 246.1,357.9" fill="#048266"/>
<polygon points="343.9,329.6 345.3,327.5 359.3,327.7 357.9,329.8" fill="#1f8f66"/>
<polygon points="371.9,300.1 373.3,295.8 387.2,295.9 385.8,300.2" fill="#3c9e66"/>
<polygon points="399.8,237.9 401.2,228.6 415.2,228.7 413.8,238" fill="#78bc66"/>
<polygon class="d" points="260.1,355.9 261.5,355.6 275.5,356 274.1,356.3" fill="#058266"/>
<polygon class="d" points="288,352 289.4,351.4 303.4,351.7 302,352.3" fill="#098466"/>
<polygon class="b" points="316,344.3 317.4,343.2 331.3,343.5 329.9,344.6" fill="#118866"/>
<polygon class="d" points="177.6,356.8 179,356.9 193,357.6 191.6,357.5" fill="#058266"/>
<polygon class="d" points="261.5,355.6 262.9,355.3 276.8,355.6 275.5,356" fill="#068266"/>
<polygon class="c" points="289.4,351.4 290.8,350.8 304.8,351.1 303.4,351.7" fill="#0a8466"/>
<polygon class="b" points="317.4,343.2 318.8,342.1 332.7,342.3 331.3,343.5" fill="#128866"/>
<polygon class="d" points="205.6,357.7 207,357.7 221,358.1 219.6,358.2" fill="#048266"/>
<polygon class="d" points="233.5,357.4 234.9,357.2 248.9,357.7 247.5,357.8" fill="#048266"/>
<polygon points="345.3,327.5 346.7,325.2 360.7,325.4 359.3,327.7" fill="#219066"/>
<polygon points="373.3,295.8 374.7,291.1 388.6,291.2 387.2,295.9" fill="#40a066"/>
<polygon points="401.2,228.6 402.6,218.6 416.6,218.7 415.2,228.7" fill="#81c066"/>
<polygon class="d" points="207,357.7 208.4,357.6 222.4,358.1 221,358.1" fill="#048266"/>
<polygon points="346.7,325.2 348.1,322.8 362.1,323 360.7,325.4" fill="#239166"/>
<polygon points="374.7,291.1 376.1,286.1 390,286.2 388.6,291.2" fill="#45a266"/>
<polygon points="402.6,218.6 404,207.7 418,207.8 416.6,218.7" fill="#8bc566"/>
<polygon class="d" points="179,356.9 180.4,356.9 194.4,357.7 193,357.6" fill="#048266"/>
<polygon class="d" points="262.9,355.3 264.3,354.9 278.2,355.3 276.8,355.6" fill="#068266"/>
<polygon class="c" points="290.8,350.8 292.2,350.1 306.2,350.4 304.8,351.1" fill="#0a8466"/>
<polygon class="b" points="318.8,342.1 320.2,340.8 334.1,341 332.7,342.3" fill="#138966"/>
<polygon class="d" points="234.9,357.2 236.3,357.1 250.3,357.5 248.9,357.7" fill="#048266"/>
<polygon class="d" points="264.3,354.9 265.7,354.5 279.6,354.9 278.2,355.3" fill="#068266"/>
<polygon class="c" points="292.2,350.1 293.6,349.4 307.6,349.7 306.2,350.4" fill="#0b8566"/>
<polygon class="d" points="180.4,356.9 181.8,357 195.8,357.7 194.4,357.7" fill="#048266"/>
<polygon class="d" points="208.4,357.6 209.8,357.6 223.7,358 222.4,358.1" fill="#048266"/>
<polygon class="d" points="236.3,357.1 237.7,356.9 251.7,357.3 250.3,357.5" fill="#048266"/>
<polygon points="348.1,322.8 349.5,320.2 363.5,320.4 362.1,323" fill="#269266"/>
<polygon points="376.1,286.1 377.5,280.6 391.4,280.8 390,286.2" fill="#49a466"/>
<polygon points="404,207.7 405.4,196 419.4,196.1 418,207.8" fill="#96cb66"/>
<polygon points="320.2,340.8 321.6,339.5 335.5,339.7 334.1,341" fill="#148a66"/>
<polygon class="d" points="209.8,357.6 211.2,357.5 225.1,358 223.7,358" fill="#048266"/>
<polygon points="349.5,320.2 350.9,317.4 364.9,317.6 363.5,320.4" fill="#289366"/>
<polygon points="377.5,280.6 378.9,274.8 392.8,274.9 391.4,280.8" fill="#4fa766"/>
<polygon class="d" points="181.8,357 183.2,357.1 197.2,357.7 195.8,357.7" fill="#048266"/>
<polygon class="d" points="265.7,354.5 267.1,354.1 281,354.5 279.6,354.9" fill="#078366"/>
<polygon class="c" points="293.6,349.4 295,348.6 309,348.9 307.6,349.7" fill="#0c8666"/>
<polygon points="321.6,339.5 323,338.1 336.9,338.3 335.5,339.7" fill="#158a66"/>
<polygon class="d" points="237.7,356.9 239.1,356.7 253.1,357.1 251.7,357.3" fill="#048266"/>
<polygon points="405.4,196 406.8,183.2 420.8,183.3 419.4,196.1" fill="#a1d066"/>
<polygon class="d" points="183.2,357.1 184.6,357.1 198.6,357.8 197.2,357.7" fill="#048266"/>
<polygon class="d" points="211.2,357.5 212.6,357.4 226.5,357.9 225.1,358" fill="#048266"/>
<polygon class="d" points="239.1,356.7 240.5,356.5 254.5,356.9 253.1,357.1" fill="#058266"/>
<polygon points="350.9,317.4 352.3,314.4 366.3,314.6 364.9,317.6" fill="#2b9566"/>
<polygon points="378.9,274.8 380.3,268.5 394.2,268.6 392.8,274.9" fill="#54aa66"/>
<polygon points="406.8,183.2 408.2,169.5 422.2,169.6 420.8,183.3" fill="#aed666"/>
<polygon class="d" points="267.1,354.1 268.5,353.7 282.4,354 281,354.5" fill="#078366"/>
<polygon class="c" points="295,348.6 296.4,347.8 310.4,348.1 309,348.9" fill="#0c8666"/>
<polygon points="323,338.1 324.4,336.6 338.3,336.8 336.9,338.3" fill="#178b66"/>
<polygon class="d" points="268.5,353.7 269.9,353.2 283.8,353.6 282.4,354" fill="#088466"/>
<polygon class="b" points="296.4,347.8 297.8,347 311.8,347.2 310.4,348.1" fill="#0d8666"/>
<polygon points="324.4,336.6 325.8,335 339.7,335.2 338.3,336.8" fill="#188c66"/>
<polygon class="d" points="184.6,357.1 186,357.1 200,357.8 198.6,357.8" fill="#048266"/>
<polygon class="d" points="212.6,357.4 214,357.3 227.9,357.8 226.5,357.9" fill="#048266"/>
<polygon class="d" points="240.5,356.5 241.9,356.3 255.9,356.7 254.5,356.9" fill="#058266"/>
<polygon points="352.3,314.4 353.7,311.2 367.7,311.3 366.3,314.6" fill="#2e9666"/>
<polygon points="380.3,268.5 381.6,261.7 395.6,261.8 394.2,268.6" fill="#5bad66"/>
<polygon points="408.2,169.5 409.6,154.6 423.6,154.7 422.2,169.6" fill="#bbdd66"/>
<polygon points="353.7,311.2 355.1,307.7 369.1,307.8 367.7,311.3" fill="#319866"/>
<polygon points="381.6,261.7 383,254.3 397,254.4 395.6,261.8" fill="#61b066"/>
<polygon points="409.6,154.6 411,138.4 425,138.5 423.6,154.7" fill="#cae466"/>
<polygon class="d" points="186,357.1 187.4,357.1 201.4,357.8 200,357.8" fill="#048266"/>
<polygon class="d" points="269.9,353.2 271.3,352.7 285.2,353.1 283.8,353.6" fill="#088466"/>
<polygon class="b" points="297.8,347 299.2,346.1 313.2,346.3 311.8,347.2" fill="#0e8666"/>
<polygon points="325.8,335 327.2,333.2 341.1,333.4 339.7,335.2" fill="#1a8c66"/>
<polygon class="d" points="214,357.3 215.4,357.2 229.3,357.7 227.9,357.8" fill="#048266"/>
<polygon class="d" points="241.9,356.3 243.3,356 257.3,356.5 255.9,356.7" fill="#058266"/>
<polygon class="d" points="271.3,352.7 272.7,352.2 286.6,352.6 285.2,353.1" fill="#088466"/>
<polygon class="d" points="187.4,357.1 188.8,357.1 202.8,357.8 201.4,357.8" fill="#048266"/>
<polygon class="d" points="215.4,357.2 216.8,357.1 230.7,357.6 229.3,357.7" fill="#048266"/>
<polygon class="d" points="243.3,356 244.7,355.7 258.7,356.2 257.3,356.5" fill="#058266"/>
<polygon points="355.1,307.7 356.5,303.9 370.5,304.1 369.1,307.8" fill="#349a66"/>
<polygon points="383,254.3 384.4,246.4 398.4,246.5 397,254.4" fill="#68b366"/>
<polygon points="411,138.4 412.4,120.9 426.4,121 425,138.5" fill="#d9ec66"/>
<polygon class="b" points="299.2,346.1 300.6,345.1 314.6,345.4 313.2,346.3" fill="#0f8766"/>
<polygon points="327.2,333.2 328.5,331.4 342.5,331.6 341.1,333.4" fill="#1b8d66"/>
<polygon points="356.5,303.9 357.9,299.9 371.9,300.1 370.5,304.1" fill="#389c66"/>
<polygon class="d" points="188.8,357.1 190.2,357.1 204.2,357.8 202.8,357.8" fill="#048266"/>
<polygon class="d" points="272.7,352.2 274.1,351.6 288,352 286.6,352.6" fill="#098466"/>
<polygon class="b" points="300.6,345.1 302,344.1 316,344.3 314.6,345.4" fill="#108866"/>
<polygon points="328.5,331.4 329.9,329.4 343.9,329.6 342.5,331.6" fill="#1d8e66"/>
<polygon class="d" points="216.8,357.1 218.2,357 232.1,357.5 230.7,357.6" fill="#048266"/>
<polygon class="d" points="244.7,355.7 246.1,355.4 260.1,355.9 258.7,356.2" fill="#068266"/>
<polygon points="384.4,246.4 385.8,237.8 399.8,237.9 398.4,246.5" fill="#70b866"/>
<polygon points="412.4,120.9 413.8,102 427.8,102.1 426.4,121" fill="#eaf466"/>
<polygon class="d" points="190.2,357.1 191.6,357.1 205.6,357.7 204.2,357.8" fill="#048266"/>
<polygon class="d" points="218.2,357 219.6,356.8 233.5,357.4 232.1,357.5" fill="#048266"/>
<polygon points="357.9,299.9 359.3,295.6 373.3,295.8 371.9,300.1" fill="#3c9e66"/>
<polygon points="385.8,237.8 387.2,228.5 401.2,228.6 399.8,237.9" fill="#78bc66"/>
<polygon class="d" points="274.1,351.6 275.5,351 289.4,351.4 288,352" fill="#0a8466"/>
<polygon class="b" points="302,344.1 303.4,343 317.4,343.2 316,344.3" fill="#118866"/>
<polygon points="329.9,329.4 331.3,327.3 345.3,327.5 343.9,329.6" fill="#1f8f66"/>
<polygon class="d" points="246.1,355.4 247.5,355.1 261.5,355.6 260.1,355.9" fill="#068266"/>
<polygon class="c" points="275.5,351 276.8,350.4 290.8,350.8 289.4,351.4" fill="#0a8466"/>
<polygon class="b" points="303.4,343 304.8,341.8 318.8,342.1 317.4,343.2" fill="#128866"/>
<polygon class="d" points="191.6,357.1 193,357.1 207,357.7 205.6,357.7" fill="#048266"/>
<polygon class="d" points="219.6,356.8 221,356.7 234.9,357.2 233.5,357.4" fill="#048266"/>
<polygon class="d" points="247.5,355.1 248.9,354.8 262.9,355.3 261.5,355.6" fill="#068266"/>
<polygon points="359.3,295.6 360.7,290.9 374.7,291.1 373.3,295.8" fill="#40a066"/>
<polygon points="387.2,228.5 388.6,218.4 402.6,218.6 401.2,228.6" fill="#82c066"/>
<polygon points="331.3,327.3 332.7,325 346.7,325.2 345.3,327.5" fill="#219066"/>
<polygon points="360.7,290.9 362.1,285.9 376.1,286.1 374.7,291.1" fill="#45a266"/>
<polygon points="388.6,218.4 390,207.6 404,207.7 402.6,218.6" fill="#8bc566"/>
<polygon class="d" points="193,357.1 194.4,357 208.4,357.6 207,357.7" fill="#048266"/>
<polygon class="c" points="276.8,350.4 278.2,349.7 292.2,350.1 290.8,350.8" fill="#0b8566"/>
<polygon class="b" points="304.8,341.8 306.2,340.6 320.2,340.8 318.8,342.1" fill="#138966"/>
<polygon points="332.7,325 334.1,322.6 348.1,322.8 346.7,325.2" fill="#239166"/>
<polygon class="d" points="221,356.7 222.4,356.5 236.3,357.1 234.9,357.2" fill="#058266"/>
<polygon class="d" points="248.9,354.8 250.3,354.4 264.3,354.9 262.9,355.3" fill="#068266"/>
<polygon class="c" points="278.2,349.7 279.6,349 293.6,349.4 292.2,350.1" fill="#0b8566"/>
<polygon class="d" points="194.4,357 195.8,356.9 209.8,357.6 208.4,357.6" fill="#048266"/>
<polygon class="d" points="222.4,356.5 223.7,356.3 237.7,356.9 236.3,357.1" fill="#058266"/>
<polygon class="d" points="250.3,354.4 251.7,354 265.7,354.5 264.3,354.9" fill="#078366"/>
<polygon points="362.1,285.9 363.5,280.5 377.5,280.6 376.1,286.1" fill="#4aa466"/>
<polygon points="390,207.6 391.4,195.8 405.4,196 404,207.7" fill="#96cb66"/>
<polygon points="306.2,340.6 307.6,339.2 321.6,339.5 320.2,340.8" fill="#148a66"/>
<polygon points="334.1,322.6 335.5,320 349.5,320.2 348.1,322.8" fill="#269266"/>
<polygon points="363.5,280.5 364.9,274.6 378.9,274.8 377.5,280.6" fill="#4fa766"/>
<polygon class="d" points="195.8,356.9 197.2,356.9 211.2,357.5 209.8,357.6" fill="#048266"/>
<polygon class="c" points="279.6,349 281,348.3 295,348.6 293.6,349.4" fill="#0c8666"/>
<polygon points="307.6,339.2 309,337.8 323,338.1 321.6,339.5" fill="#168a66"/>
<polygon points="335.5,320 336.9,317.2 350.9,317.4 349.5,320.2" fill="#289366"/>
<polygon class="d" points="223.7,356.3 225.1,356.1 239.1,356.7 237.7,356.9" fill="#058266"/>
<polygon class="d" points="251.7,354 253.1,353.6 267.1,354.1 265.7,354.5" fill="#078366"/>
<polygon points="391.4,195.8 392.8,183.1 406.8,183.2 405.4,196" fill="#a1d066"/>
<polygon class="d" points="197.2,356.9 198.6,356.8 212.6,357.4 211.2,357.5" fill="#048266"/>
<polygon class="d" points="225.1,356.1 226.5,355.9 240.5,356.5 239.1,356.7" fill="#058266"/>
<polygon points="364.9,274.6 366.3,268.3 380.3,268.5 378.9,274.8" fill="#55aa66"/>
<polygon points="392.8,183.1 394.2,169.3 408.2,169.5 406.8,183.2" fill="#aed666"/>
<polygon class="c" points="281,348.3 282.4,347.5 296.4,347.8 295,348.6" fill="#0d8666"/>
<polygon points="309,337.8 310.4,336.3 324.4,336.6 323,338.1" fill="#178b66"/>
<polygon points="336.9,317.2 338.3,314.2 352.3,314.4 350.9,317.4" fill="#2b9566"/>
<polygon class="d" points="253.1,353.6 254.5,353.2 268.5,353.7 267.1,354.1" fill="#088466"/>
<polygon class="b" points="282.4,347.5 283.8,346.6 297.8,347 296.4,347.8" fill="#0e8666"/>
<polygon points="310.4,336.3 311.8,334.7 325.8,335 324.4,336.6" fill="#188c66"/>
<polygon class="d" points="198.6,356.8 200,356.7 214,357.3 212.6,357.4" fill="#058266"/>
<polygon class="d" points="226.5,355.9 227.9,355.7 241.9,356.3 240.5,356.5" fill="#058266"/>
<polygon class="d" points="254.5,353.2 255.9,352.7 269.9,353.2 268.5,353.7" fill="#088466"/>
<polygon points="366.3,268.3 367.7,261.5 381.6,261.7 380.3,268.5" fill="#5bad66"/>
<polygon points="394.2,169.3 395.6,154.4 409.6,154.6 408.2,169.5" fill="#bbdd66"/>
<polygon points="338.3,314.2 339.7,311 353.7,311.2 352.3,314.4" fill="#2e9666"/>
<polygon points="367.7,261.5 369.1,254.2 383,254.3 381.6,261.7" fill="#61b066"/>
<polygon points="395.6,154.4 397,138.3 411,138.4 409.6,154.6" fill="#cae466"/>
<polygon class="b" points="283.8,346.6 285.2,345.7 299.2,346.1 297.8,347" fill="#0e8666"/>
<polygon points="311.8,334.7 313.2,333 327.2,333.2 325.8,335" fill="#1a8c66"/>
<polygon points="339.7,311 341.1,307.5 355.1,307.7 353.7,311.2" fill="#319866"/>
<polygon class="d" points="200,356.7 201.4,356.5 215.4,357.2 214,357.3" fill="#058266"/>
<polygon class="d" points="227.9,355.7 229.3,355.4 243.3,356 241.9,356.3" fill="#068266"/>
<polygon class="d" points="255.9,352.7 257.3,352.2 271.3,352.7 269.9,353.2" fill="#088466"/>
<polygon class="d" points="201.4,356.5 202.8,356.4 216.8,357.1 215.4,357.2" fill="#058266"/>
<polygon class="d" points="229.3,355.4 230.7,355.1 244.7,355.7 243.3,356" fill="#068266"/>
<polygon class="d" points="257.3,352.2 258.7,351.7 272.7,352.2 271.3,352.7" fill="#098466"/>
<polygon points="369.1,254.2 370.5,246.2 384.4,246.4 383,254.3" fill="#68b366"/>
<polygon points="397,138.3 398.4,120.8 412.4,120.9 411,138.4" fill="#d9ec66"/>
<polygon class="b" points="285.2,345.7 286.6,344.7 300.6,345.1 299.2,346.1" fill="#0f8766"/>
<polygon points="313.2,333 314.6,331.1 328.5,331.4 327.2,333.2" fill="#1c8e66"/>
<polygon points="341.1,307.5 342.5,303.8 356.5,303.9 355.1,307.7" fill="#359a66"/>
<polygon class="b" points="286.6,344.7 288,343.7 302,344.1 300.6,345.1" fill="#108866"/>
<polygon points="314.6,331.1 316,329.1 329.9,329.4 328.5,331.4" fill="#1e8e66"/>
<polygon points="342.5,303.8 343.9,299.7 357.9,299.9 356.5,303.9" fill="#389c66"/>
<polygon class="d" points="202.8,356.4 204.2,356.3 218.2,357 216.8,357.1" fill="#058266"/>
<polygon class="d" points="230.7,355.1 232.1,354.8 246.1,355.4 244.7,355.7" fill="#068266"/>
<polygon class="d" points="258.7,351.7 260.1,351.2 274.1,351.6 272.7,352.2" fill="#098466"/>
<polygon points="370.5,246.2 371.9,237.6 385.8,237.8 384.4,246.4" fill="#70b866"/>
<polygon points="398.4,120.8 399.8,101.8 413.8,102 412.4,120.9" fill="#eaf466"/>
<polygon class="d" points="204.2,356.3 205.6,356.1 219.6,356.8 218.2,357" fill="#058266"/>
<polygon points="371.9,237.6 373.3,228.3 387.2,228.5 385.8,237.8" fill="#79bc66"/>
<polygon class="d" points="232.1,354.8 233.5,354.5 247.5,355.1 246.1,355.4" fill="#068266"/>
<polygon class="d" points="260.1,351.2 261.5,350.6 275.5,351 274.1,351.6" fill="#0a8466"/>
<polygon class="b" points="288,343.7 289.4,342.6 303.4,343 302,344.1" fill="#118866"/>
<polygon points="316,329.1 317.4,327 331.3,327.3 329.9,329.4" fill="#1f8f66"/>
<polygon points="343.9,299.7 345.3,295.4 359.3,295.6 357.9,299.9" fill="#3c9e66"/>
<polygon class="d" points="205.6,356.1 207,355.9 221,356.7 219.6,356.8" fill="#058266"/>
<polygon class="d" points="233.5,354.5 234.9,354.2 248.9,354.8 247.5,355.1" fill="#078366"/>
<polygon class="c" points="261.5,350.6 262.9,349.9 276.8,350.4 275.5,351" fill="#0b8566"/>
<polygon class="b" points="289.4,342.6 290.8,341.5 304.8,341.8 303.4,343" fill="#128866"/>
<polygon points="317.4,327 318.8,324.8 332.7,325 331.3,327.3" fill="#229066"/>
<polygon points="345.3,295.4 346.7,290.7 360.7,290.9 359.3,295.6" fill="#40a066"/>
<polygon points="373.3,228.3 374.7,218.3 388.6,218.4 387.2,228.5" fill="#82c066"/>
<polygon class="b" points="290.8,341.5 292.2,340.2 306.2,340.6 304.8,341.8" fill="#138966"/>
<polygon points="318.8,324.8 320.2,322.3 334.1,322.6 332.7,325" fill="#249266"/>
<polygon points="346.7,290.7 348.1,285.7 362.1,285.9 360.7,290.9" fill="#45a266"/>
<polygon points="374.7,218.3 376.1,207.4 390,207.6 388.6,218.4" fill="#8bc566"/>
<polygon class="d" points="207,355.9 208.4,355.7 222.4,356.5 221,356.7" fill="#058266"/>
<polygon class="d" points="234.9,354.2 236.3,353.8 250.3,354.4 248.9,354.8" fill="#078366"/>
<polygon class="c" points="262.9,349.9 264.3,349.3 278.2,349.7 276.8,350.4" fill="#0b8566"/>
<polygon class="d" points="208.4,355.7 209.8,355.5 223.7,356.3 222.4,356.5" fill="#068266"/>
<polygon class="d" points="236.3,353.8 237.7,353.4 251.7,354 250.3,354.4" fill="#078366"/>
<polygon class="c" points="264.3,349.3 265.7,348.6 279.6,349 278.2,349.7" fill="#0c8666"/>
<polygon points="376.1,207.4 377.5,195.7 391.4,195.8 390,207.6" fill="#96cb66"/>
<polygon points="292.2,340.2 293.6,338.9 307.6,339.2 306.2,340.6" fill="#158a66"/>
<polygon points="320.2,322.3 321.6,319.7 335.5,320 334.1,322.6" fill="#269266"/>
<polygon points="348.1,285.7 349.5,280.3 363.5,280.5 362.1,285.9" fill="#4aa466"/>
<polygon class="d" points="209.8,355.5 211.2,355.3 225.1,356.1 223.7,356.3" fill="#068266"/>
<polygon class="d" points="237.7,353.4 239.1,353 253.1,353.6 251.7,354" fill="#088466"/>
<polygon class="c" points="265.7,348.6 267.1,347.8 281,348.3 279.6,349" fill="#0d8666"/>
<polygon points="293.6,338.9 295,337.5 309,337.8 307.6,339.2" fill="#168a66"/>
<polygon points="321.6,319.7 323,316.9 336.9,317.2 335.5,320" fill="#299466"/>
<polygon points="349.5,280.3 350.9,274.4 364.9,274.6 363.5,280.5" fill="#4fa766"/>
<polygon points="377.5,195.7 378.9,183 392.8,183.1 391.4,195.8" fill="#a1d066"/>
<polygon class="d" points="211.2,355.3 212.6,355.1 226.5,355.9 225.1,356.1" fill="#068266"/>
<polygon points="295,337.5 296.4,336 310.4,336.3 309,337.8" fill="#178b66"/>
<polygon points="323,316.9 324.4,313.9 338.3,314.2 336.9,317.2" fill="#2b9566"/>
<polygon points="350.9,274.4 352.3,268.1 366.3,268.3 364.9,274.6" fill="#55aa66"/>
<polygon points="378.9,183 380.3,169.2 394.2,169.3 392.8,183.1" fill="#aed666"/>
<polygon class="d" points="239.1,353 240.5,352.6 254.5,353.2 253.1,353.6" fill="#088466"/>
<polygon class="c" points="267.1,347.8 268.5,347 282.4,347.5 281,348.3" fill="#0d8666"/>
<polygon points="296.4,336 297.8,334.4 311.8,334.7 310.4,336.3" fill="#198c66"/>
<polygon class="d" points="212.6,355.1 214,354.8 227.9,355.7 226.5,355.9" fill="#068266"/>
<polygon class="d" points="240.5,352.6 241.9,352.1 255.9,352.7 254.5,353.2" fill="#098466"/>
<polygon class="b" points="268.5,347 269.9,346.2 283.8,346.6 282.4,347.5" fill="#0e8666"/>
<polygon points="380.3,169.2 381.6,154.3 395.6,154.4 394.2,169.3" fill="#bbdd66"/>
<polygon points="324.4,313.9 325.8,310.7 339.7,311 338.3,314.2" fill="#2e9666"/>
<polygon points="352.3,268.1 353.7,261.3 367.7,261.5 366.3,268.3" fill="#5bad66"/>
<polygon points="381.6,154.3 383,138.1 397,138.3 395.6,154.4" fill="#cae466"/>
<polygon class="d" points="214,354.8 215.4,354.6 229.3,355.4 227.9,355.7" fill="#068266"/>
<polygon class="d" points="241.9,352.1 243.3,351.6 257.3,352.2 255.9,352.7" fill="#098466"/>
<polygon class="b" points="269.9,346.2 271.3,345.3 285.2,345.7 283.8,346.6" fill="#0f8766"/>
<polygon points="297.8,334.4 299.2,332.6 313.2,333 311.8,334.7" fill="#1a8c66"/>
<polygon points="325.8,310.7 327.2,307.2 341.1,307.5 339.7,311" fill="#319866"/>
<polygon points="353.7,261.3 355.1,254 369.1,254.2 367.7,261.5" fill="#62b066"/>
<polygon class="d" points="215.4,354.6 216.8,354.3 230.7,355.1 229.3,355.4" fill="#078366"/>
<polygon class="d" points="243.3,351.6 244.7,351.1 258.7,351.7 257.3,352.2" fill="#0a8466"/>
<polygon points="299.2,332.6 300.6,330.8 314.6,331.1 313.2,333" fill="#1c8e66"/>
<polygon points="327.2,307.2 328.5,303.5 342.5,303.8 341.1,307.5" fill="#359a66"/>
<polygon points="355.1,254 356.5,246 370.5,246.2 369.1,254.2" fill="#69b466"/>
<polygon points="383,138.1 384.4,120.7 398.4,120.8 397,138.3" fill="#daec66"/>
<polygon class="b" points="271.3,345.3 272.7,344.3 286.6,344.7 285.2,345.7" fill="#108866"/>
<polygon points="300.6,330.8 302,328.8 316,329.1 314.6,331.1" fill="#1e8e66"/>
<polygon points="328.5,303.5 329.9,299.5 343.9,299.7 342.5,303.8" fill="#389c66"/>
<polygon class="d" points="216.8,354.3 218.2,354 232.1,354.8 230.7,355.1" fill="#078366"/>
<polygon class="d" points="244.7,351.1 246.1,350.5 260.1,351.2 258.7,351.7" fill="#0a8466"/>
<polygon class="b" points="272.7,344.3 274.1,343.3 288,343.7 286.6,344.7" fill="#118866"/>
<polygon points="384.4,120.7 385.8,101.7 399.8,101.8 398.4,120.8" fill="#ebf566"/>
<polygon points="356.5,246 357.9,237.4 371.9,237.6 370.5,246.2" fill="#70b866"/>
<polygon class="d" points="218.2,354 219.6,353.6 233.5,354.5 232.1,354.8" fill="#078366"/>
<polygon class="d" points="246.1,350.5 247.5,349.9 261.5,350.6 260.1,351.2" fill="#0b8566"/>
<polygon class="b" points="274.1,343.3 275.5,342.2 289.4,342.6 288,343.7" fill="#128866"/>
<polygon points="302,328.8 303.4,326.7 317.4,327 316,329.1" fill="#209066"/>
<polygon points="329.9,299.5 331.3,295.2 345.3,295.4 343.9,299.7" fill="#3c9e66"/>
<polygon points="357.9,237.4 359.3,228.2 373.3,228.3 371.9,237.6" fill="#79bc66"/>
<polygon class="d" points="219.6,353.6 221,353.3 234.9,354.2 233.5,354.5" fill="#088466"/>
<polygon class="c" points="247.5,349.9 248.9,349.3 262.9,349.9 261.5,350.6" fill="#0b8566"/>
<polygon class="b" points="275.5,342.2 276.8,341 290.8,341.5 289.4,342.6" fill="#138966"/>
<polygon points="303.4,326.7 304.8,324.5 318.8,324.8 317.4,327" fill="#229066"/>
<polygon points="331.3,295.2 332.7,290.5 346.7,290.7 345.3,295.4" fill="#41a066"/>
<polygon points="359.3,228.2 360.7,218.1 374.7,218.3 373.3,228.3" fill="#82c066"/>
<polygon points="304.8,324.5 306.2,322 320.2,322.3 318.8,324.8" fill="#249266"/>
<polygon points="332.7,290.5 334.1,285.5 348.1,285.7 346.7,290.7" fill="#45a266"/>
<polygon points="360.7,218.1 362.1,207.3 376.1,207.4 374.7,218.3" fill="#8cc666"/>
<polygon class="d" points="221,353.3 222.4,352.9 236.3,353.8 234.9,354.2" fill="#088466"/>
<polygon class="c" points="248.9,349.3 250.3,348.7 264.3,349.3 262.9,349.9" fill="#0c8666"/>
<polygon class="b" points="276.8,341 278.2,339.8 292.2,340.2 290.8,341.5" fill="#148a66"/>
<polygon class="d" points="222.4,352.9 223.7,352.5 237.7,353.4 236.3,353.8" fill="#088466"/>
<polygon class="c" points="250.3,348.7 251.7,347.9 265.7,348.6 264.3,349.3" fill="#0c8666"/>
<polygon points="278.2,339.8 279.6,338.5 293.6,338.9 292.2,340.2" fill="#158a66"/>
<polygon points="306.2,322 307.6,319.4 321.6,319.7 320.2,322.3" fill="#269266"/>
<polygon points="334.1,285.5 335.5,280.1 349.5,280.3 348.1,285.7" fill="#4aa466"/>
<polygon points="362.1,207.3 363.5,195.5 377.5,195.7 376.1,207.4" fill="#96cb66"/>
<polygon class="d" points="223.7,352.5 225.1,352.1 239.1,353 237.7,353.4" fill="#098466"/>
<polygon class="c" points="251.7,347.9 253.1,347.2 267.1,347.8 265.7,348.6" fill="#0d8666"/>
<polygon points="279.6,338.5 281,337.1 295,337.5 293.6,338.9" fill="#168a66"/>
<polygon points="307.6,319.4 309,316.6 323,316.9 321.6,319.7" fill="#299466"/>
<polygon points="335.5,280.1 336.9,274.2 350.9,274.4 349.5,280.3" fill="#4fa766"/>
<polygon points="363.5,195.5 364.9,182.8 378.9,183 377.5,195.7" fill="#a2d066"/>
<polygon points="309,316.6 310.4,313.6 324.4,313.9 323,316.9" fill="#2c9666"/>
<polygon points="336.9,274.2 338.3,267.9 352.3,268.1 350.9,274.4" fill="#55aa66"/>
<polygon points="364.9,182.8 366.3,169 380.3,169.2 378.9,183" fill="#aed666"/>
<polygon class="d" points="225.1,352.1 226.5,351.7 240.5,352.6 239.1,353" fill="#098466"/>
<polygon class="c" points="253.1,347.2 254.5,346.4 268.5,347 267.1,347.8" fill="#0e8666"/>
<polygon points="281,337.1 282.4,335.5 296.4,336 295,337.5" fill="#188c66"/>
<polygon class="d" points="226.5,351.7 227.9,351.2 241.9,352.1 240.5,352.6" fill="#098466"/>
<polygon class="c" points="254.5,346.4 255.9,345.6 269.9,346.2 268.5,347" fill="#0f8766"/>
<polygon points="282.4,335.5 283.8,333.9 297.8,334.4 296.4,336" fill="#198c66"/>
<polygon points="310.4,313.6 311.8,310.4 325.8,310.7 324.4,313.9" fill="#2f9766"/>
<polygon points="338.3,267.9 339.7,261.1 353.7,261.3 352.3,268.1" fill="#5bad66"/>
<polygon points="366.3,169 367.7,154.1 381.6,154.3 380.3,169.2" fill="#bbdd66"/>
<polygon class="d" points="227.9,351.2 229.3,350.7 243.3,351.6 241.9,352.1" fill="#0a8466"/>
<polygon class="b" points="255.9,345.6 257.3,344.7 271.3,345.3 269.9,346.2" fill="#0f8766"/>
<polygon points="283.8,333.9 285.2,332.2 299.2,332.6 297.8,334.4" fill="#1b8d66"/>
<polygon points="311.8,310.4 313.2,306.9 327.2,307.2 325.8,310.7" fill="#329866"/>
<polygon points="339.7,261.1 341.1,253.7 355.1,254 353.7,261.3" fill="#62b066"/>
<polygon points="367.7,154.1 369.1,138 383,138.1 381.6,154.3" fill="#cae466"/>
<polygon class="d" points="229.3,350.7 230.7,350.2 244.7,351.1 243.3,351.6" fill="#0a8466"/>
<polygon points="313.2,306.9 314.6,303.2 328.5,303.5 327.2,307.2" fill="#359a66"/>
<polygon points="341.1,253.7 342.5,245.8 356.5,246 355.1,254" fill="#69b466"/>
<polygon points="369.1,138 370.5,120.5 384.4,120.7 383,138.1" fill="#daec66"/>
<polygon class="b" points="257.3,344.7 258.7,343.7 272.7,344.3 271.3,345.3" fill="#108866"/>
<polygon points="285.2,332.2 286.6,330.4 300.6,330.8 299.2,332.6" fill="#1c8e66"/>
<polygon points="314.6,303.2 316,299.2 329.9,299.5 328.5,303.5" fill="#399c66"/>
<polygon class="d" points="230.7,350.2 232.1,349.7 246.1,350.5 244.7,351.1" fill="#0b8566"/>
<polygon class="b" points="258.7,343.7 260.1,342.7 274.1,343.3 272.7,344.3" fill="#118866"/>
<polygon points="286.6,330.4 288,328.4 302,328.8 300.6,330.8" fill="#1e8e66"/>
<polygon points="342.5,245.8 343.9,237.2 357.9,237.4 356.5,246" fill="#71b866"/>
<polygon points="370.5,120.5 371.9,101.5 385.8,101.7 384.4,120.7" fill="#ebf566"/>
<polygon class="d" points="232.1,349.7 233.5,349.1 247.5,349.9 246.1,350.5" fill="#0b8566"/>
<polygon class="b" points="260.1,342.7 261.5,341.6 275.5,342.2 274.1,343.3" fill="#128866"/>
<polygon points="288,328.4 289.4,326.3 303.4,326.7 302,328.8" fill="#209066"/>
<polygon points="316,299.2 317.4,294.9 331.3,295.2 329.9,299.5" fill="#3d9e66"/>
<polygon points="343.9,237.2 345.3,227.9 359.3,228.2 357.9,237.4" fill="#79bc66"/>
<polygon class="c" points="233.5,349.1 234.9,348.4 248.9,349.3 247.5,349.9" fill="#0c8666"/>
<polygon class="b" points="261.5,341.6 262.9,340.4 276.8,341 275.5,342.2" fill="#138966"/>
<polygon points="317.4,294.9 318.8,290.2 332.7,290.5 331.3,295.2" fill="#41a066"/>
<polygon points="345.3,227.9 346.7,217.9 360.7,218.1 359.3,228.2" fill="#82c066"/>
<polygon points="289.4,326.3 290.8,324.1 304.8,324.5 303.4,326.7" fill="#229066"/>
<polygon points="318.8,290.2 320.2,285.2 334.1,285.5 332.7,290.5" fill="#45a266"/>
<polygon points="346.7,217.9 348.1,207 362.1,207.3 360.7,218.1" fill="#8cc666"/>
<polygon class="c" points="234.9,348.4 236.3,347.8 250.3,348.7 248.9,349.3" fill="#0d8666"/>
<polygon class="b" points="262.9,340.4 264.3,339.2 278.2,339.8 276.8,341" fill="#148a66"/>
<polygon points="290.8,324.1 292.2,321.6 306.2,322 304.8,324.5" fill="#249266"/>
<polygon class="c" points="236.3,347.8 237.7,347.1 251.7,347.9 250.3,348.7" fill="#0d8666"/>
<polygon points="264.3,339.2 265.7,337.9 279.6,338.5 278.2,339.8" fill="#168a66"/>
<polygon points="292.2,321.6 293.6,319 307.6,319.4 306.2,322" fill="#279366"/>
<polygon points="320.2,285.2 321.6,279.8 335.5,280.1 334.1,285.5" fill="#4aa466"/>
<polygon points="348.1,207 349.5,195.3 363.5,195.5 362.1,207.3" fill="#96cb66"/>
<polygon class="c" points="237.7,347.1 239.1,346.3 253.1,347.2 251.7,347.9" fill="#0e8666"/>
<polygon points="265.7,337.9 267.1,336.5 281,337.1 279.6,338.5" fill="#178b66"/>
<polygon points="293.6,319 295,316.2 309,316.6 307.6,319.4" fill="#299466"/>
<polygon points="321.6,279.8 323,273.9 336.9,274.2 335.5,280.1" fill="#50a866"/>
<polygon points="349.5,195.3 350.9,182.6 364.9,182.8 363.5,195.5" fill="#a2d066"/>
<polygon points="323,273.9 324.4,267.6 338.3,267.9 336.9,274.2" fill="#55aa66"/>
<polygon points="350.9,182.6 352.3,168.8 366.3,169 364.9,182.8" fill="#aed666"/>
<polygon class="c" points="239.1,346.3 240.5,345.6 254.5,346.4 253.1,347.2" fill="#0f8766"/>
<polygon points="267.1,336.5 268.5,335 282.4,335.5 281,337.1" fill="#188c66"/>
<polygon points="295,316.2 296.4,313.2 310.4,313.6 309,316.6" fill="#2c9666"/>
<polygon class="c" points="240.5,345.6 241.9,344.7 255.9,345.6 254.5,346.4" fill="#0f8766"/>
<polygon points="268.5,335 269.9,333.4 283.8,333.9 282.4,335.5" fill="#1a8c66"/>
<polygon points="296.4,313.2 297.8,310 311.8,310.4 310.4,313.6" fill="#2f9766"/>
<polygon points="324.4,267.6 325.8,260.8 339.7,261.1 338.3,267.9" fill="#5bad66"/>
<polygon points="352.3,168.8 353.7,153.9 367.7,154.1 366.3,169" fill="#bcde66"/>
<polygon class="b" points="241.9,344.7 243.3,343.8 257.3,344.7 255.9,345.6" fill="#108866"/>
<polygon points="269.9,333.4 271.3,331.7 285.2,332.2 283.8,333.9" fill="#1b8d66"/>
<polygon points="297.8,310 299.2,306.6 313.2,306.9 311.8,310.4" fill="#329866"/>
<polygon points="325.8,260.8 327.2,253.5 341.1,253.7 339.7,261.1" fill="#62b066"/>
<polygon points="353.7,153.9 355.1,137.8 369.1,138 367.7,154.1" fill="#cae466"/>
<polygon points="327.2,253.5 328.5,245.5 342.5,245.8 341.1,253.7" fill="#69b466"/>
<polygon points="355.1,137.8 356.5,120.3 370.5,120.5 369.1,138" fill="#daec66"/>
<polygon class="b" points="243.3,343.8 244.7,342.9 258.7,343.7 257.3,344.7" fill="#118866"/>
<polygon points="271.3,331.7 272.7,329.8 286.6,330.4 285.2,332.2" fill="#1d8e66"/>
<polygon points="299.2,306.6 300.6,302.8 314.6,303.2 313.2,306.9" fill="#359a66"/>
<polygon class="b" points="244.7,342.9 246.1,341.9 260.1,342.7 258.7,343.7" fill="#128866"/>
<polygon points="272.7,329.8 274.1,327.9 288,328.4 286.6,330.4" fill="#1f8f66"/>
<polygon points="300.6,302.8 302,298.8 316,299.2 314.6,303.2" fill="#399c66"/>
<polygon points="328.5,245.5 329.9,236.9 343.9,237.2 342.5,245.8" fill="#71b866"/>
<polygon points="356.5,120.3 357.9,101.3 371.9,101.5 370.5,120.5" fill="#ebf566"/>
<polygon class="b" points="246.1,341.9 247.5,340.8 261.5,341.6 260.1,342.7" fill="#138966"/>
<polygon points="274.1,327.9 275.5,325.8 289.4,326.3 288,328.4" fill="#219066"/>
<polygon points="302,298.8 303.4,294.5 317.4,294.9 316,299.2" fill="#3d9e66"/>
<polygon points="329.9,236.9 331.3,227.7 345.3,227.9 343.9,237.2" fill="#79bc66"/>
<polygon class="b" points="247.5,340.8 248.9,339.6 262.9,340.4 261.5,341.6" fill="#148a66"/>
<polygon points="331.3,227.7 332.7,217.6 346.7,217.9 345.3,227.9" fill="#82c066"/>
<polygon points="275.5,325.8 276.8,323.5 290.8,324.1 289.4,326.3" fill="#239166"/>
<polygon points="303.4,294.5 304.8,289.8 318.8,290.2 317.4,294.9" fill="#41a066"/>
<polygon points="332.7,217.6 334.1,206.8 348.1,207 346.7,217.9" fill="#8cc666"/>
<polygon class="b" points="248.9,339.6 250.3,338.4 264.3,339.2 262.9,340.4" fill="#158a66"/>
<polygon points="276.8,323.5 278.2,321.1 292.2,321.6 290.8,324.1" fill="#259266"/>
<polygon points="304.8,289.8 306.2,284.8 320.2,285.2 318.8,290.2" fill="#46a266"/>
<polygon points="250.3,338.4 251.7,337.1 265.7,337.9 264.3,339.2" fill="#168a66"/>
<polygon points="278.2,321.1 279.6,318.5 293.6,319 292.2,321.6" fill="#279366"/>
<polygon points="306.2,284.8 307.6,279.4 321.6,279.8 320.2,285.2" fill="#4ba566"/>
<polygon points="334.1,206.8 335.5,195 349.5,195.3 348.1,207" fill="#97cb66"/>
<polygon points="251.7,337.1 253.1,335.7 267.1,336.5 265.7,337.9" fill="#188c66"/>
<polygon points="279.6,318.5 281,315.7 295,316.2 293.6,319" fill="#2a9466"/>
<polygon points="307.6,279.4 309,273.6 323,273.9 321.6,279.8" fill="#50a866"/>
<polygon points="335.5,195 336.9,182.3 350.9,182.6 349.5,195.3" fill="#a2d066"/>
<polygon points="336.9,182.3 338.3,168.5 352.3,168.8 350.9,182.6" fill="#aed666"/>
<polygon points="253.1,335.7 254.5,334.2 268.5,335 267.1,336.5" fill="#198c66"/>
<polygon points="281,315.7 282.4,312.7 296.4,313.2 295,316.2" fill="#2d9666"/>
<polygon points="309,273.6 310.4,267.3 324.4,267.6 323,273.9" fill="#56ab66"/>
<polygon points="254.5,334.2 255.9,332.6 269.9,333.4 268.5,335" fill="#1b8d66"/>
<polygon points="282.4,312.7 283.8,309.5 297.8,310 296.4,313.2" fill="#2f9766"/>
<polygon points="310.4,267.3 311.8,260.5 325.8,260.8 324.4,267.6" fill="#5cae66"/>
<polygon points="338.3,168.5 339.7,153.6 353.7,153.9 352.3,168.8" fill="#bcde66"/>
<polygon points="255.9,332.6 257.3,330.9 271.3,331.7 269.9,333.4" fill="#1c8e66"/>
<polygon points="283.8,309.5 285.2,306 299.2,306.6 297.8,310" fill="#339966"/>
<polygon points="311.8,260.5 313.2,253.1 327.2,253.5 325.8,260.8" fill="#62b066"/>
<polygon points="339.7,153.6 341.1,137.5 355.1,137.8 353.7,153.9" fill="#cae466"/>
<polygon points="341.1,137.5 342.5,120 356.5,120.3 355.1,137.8" fill="#daec66"/>
<polygon points="257.3,330.9 258.7,329.1 272.7,329.8 271.3,331.7" fill="#1e8e66"/>
<polygon points="285.2,306 286.6,302.3 300.6,302.8 299.2,306.6" fill="#369a66"/>
<polygon points="313.2,253.1 314.6,245.2 328.5,245.5 327.2,253.5" fill="#6ab466"/>
<polygon points="258.7,329.1 260.1,327.1 274.1,327.9 272.7,329.8" fill="#209066"/>
<polygon points="286.6,302.3 288,298.3 302,298.8 300.6,302.8" fill="#3a9c66"/>
<polygon points="314.6,245.2 316,236.6 329.9,236.9 328.5,245.5" fill="#71b866"/>
<polygon points="342.5,120 343.9,101.1 357.9,101.3 356.5,120.3" fill="#ebf566"/>
<polygon points="260.1,327.1 261.5,325 275.5,325.8 274.1,327.9" fill="#219066"/>
<polygon points="288,298.3 289.4,294 303.4,294.5 302,298.8" fill="#3d9e66"/>
<polygon points="316,236.6 317.4,227.3 331.3,227.7 329.9,236.9" fill="#7abc66"/>
<polygon points="261.5,325 262.9,322.8 276.8,323.5 275.5,325.8" fill="#239166"/>
<polygon points="289.4,294 290.8,289.3 304.8,289.8 303.4,294.5" fill="#42a066"/>
<polygon points="317.4,227.3 318.8,217.3 332.7,217.6 331.3,227.7" fill="#83c166"/>
<polygon points="262.9,322.8 264.3,320.3 278.2,321.1 276.8,323.5" fill="#269266"/>
<polygon points="290.8,289.3 292.2,284.3 306.2,284.8 304.8,289.8" fill="#46a266"/>
<polygon points="318.8,217.3 320.2,206.4 334.1,206.8 332.7,217.6" fill="#8cc666"/>
<polygon points="264.3,320.3 265.7,317.8 279.6,318.5 278.2,321.1" fill="#289366"/>
<polygon points="292.2,284.3 293.6,278.9 307.6,279.4 306.2,284.8" fill="#4ba566"/>
<polygon points="320.2,206.4 321.6,194.7 335.5,195 334.1,206.8" fill="#97cb66"/>
<polygon points="265.7,317.8 267.1,315 281,315.7 279.6,318.5" fill="#2b9566"/>
<polygon points="293.6,278.9 295,273.1 309,273.6 307.6,279.4" fill="#50a866"/>
<polygon points="321.6,194.7 323,182 336.9,182.3 335.5,195" fill="#a2d066"/>
<polygon points="267.1,315 268.5,312 282.4,312.7 281,315.7" fill="#2d9666"/>
<polygon points="295,273.1 296.4,266.8 310.4,267.3 309,273.6" fill="#56ab66"/>
<polygon points="323,182 324.4,168.2 338.3,168.5 336.9,182.3" fill="#afd766"/>
<polygon points="268.5,312 269.9,308.8 283.8,309.5 282.4,312.7" fill="#309866"/>
<polygon points="296.4,266.8 297.8,260 311.8,260.5 310.4,267.3" fill="#5cae66"/>
<polygon points="324.4,168.2 325.8,153.3 339.7,153.6 338.3,168.5" fill="#bcde66"/>
<polygon points="269.9,308.8 271.3,305.3 285.2,306 283.8,309.5" fill="#339966"/>
<polygon points="297.8,260 299.2,252.6 313.2,253.1 311.8,260.5" fill="#63b166"/>
<polygon points="325.8,153.3 327.2,137.2 341.1,137.5 339.7,153.6" fill="#cbe566"/>
<polygon points="271.3,305.3 272.7,301.6 286.6,302.3 285.2,306" fill="#379b66"/>
<polygon points="299.2,252.6 300.6,244.7 314.6,245.2 313.2,253.1" fill="#6ab466"/>
<polygon points="327.2,137.2 328.5,119.7 342.5,120 341.1,137.5" fill="#daec66"/>
<polygon points="272.7,301.6 274.1,297.6 288,298.3 286.6,302.3" fill="#3a9c66"/>
<polygon points="300.6,244.7 302,236.1 316,236.6 314.6,245.2" fill="#72b866"/>
<polygon points="328.5,119.7 329.9,100.7 343.9,101.1 342.5,120" fill="#ebf566"/>
<polygon points="274.1,297.6 275.5,293.3 289.4,294 288,298.3" fill="#3e9e66"/>
<polygon points="302,236.1 303.4,226.8 317.4,227.3 316,236.6" fill="#7abc66"/>
<polygon points="275.5,293.3 276.8,288.6 290.8,289.3 289.4,294" fill="#42a066"/>
<polygon points="303.4,226.8 304.8,216.8 318.8,217.3 317.4,227.3" fill="#83c166"/>
<polygon points="276.8,288.6 278.2,283.6 292.2,284.3 290.8,289.3" fill="#47a366"/>
<polygon points="304.8,216.8 306.2,205.9 320.2,206.4 318.8,217.3" fill="#8dc666"/>
<polygon points="278.2,283.6 279.6,278.2 293.6,278.9 292.2,284.3" fill="#4ca666"/>
<polygon points="306.2,205.9 307.6,194.2 321.6,194.7 320.2,206.4" fill="#97cb66"/>
<polygon points="279.6,278.2 281,272.4 295,273.1 293.6,278.9" fill="#51a866"/>
<polygon points="307.6,194.2 309,181.5 323,182 321.6,194.7" fill="#a3d166"/>
<polygon points="281,272.4 282.4,266.1 296.4,266.8 295,273.1" fill="#57ab66"/>
<polygon points="309,181.5 310.4,167.7 324.4,168.2 323,182" fill="#afd766"/>
<polygon points="282.4,266.1 283.8,259.3 297.8,260 296.4,266.8" fill="#5dae66"/>
<polygon points="310.4,167.7 311.8,152.8 325.8,153.3 324.4,168.2" fill="#bdde66"/>
<polygon points="283.8,259.3 285.2,252 299.2,252.6 297.8,260" fill="#63b166"/>
<polygon points="311.8,152.8 313.2,136.7 327.2,137.2 325.8,153.3" fill="#cbe566"/>
<polygon points="285.2,252 286.6,244 300.6,244.7 299.2,252.6" fill="#6bb566"/>
<polygon points="313.2,136.7 314.6,119.2 328.5,119.7 327.2,137.2" fill="#dbed66"/>
<polygon points="286.6,244 288,235.4 302,236.1 300.6,244.7" fill="#72b866"/>
<polygon points="314.6,119.2 316,100.3 329.9,100.7 328.5,119.7" fill="#ecf666"/>
<polygon points="288,235.4 289.4,226.2 303.4,226.8 302,236.1" fill="#7bbd66"/>
<polygon points="289.4,226.2 290.8,216.1 304.8,216.8 303.4,226.8" fill="#84c266"/>
<polygon points="290.8,216.1 292.2,205.3 306.2,205.9 304.8,216.8" fill="#8ec666"/>
<polygon points="292.2,205.3 293.6,193.6 307.6,194.2 306.2,205.9" fill="#98cc66"/>
<polygon points="293.6,193.6 295,180.9 309,181.5 307.6,194.2" fill="#a4d266"/>
<polygon points="295,180.9 296.4,167.1 310.4,167.7 309,181.5" fill="#b0d866"/>
<polygon points="296.4,167.1 297.8,152.2 311.8,152.8 310.4,167.7" fill="#bdde66"/>
<polygon points="297.8,152.2 299.2,136.1 313.2,136.7 311.8,152.8" fill="#cce666"/>
<polygon points="299.2,136.1 300.6,118.6 314.6,119.2 313.2,136.7" fill="#dcee66"/>
<polygon points="300.6,118.6 302,99.6 316,100.3 314.6,119.2" fill="#edf666"/>
</g>
<g stroke="#262626" stroke-width="0.7" fill="none"><line x1="92.4" y1="47" x2="92.4" y2="381.6"/><line x1="92.4" y1="381.6" x2="511.6" y2="381.6"/><line x1="83.8" y1="381.6" x2="92.4" y2="381.6"/><line x1="83.8" y1="325.8" x2="92.4" y2="325.8"/><line x1="83.8" y1="270.1" x2="92.4" y2="270.1"/><line x1="83.8" y1="214.3" x2="92.4" y2="214.3"/><line x1="83.8" y1="158.5" x2="92.4" y2="158.5"/><line x1="83.8" y1="102.8" x2="92.4" y2="102.8"/><line x1="83.8" y1="47" x2="92.4" y2="47"/><line x1="92.4" y1="381.6" x2="92.4" y2="389.8"/><line x1="162.3" y1="381.6" x2="162.3" y2="389.8"/><line x1="232.1" y1="381.6" x2="232.1" y2="389.8"/><line x1="302" y1="381.6" x2="302" y2="389.8"/><line x1="371.9" y1="381.6" x2="371.9" y2="389.8"/><line x1="441.7" y1="381.6" x2="441.7" y2="389.8"/><line x1="511.6" y1="381.6" x2="511.6" y2="389.8"/></g>
<g fill="#262626" font-family="Liberation Sans, Arial, Helvetica, sans-serif"><text x="77.8" y="386.2" text-anchor="end" font-size="12.8">0</text><text x="77.8" y="330.4" text-anchor="end" font-size="12.8">1</text><text x="77.8" y="274.7" text-anchor="end" font-size="12.8">2</text><text x="77.8" y="218.9" text-anchor="end" font-size="12.8">3</text><text x="77.8" y="163.1" text-anchor="end" font-size="12.8">4</text><text x="77.8" y="107.3" text-anchor="end" font-size="12.8">5</text><text x="77.8" y="51.6" text-anchor="end" font-size="12.8">6</text><text x="91.4" y="409.4" text-anchor="end" font-size="12.8">0</text><text x="161.3" y="409.4" text-anchor="end" font-size="12.8">50</text><text x="231.1" y="409.4" text-anchor="end" font-size="12.8">100</text><text x="301" y="409.4" text-anchor="end" font-size="12.8">150</text><text x="303" y="409.4" text-anchor="start" font-size="12.8">1000</text><text x="372.9" y="409.4" text-anchor="start" font-size="12.8">2000</text><text x="442.7" y="409.4" text-anchor="start" font-size="12.8">3000</text><text x="512.6" y="409.4" text-anchor="start" font-size="12.8">4000</text><text x="5.5" y="423.2" font-size="14.6">Age bird (day)</text><text x="541.3" y="423.2" text-anchor="end" font-size="14.75">Order size (number)</text><text transform="translate(63.4,213.7) rotate(-90)" text-anchor="middle" font-size="15.1">Total cost ($)</text><text x="57.1" y="28.7" font-size="15.5">×</text><text x="67.2" y="27.1" font-size="12.8">10</text><text x="82.3" y="20.1" font-size="10.3">7</text></g>
</svg>
</body></html>
